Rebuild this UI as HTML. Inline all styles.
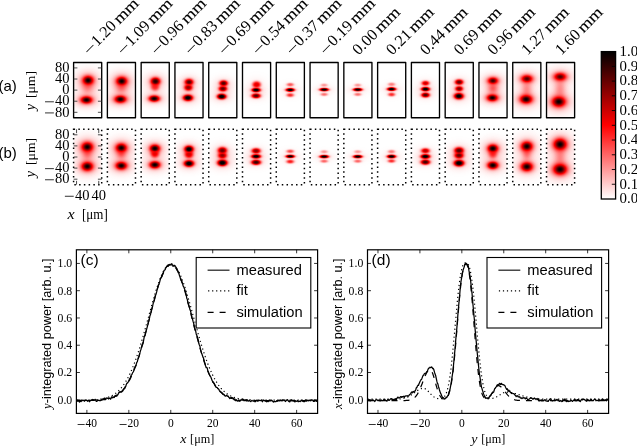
<!DOCTYPE html>
<html><head><meta charset="utf-8"><style>
html,body{margin:0;padding:0;background:#fff;width:637px;height:446px;overflow:hidden}
svg{display:block;will-change:transform;filter:blur(0.35px)}

</style></head><body>
<svg width="637" height="446" viewBox="0 0 637 446">
<rect width="637" height="446" fill="#fff"/>
<defs><filter id="bl" x="-20%" y="-20%" width="140%" height="140%" color-interpolation-filters="sRGB"><feGaussianBlur stdDeviation="0.6"/></filter><clipPath id="ca0"><rect x="73.60" y="62.47" width="28.10" height="55.30"/></clipPath><clipPath id="cb0"><rect x="73.60" y="129.35" width="28.10" height="55.30"/></clipPath><clipPath id="ca1"><rect x="107.38" y="62.47" width="28.10" height="55.30"/></clipPath><clipPath id="cb1"><rect x="107.38" y="129.35" width="28.10" height="55.30"/></clipPath><clipPath id="ca2"><rect x="141.16" y="62.47" width="28.10" height="55.30"/></clipPath><clipPath id="cb2"><rect x="141.16" y="129.35" width="28.10" height="55.30"/></clipPath><clipPath id="ca3"><rect x="174.94" y="62.47" width="28.10" height="55.30"/></clipPath><clipPath id="cb3"><rect x="174.94" y="129.35" width="28.10" height="55.30"/></clipPath><clipPath id="ca4"><rect x="208.72" y="62.47" width="28.10" height="55.30"/></clipPath><clipPath id="cb4"><rect x="208.72" y="129.35" width="28.10" height="55.30"/></clipPath><clipPath id="ca5"><rect x="242.50" y="62.47" width="28.10" height="55.30"/></clipPath><clipPath id="cb5"><rect x="242.50" y="129.35" width="28.10" height="55.30"/></clipPath><clipPath id="ca6"><rect x="276.28" y="62.47" width="28.10" height="55.30"/></clipPath><clipPath id="cb6"><rect x="276.28" y="129.35" width="28.10" height="55.30"/></clipPath><clipPath id="ca7"><rect x="310.06" y="62.47" width="28.10" height="55.30"/></clipPath><clipPath id="cb7"><rect x="310.06" y="129.35" width="28.10" height="55.30"/></clipPath><clipPath id="ca8"><rect x="343.84" y="62.47" width="28.10" height="55.30"/></clipPath><clipPath id="cb8"><rect x="343.84" y="129.35" width="28.10" height="55.30"/></clipPath><clipPath id="ca9"><rect x="377.62" y="62.47" width="28.10" height="55.30"/></clipPath><clipPath id="cb9"><rect x="377.62" y="129.35" width="28.10" height="55.30"/></clipPath><clipPath id="ca10"><rect x="411.40" y="62.47" width="28.10" height="55.30"/></clipPath><clipPath id="cb10"><rect x="411.40" y="129.35" width="28.10" height="55.30"/></clipPath><clipPath id="ca11"><rect x="445.18" y="62.47" width="28.10" height="55.30"/></clipPath><clipPath id="cb11"><rect x="445.18" y="129.35" width="28.10" height="55.30"/></clipPath><clipPath id="ca12"><rect x="478.96" y="62.47" width="28.10" height="55.30"/></clipPath><clipPath id="cb12"><rect x="478.96" y="129.35" width="28.10" height="55.30"/></clipPath><clipPath id="ca13"><rect x="512.74" y="62.47" width="28.10" height="55.30"/></clipPath><clipPath id="cb13"><rect x="512.74" y="129.35" width="28.10" height="55.30"/></clipPath><clipPath id="ca14"><rect x="546.52" y="62.47" width="28.10" height="55.30"/></clipPath><clipPath id="cb14"><rect x="546.52" y="129.35" width="28.10" height="55.30"/></clipPath><radialGradient id="r0"><stop offset="0.000" stop-color="#f00" stop-opacity="1.000"/><stop offset="0.025" stop-color="#f00" stop-opacity="1.000"/><stop offset="0.050" stop-color="#f00" stop-opacity="1.000"/><stop offset="0.075" stop-color="#f00" stop-opacity="1.000"/><stop offset="0.100" stop-color="#f00" stop-opacity="1.000"/><stop offset="0.125" stop-color="#f00" stop-opacity="1.000"/><stop offset="0.150" stop-color="#f00" stop-opacity="1.000"/><stop offset="0.175" stop-color="#f00" stop-opacity="1.000"/><stop offset="0.200" stop-color="#f00" stop-opacity="1.000"/><stop offset="0.225" stop-color="#f00" stop-opacity="0.870"/><stop offset="0.250" stop-color="#f00" stop-opacity="0.728"/><stop offset="0.275" stop-color="#f00" stop-opacity="0.602"/><stop offset="0.300" stop-color="#f00" stop-opacity="0.495"/><stop offset="0.325" stop-color="#f00" stop-opacity="0.405"/><stop offset="0.350" stop-color="#f00" stop-opacity="0.332"/><stop offset="0.375" stop-color="#f00" stop-opacity="0.273"/><stop offset="0.400" stop-color="#f00" stop-opacity="0.226"/><stop offset="0.425" stop-color="#f00" stop-opacity="0.189"/><stop offset="0.450" stop-color="#f00" stop-opacity="0.159"/><stop offset="0.475" stop-color="#f00" stop-opacity="0.135"/><stop offset="0.500" stop-color="#f00" stop-opacity="0.116"/><stop offset="0.525" stop-color="#f00" stop-opacity="0.100"/><stop offset="0.550" stop-color="#f00" stop-opacity="0.086"/><stop offset="0.575" stop-color="#f00" stop-opacity="0.075"/><stop offset="0.600" stop-color="#f00" stop-opacity="0.065"/><stop offset="0.625" stop-color="#f00" stop-opacity="0.056"/><stop offset="0.650" stop-color="#f00" stop-opacity="0.048"/><stop offset="0.675" stop-color="#f00" stop-opacity="0.041"/><stop offset="0.700" stop-color="#f00" stop-opacity="0.035"/><stop offset="0.725" stop-color="#f00" stop-opacity="0.030"/><stop offset="0.750" stop-color="#f00" stop-opacity="0.025"/><stop offset="0.775" stop-color="#f00" stop-opacity="0.021"/><stop offset="0.800" stop-color="#f00" stop-opacity="0.018"/><stop offset="0.825" stop-color="#f00" stop-opacity="0.015"/><stop offset="0.850" stop-color="#f00" stop-opacity="0.012"/><stop offset="0.875" stop-color="#f00" stop-opacity="0.010"/><stop offset="0.900" stop-color="#f00" stop-opacity="0.008"/><stop offset="0.925" stop-color="#f00" stop-opacity="0.007"/><stop offset="0.950" stop-color="#f00" stop-opacity="0.006"/><stop offset="0.975" stop-color="#f00" stop-opacity="0.004"/><stop offset="1.000" stop-color="#f00" stop-opacity="0.000"/></radialGradient><radialGradient id="k0"><stop offset="0.000" stop-color="#000" stop-opacity="1.000"/><stop offset="0.025" stop-color="#000" stop-opacity="0.978"/><stop offset="0.050" stop-color="#000" stop-opacity="0.915"/><stop offset="0.075" stop-color="#000" stop-opacity="0.815"/><stop offset="0.100" stop-color="#000" stop-opacity="0.684"/><stop offset="0.125" stop-color="#000" stop-opacity="0.530"/><stop offset="0.150" stop-color="#000" stop-opacity="0.364"/><stop offset="0.175" stop-color="#000" stop-opacity="0.194"/><stop offset="0.200" stop-color="#000" stop-opacity="0.027"/><stop offset="0.225" stop-color="#000" stop-opacity="0.000"/></radialGradient><radialGradient id="r1"><stop offset="0.000" stop-color="#f00" stop-opacity="0.440"/><stop offset="0.025" stop-color="#f00" stop-opacity="0.435"/><stop offset="0.050" stop-color="#f00" stop-opacity="0.421"/><stop offset="0.075" stop-color="#f00" stop-opacity="0.399"/><stop offset="0.100" stop-color="#f00" stop-opacity="0.370"/><stop offset="0.125" stop-color="#f00" stop-opacity="0.337"/><stop offset="0.150" stop-color="#f00" stop-opacity="0.300"/><stop offset="0.175" stop-color="#f00" stop-opacity="0.263"/><stop offset="0.200" stop-color="#f00" stop-opacity="0.226"/><stop offset="0.225" stop-color="#f00" stop-opacity="0.191"/><stop offset="0.250" stop-color="#f00" stop-opacity="0.160"/><stop offset="0.275" stop-color="#f00" stop-opacity="0.132"/><stop offset="0.300" stop-color="#f00" stop-opacity="0.109"/><stop offset="0.325" stop-color="#f00" stop-opacity="0.089"/><stop offset="0.350" stop-color="#f00" stop-opacity="0.073"/><stop offset="0.375" stop-color="#f00" stop-opacity="0.060"/><stop offset="0.400" stop-color="#f00" stop-opacity="0.050"/><stop offset="0.425" stop-color="#f00" stop-opacity="0.041"/><stop offset="0.450" stop-color="#f00" stop-opacity="0.035"/><stop offset="0.475" stop-color="#f00" stop-opacity="0.030"/><stop offset="0.500" stop-color="#f00" stop-opacity="0.025"/><stop offset="0.525" stop-color="#f00" stop-opacity="0.022"/><stop offset="0.550" stop-color="#f00" stop-opacity="0.019"/><stop offset="0.575" stop-color="#f00" stop-opacity="0.016"/><stop offset="0.600" stop-color="#f00" stop-opacity="0.014"/><stop offset="0.625" stop-color="#f00" stop-opacity="0.012"/><stop offset="0.650" stop-color="#f00" stop-opacity="0.011"/><stop offset="0.675" stop-color="#f00" stop-opacity="0.009"/><stop offset="0.700" stop-color="#f00" stop-opacity="0.008"/><stop offset="0.725" stop-color="#f00" stop-opacity="0.007"/><stop offset="0.750" stop-color="#f00" stop-opacity="0.006"/><stop offset="0.775" stop-color="#f00" stop-opacity="0.005"/><stop offset="0.800" stop-color="#f00" stop-opacity="0.004"/><stop offset="0.825" stop-color="#f00" stop-opacity="0.003"/><stop offset="0.850" stop-color="#f00" stop-opacity="0.003"/><stop offset="0.875" stop-color="#f00" stop-opacity="0.002"/><stop offset="0.900" stop-color="#f00" stop-opacity="0.002"/><stop offset="0.925" stop-color="#f00" stop-opacity="0.001"/><stop offset="0.950" stop-color="#f00" stop-opacity="0.001"/><stop offset="0.975" stop-color="#f00" stop-opacity="0.001"/><stop offset="1.000" stop-color="#f00" stop-opacity="0.000"/></radialGradient><radialGradient id="r2"><stop offset="0.000" stop-color="#f00" stop-opacity="0.500"/><stop offset="0.025" stop-color="#f00" stop-opacity="0.495"/><stop offset="0.050" stop-color="#f00" stop-opacity="0.479"/><stop offset="0.075" stop-color="#f00" stop-opacity="0.454"/><stop offset="0.100" stop-color="#f00" stop-opacity="0.421"/><stop offset="0.125" stop-color="#f00" stop-opacity="0.383"/><stop offset="0.150" stop-color="#f00" stop-opacity="0.341"/><stop offset="0.175" stop-color="#f00" stop-opacity="0.298"/><stop offset="0.200" stop-color="#f00" stop-opacity="0.257"/><stop offset="0.225" stop-color="#f00" stop-opacity="0.217"/><stop offset="0.250" stop-color="#f00" stop-opacity="0.182"/><stop offset="0.275" stop-color="#f00" stop-opacity="0.151"/><stop offset="0.300" stop-color="#f00" stop-opacity="0.124"/><stop offset="0.325" stop-color="#f00" stop-opacity="0.101"/><stop offset="0.350" stop-color="#f00" stop-opacity="0.083"/><stop offset="0.375" stop-color="#f00" stop-opacity="0.068"/><stop offset="0.400" stop-color="#f00" stop-opacity="0.056"/><stop offset="0.425" stop-color="#f00" stop-opacity="0.047"/><stop offset="0.450" stop-color="#f00" stop-opacity="0.040"/><stop offset="0.475" stop-color="#f00" stop-opacity="0.034"/><stop offset="0.500" stop-color="#f00" stop-opacity="0.029"/><stop offset="0.525" stop-color="#f00" stop-opacity="0.025"/><stop offset="0.550" stop-color="#f00" stop-opacity="0.022"/><stop offset="0.575" stop-color="#f00" stop-opacity="0.019"/><stop offset="0.600" stop-color="#f00" stop-opacity="0.016"/><stop offset="0.625" stop-color="#f00" stop-opacity="0.014"/><stop offset="0.650" stop-color="#f00" stop-opacity="0.012"/><stop offset="0.675" stop-color="#f00" stop-opacity="0.010"/><stop offset="0.700" stop-color="#f00" stop-opacity="0.009"/><stop offset="0.725" stop-color="#f00" stop-opacity="0.008"/><stop offset="0.750" stop-color="#f00" stop-opacity="0.006"/><stop offset="0.775" stop-color="#f00" stop-opacity="0.005"/><stop offset="0.800" stop-color="#f00" stop-opacity="0.004"/><stop offset="0.825" stop-color="#f00" stop-opacity="0.004"/><stop offset="0.850" stop-color="#f00" stop-opacity="0.003"/><stop offset="0.875" stop-color="#f00" stop-opacity="0.003"/><stop offset="0.900" stop-color="#f00" stop-opacity="0.002"/><stop offset="0.925" stop-color="#f00" stop-opacity="0.002"/><stop offset="0.950" stop-color="#f00" stop-opacity="0.001"/><stop offset="0.975" stop-color="#f00" stop-opacity="0.001"/><stop offset="1.000" stop-color="#f00" stop-opacity="0.000"/></radialGradient><radialGradient id="r3"><stop offset="0.000" stop-color="#f00" stop-opacity="0.600"/><stop offset="0.025" stop-color="#f00" stop-opacity="0.594"/><stop offset="0.050" stop-color="#f00" stop-opacity="0.575"/><stop offset="0.075" stop-color="#f00" stop-opacity="0.544"/><stop offset="0.100" stop-color="#f00" stop-opacity="0.505"/><stop offset="0.125" stop-color="#f00" stop-opacity="0.459"/><stop offset="0.150" stop-color="#f00" stop-opacity="0.409"/><stop offset="0.175" stop-color="#f00" stop-opacity="0.358"/><stop offset="0.200" stop-color="#f00" stop-opacity="0.308"/><stop offset="0.225" stop-color="#f00" stop-opacity="0.261"/><stop offset="0.250" stop-color="#f00" stop-opacity="0.218"/><stop offset="0.275" stop-color="#f00" stop-opacity="0.181"/><stop offset="0.300" stop-color="#f00" stop-opacity="0.149"/><stop offset="0.325" stop-color="#f00" stop-opacity="0.122"/><stop offset="0.350" stop-color="#f00" stop-opacity="0.100"/><stop offset="0.375" stop-color="#f00" stop-opacity="0.082"/><stop offset="0.400" stop-color="#f00" stop-opacity="0.068"/><stop offset="0.425" stop-color="#f00" stop-opacity="0.057"/><stop offset="0.450" stop-color="#f00" stop-opacity="0.048"/><stop offset="0.475" stop-color="#f00" stop-opacity="0.041"/><stop offset="0.500" stop-color="#f00" stop-opacity="0.035"/><stop offset="0.525" stop-color="#f00" stop-opacity="0.030"/><stop offset="0.550" stop-color="#f00" stop-opacity="0.026"/><stop offset="0.575" stop-color="#f00" stop-opacity="0.022"/><stop offset="0.600" stop-color="#f00" stop-opacity="0.019"/><stop offset="0.625" stop-color="#f00" stop-opacity="0.017"/><stop offset="0.650" stop-color="#f00" stop-opacity="0.014"/><stop offset="0.675" stop-color="#f00" stop-opacity="0.012"/><stop offset="0.700" stop-color="#f00" stop-opacity="0.011"/><stop offset="0.725" stop-color="#f00" stop-opacity="0.009"/><stop offset="0.750" stop-color="#f00" stop-opacity="0.008"/><stop offset="0.775" stop-color="#f00" stop-opacity="0.006"/><stop offset="0.800" stop-color="#f00" stop-opacity="0.005"/><stop offset="0.825" stop-color="#f00" stop-opacity="0.004"/><stop offset="0.850" stop-color="#f00" stop-opacity="0.004"/><stop offset="0.875" stop-color="#f00" stop-opacity="0.003"/><stop offset="0.900" stop-color="#f00" stop-opacity="0.003"/><stop offset="0.925" stop-color="#f00" stop-opacity="0.002"/><stop offset="0.950" stop-color="#f00" stop-opacity="0.002"/><stop offset="0.975" stop-color="#f00" stop-opacity="0.001"/><stop offset="1.000" stop-color="#f00" stop-opacity="0.000"/></radialGradient><radialGradient id="r4"><stop offset="0.000" stop-color="#f00" stop-opacity="1.000"/><stop offset="0.025" stop-color="#f00" stop-opacity="1.000"/><stop offset="0.050" stop-color="#f00" stop-opacity="1.000"/><stop offset="0.075" stop-color="#f00" stop-opacity="1.000"/><stop offset="0.100" stop-color="#f00" stop-opacity="1.000"/><stop offset="0.125" stop-color="#f00" stop-opacity="1.000"/><stop offset="0.150" stop-color="#f00" stop-opacity="1.000"/><stop offset="0.175" stop-color="#f00" stop-opacity="1.000"/><stop offset="0.200" stop-color="#f00" stop-opacity="0.953"/><stop offset="0.225" stop-color="#f00" stop-opacity="0.777"/><stop offset="0.250" stop-color="#f00" stop-opacity="0.617"/><stop offset="0.275" stop-color="#f00" stop-opacity="0.480"/><stop offset="0.300" stop-color="#f00" stop-opacity="0.369"/><stop offset="0.325" stop-color="#f00" stop-opacity="0.283"/><stop offset="0.350" stop-color="#f00" stop-opacity="0.218"/><stop offset="0.375" stop-color="#f00" stop-opacity="0.172"/><stop offset="0.400" stop-color="#f00" stop-opacity="0.139"/><stop offset="0.425" stop-color="#f00" stop-opacity="0.115"/><stop offset="0.450" stop-color="#f00" stop-opacity="0.098"/><stop offset="0.475" stop-color="#f00" stop-opacity="0.085"/><stop offset="0.500" stop-color="#f00" stop-opacity="0.074"/><stop offset="0.525" stop-color="#f00" stop-opacity="0.065"/><stop offset="0.550" stop-color="#f00" stop-opacity="0.058"/><stop offset="0.575" stop-color="#f00" stop-opacity="0.051"/><stop offset="0.600" stop-color="#f00" stop-opacity="0.044"/><stop offset="0.625" stop-color="#f00" stop-opacity="0.038"/><stop offset="0.650" stop-color="#f00" stop-opacity="0.033"/><stop offset="0.675" stop-color="#f00" stop-opacity="0.029"/><stop offset="0.700" stop-color="#f00" stop-opacity="0.025"/><stop offset="0.725" stop-color="#f00" stop-opacity="0.021"/><stop offset="0.750" stop-color="#f00" stop-opacity="0.018"/><stop offset="0.775" stop-color="#f00" stop-opacity="0.015"/><stop offset="0.800" stop-color="#f00" stop-opacity="0.013"/><stop offset="0.825" stop-color="#f00" stop-opacity="0.010"/><stop offset="0.850" stop-color="#f00" stop-opacity="0.009"/><stop offset="0.875" stop-color="#f00" stop-opacity="0.007"/><stop offset="0.900" stop-color="#f00" stop-opacity="0.006"/><stop offset="0.925" stop-color="#f00" stop-opacity="0.005"/><stop offset="0.950" stop-color="#f00" stop-opacity="0.004"/><stop offset="0.975" stop-color="#f00" stop-opacity="0.003"/><stop offset="1.000" stop-color="#f00" stop-opacity="0.000"/></radialGradient><radialGradient id="k4"><stop offset="0.000" stop-color="#000" stop-opacity="0.860"/><stop offset="0.025" stop-color="#000" stop-opacity="0.851"/><stop offset="0.050" stop-color="#000" stop-opacity="0.814"/><stop offset="0.075" stop-color="#000" stop-opacity="0.741"/><stop offset="0.100" stop-color="#000" stop-opacity="0.631"/><stop offset="0.125" stop-color="#000" stop-opacity="0.489"/><stop offset="0.150" stop-color="#000" stop-opacity="0.321"/><stop offset="0.175" stop-color="#000" stop-opacity="0.139"/><stop offset="0.200" stop-color="#000" stop-opacity="0.000"/></radialGradient><radialGradient id="r5"><stop offset="0.000" stop-color="#f00" stop-opacity="1.000"/><stop offset="0.025" stop-color="#f00" stop-opacity="1.000"/><stop offset="0.050" stop-color="#f00" stop-opacity="1.000"/><stop offset="0.075" stop-color="#f00" stop-opacity="1.000"/><stop offset="0.100" stop-color="#f00" stop-opacity="1.000"/><stop offset="0.125" stop-color="#f00" stop-opacity="1.000"/><stop offset="0.150" stop-color="#f00" stop-opacity="1.000"/><stop offset="0.175" stop-color="#f00" stop-opacity="1.000"/><stop offset="0.200" stop-color="#f00" stop-opacity="1.000"/><stop offset="0.225" stop-color="#f00" stop-opacity="0.835"/><stop offset="0.250" stop-color="#f00" stop-opacity="0.677"/><stop offset="0.275" stop-color="#f00" stop-opacity="0.540"/><stop offset="0.300" stop-color="#f00" stop-opacity="0.425"/><stop offset="0.325" stop-color="#f00" stop-opacity="0.333"/><stop offset="0.350" stop-color="#f00" stop-opacity="0.262"/><stop offset="0.375" stop-color="#f00" stop-opacity="0.207"/><stop offset="0.400" stop-color="#f00" stop-opacity="0.167"/><stop offset="0.425" stop-color="#f00" stop-opacity="0.136"/><stop offset="0.450" stop-color="#f00" stop-opacity="0.114"/><stop offset="0.475" stop-color="#f00" stop-opacity="0.097"/><stop offset="0.500" stop-color="#f00" stop-opacity="0.083"/><stop offset="0.525" stop-color="#f00" stop-opacity="0.072"/><stop offset="0.550" stop-color="#f00" stop-opacity="0.063"/><stop offset="0.575" stop-color="#f00" stop-opacity="0.055"/><stop offset="0.600" stop-color="#f00" stop-opacity="0.048"/><stop offset="0.625" stop-color="#f00" stop-opacity="0.042"/><stop offset="0.650" stop-color="#f00" stop-opacity="0.036"/><stop offset="0.675" stop-color="#f00" stop-opacity="0.031"/><stop offset="0.700" stop-color="#f00" stop-opacity="0.026"/><stop offset="0.725" stop-color="#f00" stop-opacity="0.023"/><stop offset="0.750" stop-color="#f00" stop-opacity="0.019"/><stop offset="0.775" stop-color="#f00" stop-opacity="0.016"/><stop offset="0.800" stop-color="#f00" stop-opacity="0.013"/><stop offset="0.825" stop-color="#f00" stop-opacity="0.011"/><stop offset="0.850" stop-color="#f00" stop-opacity="0.009"/><stop offset="0.875" stop-color="#f00" stop-opacity="0.008"/><stop offset="0.900" stop-color="#f00" stop-opacity="0.006"/><stop offset="0.925" stop-color="#f00" stop-opacity="0.005"/><stop offset="0.950" stop-color="#f00" stop-opacity="0.004"/><stop offset="0.975" stop-color="#f00" stop-opacity="0.003"/><stop offset="1.000" stop-color="#f00" stop-opacity="0.000"/></radialGradient><radialGradient id="k5"><stop offset="0.000" stop-color="#000" stop-opacity="1.000"/><stop offset="0.025" stop-color="#000" stop-opacity="0.985"/><stop offset="0.050" stop-color="#000" stop-opacity="0.934"/><stop offset="0.075" stop-color="#000" stop-opacity="0.843"/><stop offset="0.100" stop-color="#000" stop-opacity="0.716"/><stop offset="0.125" stop-color="#000" stop-opacity="0.559"/><stop offset="0.150" stop-color="#000" stop-opacity="0.383"/><stop offset="0.175" stop-color="#000" stop-opacity="0.196"/><stop offset="0.200" stop-color="#000" stop-opacity="0.011"/><stop offset="0.225" stop-color="#000" stop-opacity="0.000"/></radialGradient><radialGradient id="r6"><stop offset="0.000" stop-color="#f00" stop-opacity="0.840"/><stop offset="0.025" stop-color="#f00" stop-opacity="0.838"/><stop offset="0.050" stop-color="#f00" stop-opacity="0.828"/><stop offset="0.075" stop-color="#f00" stop-opacity="0.804"/><stop offset="0.100" stop-color="#f00" stop-opacity="0.762"/><stop offset="0.125" stop-color="#f00" stop-opacity="0.701"/><stop offset="0.150" stop-color="#f00" stop-opacity="0.623"/><stop offset="0.175" stop-color="#f00" stop-opacity="0.533"/><stop offset="0.200" stop-color="#f00" stop-opacity="0.437"/><stop offset="0.225" stop-color="#f00" stop-opacity="0.343"/><stop offset="0.250" stop-color="#f00" stop-opacity="0.259"/><stop offset="0.275" stop-color="#f00" stop-opacity="0.189"/><stop offset="0.300" stop-color="#f00" stop-opacity="0.136"/><stop offset="0.325" stop-color="#f00" stop-opacity="0.097"/><stop offset="0.350" stop-color="#f00" stop-opacity="0.072"/><stop offset="0.375" stop-color="#f00" stop-opacity="0.056"/><stop offset="0.400" stop-color="#f00" stop-opacity="0.046"/><stop offset="0.425" stop-color="#f00" stop-opacity="0.039"/><stop offset="0.450" stop-color="#f00" stop-opacity="0.034"/><stop offset="0.475" stop-color="#f00" stop-opacity="0.031"/><stop offset="0.500" stop-color="#f00" stop-opacity="0.027"/><stop offset="0.525" stop-color="#f00" stop-opacity="0.024"/><stop offset="0.550" stop-color="#f00" stop-opacity="0.022"/><stop offset="0.575" stop-color="#f00" stop-opacity="0.019"/><stop offset="0.600" stop-color="#f00" stop-opacity="0.017"/><stop offset="0.625" stop-color="#f00" stop-opacity="0.014"/><stop offset="0.650" stop-color="#f00" stop-opacity="0.013"/><stop offset="0.675" stop-color="#f00" stop-opacity="0.011"/><stop offset="0.700" stop-color="#f00" stop-opacity="0.009"/><stop offset="0.725" stop-color="#f00" stop-opacity="0.008"/><stop offset="0.750" stop-color="#f00" stop-opacity="0.007"/><stop offset="0.775" stop-color="#f00" stop-opacity="0.006"/><stop offset="0.800" stop-color="#f00" stop-opacity="0.005"/><stop offset="0.825" stop-color="#f00" stop-opacity="0.004"/><stop offset="0.850" stop-color="#f00" stop-opacity="0.003"/><stop offset="0.875" stop-color="#f00" stop-opacity="0.003"/><stop offset="0.900" stop-color="#f00" stop-opacity="0.002"/><stop offset="0.925" stop-color="#f00" stop-opacity="0.002"/><stop offset="0.950" stop-color="#f00" stop-opacity="0.001"/><stop offset="0.975" stop-color="#f00" stop-opacity="0.001"/><stop offset="1.000" stop-color="#f00" stop-opacity="0.000"/></radialGradient><radialGradient id="r7"><stop offset="0.000" stop-color="#f00" stop-opacity="1.000"/><stop offset="0.025" stop-color="#f00" stop-opacity="1.000"/><stop offset="0.050" stop-color="#f00" stop-opacity="1.000"/><stop offset="0.075" stop-color="#f00" stop-opacity="1.000"/><stop offset="0.100" stop-color="#f00" stop-opacity="1.000"/><stop offset="0.125" stop-color="#f00" stop-opacity="1.000"/><stop offset="0.150" stop-color="#f00" stop-opacity="1.000"/><stop offset="0.175" stop-color="#f00" stop-opacity="1.000"/><stop offset="0.200" stop-color="#f00" stop-opacity="1.000"/><stop offset="0.225" stop-color="#f00" stop-opacity="0.852"/><stop offset="0.250" stop-color="#f00" stop-opacity="0.696"/><stop offset="0.275" stop-color="#f00" stop-opacity="0.560"/><stop offset="0.300" stop-color="#f00" stop-opacity="0.446"/><stop offset="0.325" stop-color="#f00" stop-opacity="0.354"/><stop offset="0.350" stop-color="#f00" stop-opacity="0.282"/><stop offset="0.375" stop-color="#f00" stop-opacity="0.227"/><stop offset="0.400" stop-color="#f00" stop-opacity="0.185"/><stop offset="0.425" stop-color="#f00" stop-opacity="0.154"/><stop offset="0.450" stop-color="#f00" stop-opacity="0.130"/><stop offset="0.475" stop-color="#f00" stop-opacity="0.111"/><stop offset="0.500" stop-color="#f00" stop-opacity="0.096"/><stop offset="0.525" stop-color="#f00" stop-opacity="0.084"/><stop offset="0.550" stop-color="#f00" stop-opacity="0.073"/><stop offset="0.575" stop-color="#f00" stop-opacity="0.064"/><stop offset="0.600" stop-color="#f00" stop-opacity="0.056"/><stop offset="0.625" stop-color="#f00" stop-opacity="0.048"/><stop offset="0.650" stop-color="#f00" stop-opacity="0.042"/><stop offset="0.675" stop-color="#f00" stop-opacity="0.036"/><stop offset="0.700" stop-color="#f00" stop-opacity="0.031"/><stop offset="0.725" stop-color="#f00" stop-opacity="0.026"/><stop offset="0.750" stop-color="#f00" stop-opacity="0.022"/><stop offset="0.775" stop-color="#f00" stop-opacity="0.019"/><stop offset="0.800" stop-color="#f00" stop-opacity="0.016"/><stop offset="0.825" stop-color="#f00" stop-opacity="0.013"/><stop offset="0.850" stop-color="#f00" stop-opacity="0.011"/><stop offset="0.875" stop-color="#f00" stop-opacity="0.009"/><stop offset="0.900" stop-color="#f00" stop-opacity="0.007"/><stop offset="0.925" stop-color="#f00" stop-opacity="0.006"/><stop offset="0.950" stop-color="#f00" stop-opacity="0.005"/><stop offset="0.975" stop-color="#f00" stop-opacity="0.004"/><stop offset="1.000" stop-color="#f00" stop-opacity="0.000"/></radialGradient><radialGradient id="k7"><stop offset="0.000" stop-color="#000" stop-opacity="1.000"/><stop offset="0.025" stop-color="#000" stop-opacity="0.986"/><stop offset="0.050" stop-color="#000" stop-opacity="0.935"/><stop offset="0.075" stop-color="#000" stop-opacity="0.846"/><stop offset="0.100" stop-color="#000" stop-opacity="0.721"/><stop offset="0.125" stop-color="#000" stop-opacity="0.566"/><stop offset="0.150" stop-color="#000" stop-opacity="0.392"/><stop offset="0.175" stop-color="#000" stop-opacity="0.209"/><stop offset="0.200" stop-color="#000" stop-opacity="0.026"/><stop offset="0.225" stop-color="#000" stop-opacity="0.000"/></radialGradient><radialGradient id="r8"><stop offset="0.000" stop-color="#f00" stop-opacity="1.000"/><stop offset="0.025" stop-color="#f00" stop-opacity="1.000"/><stop offset="0.050" stop-color="#f00" stop-opacity="1.000"/><stop offset="0.075" stop-color="#f00" stop-opacity="1.000"/><stop offset="0.100" stop-color="#f00" stop-opacity="0.997"/><stop offset="0.125" stop-color="#f00" stop-opacity="0.918"/><stop offset="0.150" stop-color="#f00" stop-opacity="0.816"/><stop offset="0.175" stop-color="#f00" stop-opacity="0.698"/><stop offset="0.200" stop-color="#f00" stop-opacity="0.572"/><stop offset="0.225" stop-color="#f00" stop-opacity="0.449"/><stop offset="0.250" stop-color="#f00" stop-opacity="0.339"/><stop offset="0.275" stop-color="#f00" stop-opacity="0.248"/><stop offset="0.300" stop-color="#f00" stop-opacity="0.177"/><stop offset="0.325" stop-color="#f00" stop-opacity="0.127"/><stop offset="0.350" stop-color="#f00" stop-opacity="0.094"/><stop offset="0.375" stop-color="#f00" stop-opacity="0.073"/><stop offset="0.400" stop-color="#f00" stop-opacity="0.060"/><stop offset="0.425" stop-color="#f00" stop-opacity="0.051"/><stop offset="0.450" stop-color="#f00" stop-opacity="0.045"/><stop offset="0.475" stop-color="#f00" stop-opacity="0.040"/><stop offset="0.500" stop-color="#f00" stop-opacity="0.036"/><stop offset="0.525" stop-color="#f00" stop-opacity="0.032"/><stop offset="0.550" stop-color="#f00" stop-opacity="0.028"/><stop offset="0.575" stop-color="#f00" stop-opacity="0.025"/><stop offset="0.600" stop-color="#f00" stop-opacity="0.022"/><stop offset="0.625" stop-color="#f00" stop-opacity="0.019"/><stop offset="0.650" stop-color="#f00" stop-opacity="0.016"/><stop offset="0.675" stop-color="#f00" stop-opacity="0.014"/><stop offset="0.700" stop-color="#f00" stop-opacity="0.012"/><stop offset="0.725" stop-color="#f00" stop-opacity="0.010"/><stop offset="0.750" stop-color="#f00" stop-opacity="0.009"/><stop offset="0.775" stop-color="#f00" stop-opacity="0.007"/><stop offset="0.800" stop-color="#f00" stop-opacity="0.006"/><stop offset="0.825" stop-color="#f00" stop-opacity="0.005"/><stop offset="0.850" stop-color="#f00" stop-opacity="0.004"/><stop offset="0.875" stop-color="#f00" stop-opacity="0.004"/><stop offset="0.900" stop-color="#f00" stop-opacity="0.003"/><stop offset="0.925" stop-color="#f00" stop-opacity="0.002"/><stop offset="0.950" stop-color="#f00" stop-opacity="0.002"/><stop offset="0.975" stop-color="#f00" stop-opacity="0.002"/><stop offset="1.000" stop-color="#f00" stop-opacity="0.000"/></radialGradient><radialGradient id="k8"><stop offset="0.000" stop-color="#000" stop-opacity="0.100"/><stop offset="0.025" stop-color="#000" stop-opacity="0.098"/><stop offset="0.050" stop-color="#000" stop-opacity="0.084"/><stop offset="0.075" stop-color="#000" stop-opacity="0.052"/><stop offset="0.100" stop-color="#000" stop-opacity="0.000"/></radialGradient><radialGradient id="r9"><stop offset="0.000" stop-color="#f00" stop-opacity="1.000"/><stop offset="0.025" stop-color="#f00" stop-opacity="1.000"/><stop offset="0.050" stop-color="#f00" stop-opacity="1.000"/><stop offset="0.075" stop-color="#f00" stop-opacity="1.000"/><stop offset="0.100" stop-color="#f00" stop-opacity="1.000"/><stop offset="0.125" stop-color="#f00" stop-opacity="1.000"/><stop offset="0.150" stop-color="#f00" stop-opacity="1.000"/><stop offset="0.175" stop-color="#f00" stop-opacity="1.000"/><stop offset="0.200" stop-color="#f00" stop-opacity="0.859"/><stop offset="0.225" stop-color="#f00" stop-opacity="0.695"/><stop offset="0.250" stop-color="#f00" stop-opacity="0.547"/><stop offset="0.275" stop-color="#f00" stop-opacity="0.421"/><stop offset="0.300" stop-color="#f00" stop-opacity="0.319"/><stop offset="0.325" stop-color="#f00" stop-opacity="0.240"/><stop offset="0.350" stop-color="#f00" stop-opacity="0.182"/><stop offset="0.375" stop-color="#f00" stop-opacity="0.140"/><stop offset="0.400" stop-color="#f00" stop-opacity="0.111"/><stop offset="0.425" stop-color="#f00" stop-opacity="0.090"/><stop offset="0.450" stop-color="#f00" stop-opacity="0.076"/><stop offset="0.475" stop-color="#f00" stop-opacity="0.065"/><stop offset="0.500" stop-color="#f00" stop-opacity="0.057"/><stop offset="0.525" stop-color="#f00" stop-opacity="0.050"/><stop offset="0.550" stop-color="#f00" stop-opacity="0.044"/><stop offset="0.575" stop-color="#f00" stop-opacity="0.039"/><stop offset="0.600" stop-color="#f00" stop-opacity="0.034"/><stop offset="0.625" stop-color="#f00" stop-opacity="0.029"/><stop offset="0.650" stop-color="#f00" stop-opacity="0.025"/><stop offset="0.675" stop-color="#f00" stop-opacity="0.022"/><stop offset="0.700" stop-color="#f00" stop-opacity="0.019"/><stop offset="0.725" stop-color="#f00" stop-opacity="0.016"/><stop offset="0.750" stop-color="#f00" stop-opacity="0.014"/><stop offset="0.775" stop-color="#f00" stop-opacity="0.011"/><stop offset="0.800" stop-color="#f00" stop-opacity="0.010"/><stop offset="0.825" stop-color="#f00" stop-opacity="0.008"/><stop offset="0.850" stop-color="#f00" stop-opacity="0.007"/><stop offset="0.875" stop-color="#f00" stop-opacity="0.005"/><stop offset="0.900" stop-color="#f00" stop-opacity="0.004"/><stop offset="0.925" stop-color="#f00" stop-opacity="0.004"/><stop offset="0.950" stop-color="#f00" stop-opacity="0.003"/><stop offset="0.975" stop-color="#f00" stop-opacity="0.002"/><stop offset="1.000" stop-color="#f00" stop-opacity="0.000"/></radialGradient><radialGradient id="k9"><stop offset="0.000" stop-color="#000" stop-opacity="0.700"/><stop offset="0.025" stop-color="#000" stop-opacity="0.692"/><stop offset="0.050" stop-color="#000" stop-opacity="0.657"/><stop offset="0.075" stop-color="#000" stop-opacity="0.589"/><stop offset="0.100" stop-color="#000" stop-opacity="0.488"/><stop offset="0.125" stop-color="#000" stop-opacity="0.356"/><stop offset="0.150" stop-color="#000" stop-opacity="0.200"/><stop offset="0.175" stop-color="#000" stop-opacity="0.031"/><stop offset="0.200" stop-color="#000" stop-opacity="0.000"/></radialGradient><radialGradient id="r10"><stop offset="0.000" stop-color="#f00" stop-opacity="1.000"/><stop offset="0.025" stop-color="#f00" stop-opacity="1.000"/><stop offset="0.050" stop-color="#f00" stop-opacity="1.000"/><stop offset="0.075" stop-color="#f00" stop-opacity="1.000"/><stop offset="0.100" stop-color="#f00" stop-opacity="1.000"/><stop offset="0.125" stop-color="#f00" stop-opacity="1.000"/><stop offset="0.150" stop-color="#f00" stop-opacity="1.000"/><stop offset="0.175" stop-color="#f00" stop-opacity="0.893"/><stop offset="0.200" stop-color="#f00" stop-opacity="0.738"/><stop offset="0.225" stop-color="#f00" stop-opacity="0.589"/><stop offset="0.250" stop-color="#f00" stop-opacity="0.454"/><stop offset="0.275" stop-color="#f00" stop-opacity="0.340"/><stop offset="0.300" stop-color="#f00" stop-opacity="0.251"/><stop offset="0.325" stop-color="#f00" stop-opacity="0.184"/><stop offset="0.350" stop-color="#f00" stop-opacity="0.137"/><stop offset="0.375" stop-color="#f00" stop-opacity="0.106"/><stop offset="0.400" stop-color="#f00" stop-opacity="0.085"/><stop offset="0.425" stop-color="#f00" stop-opacity="0.071"/><stop offset="0.450" stop-color="#f00" stop-opacity="0.061"/><stop offset="0.475" stop-color="#f00" stop-opacity="0.053"/><stop offset="0.500" stop-color="#f00" stop-opacity="0.047"/><stop offset="0.525" stop-color="#f00" stop-opacity="0.042"/><stop offset="0.550" stop-color="#f00" stop-opacity="0.037"/><stop offset="0.575" stop-color="#f00" stop-opacity="0.033"/><stop offset="0.600" stop-color="#f00" stop-opacity="0.029"/><stop offset="0.625" stop-color="#f00" stop-opacity="0.025"/><stop offset="0.650" stop-color="#f00" stop-opacity="0.022"/><stop offset="0.675" stop-color="#f00" stop-opacity="0.019"/><stop offset="0.700" stop-color="#f00" stop-opacity="0.016"/><stop offset="0.725" stop-color="#f00" stop-opacity="0.014"/><stop offset="0.750" stop-color="#f00" stop-opacity="0.011"/><stop offset="0.775" stop-color="#f00" stop-opacity="0.010"/><stop offset="0.800" stop-color="#f00" stop-opacity="0.008"/><stop offset="0.825" stop-color="#f00" stop-opacity="0.007"/><stop offset="0.850" stop-color="#f00" stop-opacity="0.006"/><stop offset="0.875" stop-color="#f00" stop-opacity="0.005"/><stop offset="0.900" stop-color="#f00" stop-opacity="0.004"/><stop offset="0.925" stop-color="#f00" stop-opacity="0.003"/><stop offset="0.950" stop-color="#f00" stop-opacity="0.002"/><stop offset="0.975" stop-color="#f00" stop-opacity="0.002"/><stop offset="1.000" stop-color="#f00" stop-opacity="0.000"/></radialGradient><radialGradient id="k10"><stop offset="0.000" stop-color="#000" stop-opacity="0.440"/><stop offset="0.025" stop-color="#000" stop-opacity="0.435"/><stop offset="0.050" stop-color="#000" stop-opacity="0.413"/><stop offset="0.075" stop-color="#000" stop-opacity="0.364"/><stop offset="0.100" stop-color="#000" stop-opacity="0.285"/><stop offset="0.125" stop-color="#000" stop-opacity="0.176"/><stop offset="0.150" stop-color="#000" stop-opacity="0.043"/><stop offset="0.175" stop-color="#000" stop-opacity="0.000"/></radialGradient><radialGradient id="r11"><stop offset="0.000" stop-color="#f00" stop-opacity="1.000"/><stop offset="0.025" stop-color="#f00" stop-opacity="1.000"/><stop offset="0.050" stop-color="#f00" stop-opacity="1.000"/><stop offset="0.075" stop-color="#f00" stop-opacity="1.000"/><stop offset="0.100" stop-color="#f00" stop-opacity="1.000"/><stop offset="0.125" stop-color="#f00" stop-opacity="1.000"/><stop offset="0.150" stop-color="#f00" stop-opacity="1.000"/><stop offset="0.175" stop-color="#f00" stop-opacity="1.000"/><stop offset="0.200" stop-color="#f00" stop-opacity="1.000"/><stop offset="0.225" stop-color="#f00" stop-opacity="0.867"/><stop offset="0.250" stop-color="#f00" stop-opacity="0.683"/><stop offset="0.275" stop-color="#f00" stop-opacity="0.526"/><stop offset="0.300" stop-color="#f00" stop-opacity="0.398"/><stop offset="0.325" stop-color="#f00" stop-opacity="0.300"/><stop offset="0.350" stop-color="#f00" stop-opacity="0.227"/><stop offset="0.375" stop-color="#f00" stop-opacity="0.175"/><stop offset="0.400" stop-color="#f00" stop-opacity="0.138"/><stop offset="0.425" stop-color="#f00" stop-opacity="0.113"/><stop offset="0.450" stop-color="#f00" stop-opacity="0.095"/><stop offset="0.475" stop-color="#f00" stop-opacity="0.081"/><stop offset="0.500" stop-color="#f00" stop-opacity="0.071"/><stop offset="0.525" stop-color="#f00" stop-opacity="0.062"/><stop offset="0.550" stop-color="#f00" stop-opacity="0.055"/><stop offset="0.575" stop-color="#f00" stop-opacity="0.048"/><stop offset="0.600" stop-color="#f00" stop-opacity="0.042"/><stop offset="0.625" stop-color="#f00" stop-opacity="0.037"/><stop offset="0.650" stop-color="#f00" stop-opacity="0.032"/><stop offset="0.675" stop-color="#f00" stop-opacity="0.027"/><stop offset="0.700" stop-color="#f00" stop-opacity="0.023"/><stop offset="0.725" stop-color="#f00" stop-opacity="0.020"/><stop offset="0.750" stop-color="#f00" stop-opacity="0.017"/><stop offset="0.775" stop-color="#f00" stop-opacity="0.014"/><stop offset="0.800" stop-color="#f00" stop-opacity="0.012"/><stop offset="0.825" stop-color="#f00" stop-opacity="0.010"/><stop offset="0.850" stop-color="#f00" stop-opacity="0.008"/><stop offset="0.875" stop-color="#f00" stop-opacity="0.007"/><stop offset="0.900" stop-color="#f00" stop-opacity="0.006"/><stop offset="0.925" stop-color="#f00" stop-opacity="0.005"/><stop offset="0.950" stop-color="#f00" stop-opacity="0.004"/><stop offset="0.975" stop-color="#f00" stop-opacity="0.003"/><stop offset="1.000" stop-color="#f00" stop-opacity="0.000"/></radialGradient><radialGradient id="k11"><stop offset="0.000" stop-color="#000" stop-opacity="1.120"/><stop offset="0.025" stop-color="#000" stop-opacity="1.110"/><stop offset="0.050" stop-color="#000" stop-opacity="1.066"/><stop offset="0.075" stop-color="#000" stop-opacity="0.982"/><stop offset="0.100" stop-color="#000" stop-opacity="0.855"/><stop offset="0.125" stop-color="#000" stop-opacity="0.691"/><stop offset="0.150" stop-color="#000" stop-opacity="0.496"/><stop offset="0.175" stop-color="#000" stop-opacity="0.285"/><stop offset="0.200" stop-color="#000" stop-opacity="0.071"/><stop offset="0.225" stop-color="#000" stop-opacity="0.000"/></radialGradient><radialGradient id="r12"><stop offset="0.000" stop-color="#f00" stop-opacity="1.000"/><stop offset="0.025" stop-color="#f00" stop-opacity="1.000"/><stop offset="0.050" stop-color="#f00" stop-opacity="1.000"/><stop offset="0.075" stop-color="#f00" stop-opacity="1.000"/><stop offset="0.100" stop-color="#f00" stop-opacity="1.000"/><stop offset="0.125" stop-color="#f00" stop-opacity="1.000"/><stop offset="0.150" stop-color="#f00" stop-opacity="0.890"/><stop offset="0.175" stop-color="#f00" stop-opacity="0.761"/><stop offset="0.200" stop-color="#f00" stop-opacity="0.624"/><stop offset="0.225" stop-color="#f00" stop-opacity="0.490"/><stop offset="0.250" stop-color="#f00" stop-opacity="0.370"/><stop offset="0.275" stop-color="#f00" stop-opacity="0.270"/><stop offset="0.300" stop-color="#f00" stop-opacity="0.194"/><stop offset="0.325" stop-color="#f00" stop-opacity="0.139"/><stop offset="0.350" stop-color="#f00" stop-opacity="0.103"/><stop offset="0.375" stop-color="#f00" stop-opacity="0.080"/><stop offset="0.400" stop-color="#f00" stop-opacity="0.065"/><stop offset="0.425" stop-color="#f00" stop-opacity="0.056"/><stop offset="0.450" stop-color="#f00" stop-opacity="0.049"/><stop offset="0.475" stop-color="#f00" stop-opacity="0.044"/><stop offset="0.500" stop-color="#f00" stop-opacity="0.039"/><stop offset="0.525" stop-color="#f00" stop-opacity="0.035"/><stop offset="0.550" stop-color="#f00" stop-opacity="0.031"/><stop offset="0.575" stop-color="#f00" stop-opacity="0.027"/><stop offset="0.600" stop-color="#f00" stop-opacity="0.024"/><stop offset="0.625" stop-color="#f00" stop-opacity="0.021"/><stop offset="0.650" stop-color="#f00" stop-opacity="0.018"/><stop offset="0.675" stop-color="#f00" stop-opacity="0.015"/><stop offset="0.700" stop-color="#f00" stop-opacity="0.013"/><stop offset="0.725" stop-color="#f00" stop-opacity="0.011"/><stop offset="0.750" stop-color="#f00" stop-opacity="0.010"/><stop offset="0.775" stop-color="#f00" stop-opacity="0.008"/><stop offset="0.800" stop-color="#f00" stop-opacity="0.007"/><stop offset="0.825" stop-color="#f00" stop-opacity="0.006"/><stop offset="0.850" stop-color="#f00" stop-opacity="0.005"/><stop offset="0.875" stop-color="#f00" stop-opacity="0.004"/><stop offset="0.900" stop-color="#f00" stop-opacity="0.003"/><stop offset="0.925" stop-color="#f00" stop-opacity="0.003"/><stop offset="0.950" stop-color="#f00" stop-opacity="0.002"/><stop offset="0.975" stop-color="#f00" stop-opacity="0.002"/><stop offset="1.000" stop-color="#f00" stop-opacity="0.000"/></radialGradient><radialGradient id="k12"><stop offset="0.000" stop-color="#000" stop-opacity="0.200"/><stop offset="0.025" stop-color="#000" stop-opacity="0.197"/><stop offset="0.050" stop-color="#000" stop-opacity="0.183"/><stop offset="0.075" stop-color="#000" stop-opacity="0.148"/><stop offset="0.100" stop-color="#000" stop-opacity="0.088"/><stop offset="0.125" stop-color="#000" stop-opacity="0.001"/><stop offset="0.150" stop-color="#000" stop-opacity="0.000"/></radialGradient><radialGradient id="r13"><stop offset="0.000" stop-color="#f00" stop-opacity="1.000"/><stop offset="0.025" stop-color="#f00" stop-opacity="1.000"/><stop offset="0.050" stop-color="#f00" stop-opacity="1.000"/><stop offset="0.075" stop-color="#f00" stop-opacity="1.000"/><stop offset="0.100" stop-color="#f00" stop-opacity="1.000"/><stop offset="0.125" stop-color="#f00" stop-opacity="1.000"/><stop offset="0.150" stop-color="#f00" stop-opacity="1.000"/><stop offset="0.175" stop-color="#f00" stop-opacity="1.000"/><stop offset="0.200" stop-color="#f00" stop-opacity="0.859"/><stop offset="0.225" stop-color="#f00" stop-opacity="0.680"/><stop offset="0.250" stop-color="#f00" stop-opacity="0.519"/><stop offset="0.275" stop-color="#f00" stop-opacity="0.384"/><stop offset="0.300" stop-color="#f00" stop-opacity="0.277"/><stop offset="0.325" stop-color="#f00" stop-opacity="0.199"/><stop offset="0.350" stop-color="#f00" stop-opacity="0.144"/><stop offset="0.375" stop-color="#f00" stop-opacity="0.107"/><stop offset="0.400" stop-color="#f00" stop-opacity="0.084"/><stop offset="0.425" stop-color="#f00" stop-opacity="0.068"/><stop offset="0.450" stop-color="#f00" stop-opacity="0.058"/><stop offset="0.475" stop-color="#f00" stop-opacity="0.051"/><stop offset="0.500" stop-color="#f00" stop-opacity="0.045"/><stop offset="0.525" stop-color="#f00" stop-opacity="0.040"/><stop offset="0.550" stop-color="#f00" stop-opacity="0.035"/><stop offset="0.575" stop-color="#f00" stop-opacity="0.031"/><stop offset="0.600" stop-color="#f00" stop-opacity="0.027"/><stop offset="0.625" stop-color="#f00" stop-opacity="0.023"/><stop offset="0.650" stop-color="#f00" stop-opacity="0.020"/><stop offset="0.675" stop-color="#f00" stop-opacity="0.018"/><stop offset="0.700" stop-color="#f00" stop-opacity="0.015"/><stop offset="0.725" stop-color="#f00" stop-opacity="0.013"/><stop offset="0.750" stop-color="#f00" stop-opacity="0.011"/><stop offset="0.775" stop-color="#f00" stop-opacity="0.009"/><stop offset="0.800" stop-color="#f00" stop-opacity="0.008"/><stop offset="0.825" stop-color="#f00" stop-opacity="0.006"/><stop offset="0.850" stop-color="#f00" stop-opacity="0.005"/><stop offset="0.875" stop-color="#f00" stop-opacity="0.004"/><stop offset="0.900" stop-color="#f00" stop-opacity="0.004"/><stop offset="0.925" stop-color="#f00" stop-opacity="0.003"/><stop offset="0.950" stop-color="#f00" stop-opacity="0.002"/><stop offset="0.975" stop-color="#f00" stop-opacity="0.002"/><stop offset="1.000" stop-color="#f00" stop-opacity="0.000"/></radialGradient><radialGradient id="k13"><stop offset="0.000" stop-color="#000" stop-opacity="0.700"/><stop offset="0.025" stop-color="#000" stop-opacity="0.694"/><stop offset="0.050" stop-color="#000" stop-opacity="0.667"/><stop offset="0.075" stop-color="#000" stop-opacity="0.609"/><stop offset="0.100" stop-color="#000" stop-opacity="0.514"/><stop offset="0.125" stop-color="#000" stop-opacity="0.384"/><stop offset="0.150" stop-color="#000" stop-opacity="0.224"/><stop offset="0.175" stop-color="#000" stop-opacity="0.045"/><stop offset="0.200" stop-color="#000" stop-opacity="0.000"/></radialGradient><radialGradient id="r14"><stop offset="0.000" stop-color="#f00" stop-opacity="1.000"/><stop offset="0.025" stop-color="#f00" stop-opacity="1.000"/><stop offset="0.050" stop-color="#f00" stop-opacity="1.000"/><stop offset="0.075" stop-color="#f00" stop-opacity="1.000"/><stop offset="0.100" stop-color="#f00" stop-opacity="1.000"/><stop offset="0.125" stop-color="#f00" stop-opacity="1.000"/><stop offset="0.150" stop-color="#f00" stop-opacity="1.000"/><stop offset="0.175" stop-color="#f00" stop-opacity="1.000"/><stop offset="0.200" stop-color="#f00" stop-opacity="0.829"/><stop offset="0.225" stop-color="#f00" stop-opacity="0.656"/><stop offset="0.250" stop-color="#f00" stop-opacity="0.501"/><stop offset="0.275" stop-color="#f00" stop-opacity="0.370"/><stop offset="0.300" stop-color="#f00" stop-opacity="0.268"/><stop offset="0.325" stop-color="#f00" stop-opacity="0.192"/><stop offset="0.350" stop-color="#f00" stop-opacity="0.139"/><stop offset="0.375" stop-color="#f00" stop-opacity="0.104"/><stop offset="0.400" stop-color="#f00" stop-opacity="0.081"/><stop offset="0.425" stop-color="#f00" stop-opacity="0.066"/><stop offset="0.450" stop-color="#f00" stop-opacity="0.056"/><stop offset="0.475" stop-color="#f00" stop-opacity="0.049"/><stop offset="0.500" stop-color="#f00" stop-opacity="0.043"/><stop offset="0.525" stop-color="#f00" stop-opacity="0.038"/><stop offset="0.550" stop-color="#f00" stop-opacity="0.034"/><stop offset="0.575" stop-color="#f00" stop-opacity="0.030"/><stop offset="0.600" stop-color="#f00" stop-opacity="0.026"/><stop offset="0.625" stop-color="#f00" stop-opacity="0.023"/><stop offset="0.650" stop-color="#f00" stop-opacity="0.020"/><stop offset="0.675" stop-color="#f00" stop-opacity="0.017"/><stop offset="0.700" stop-color="#f00" stop-opacity="0.014"/><stop offset="0.725" stop-color="#f00" stop-opacity="0.012"/><stop offset="0.750" stop-color="#f00" stop-opacity="0.010"/><stop offset="0.775" stop-color="#f00" stop-opacity="0.009"/><stop offset="0.800" stop-color="#f00" stop-opacity="0.007"/><stop offset="0.825" stop-color="#f00" stop-opacity="0.006"/><stop offset="0.850" stop-color="#f00" stop-opacity="0.005"/><stop offset="0.875" stop-color="#f00" stop-opacity="0.004"/><stop offset="0.900" stop-color="#f00" stop-opacity="0.003"/><stop offset="0.925" stop-color="#f00" stop-opacity="0.003"/><stop offset="0.950" stop-color="#f00" stop-opacity="0.002"/><stop offset="0.975" stop-color="#f00" stop-opacity="0.002"/><stop offset="1.000" stop-color="#f00" stop-opacity="0.000"/></radialGradient><radialGradient id="k14"><stop offset="0.000" stop-color="#000" stop-opacity="0.640"/><stop offset="0.025" stop-color="#000" stop-opacity="0.635"/><stop offset="0.050" stop-color="#000" stop-opacity="0.608"/><stop offset="0.075" stop-color="#000" stop-opacity="0.552"/><stop offset="0.100" stop-color="#000" stop-opacity="0.461"/><stop offset="0.125" stop-color="#000" stop-opacity="0.335"/><stop offset="0.150" stop-color="#000" stop-opacity="0.181"/><stop offset="0.175" stop-color="#000" stop-opacity="0.008"/><stop offset="0.200" stop-color="#000" stop-opacity="0.000"/></radialGradient><radialGradient id="r15"><stop offset="0.000" stop-color="#f00" stop-opacity="1.000"/><stop offset="0.025" stop-color="#f00" stop-opacity="1.000"/><stop offset="0.050" stop-color="#f00" stop-opacity="1.000"/><stop offset="0.075" stop-color="#f00" stop-opacity="1.000"/><stop offset="0.100" stop-color="#f00" stop-opacity="1.000"/><stop offset="0.125" stop-color="#f00" stop-opacity="1.000"/><stop offset="0.150" stop-color="#f00" stop-opacity="1.000"/><stop offset="0.175" stop-color="#f00" stop-opacity="1.000"/><stop offset="0.200" stop-color="#f00" stop-opacity="1.000"/><stop offset="0.225" stop-color="#f00" stop-opacity="0.848"/><stop offset="0.250" stop-color="#f00" stop-opacity="0.647"/><stop offset="0.275" stop-color="#f00" stop-opacity="0.479"/><stop offset="0.300" stop-color="#f00" stop-opacity="0.346"/><stop offset="0.325" stop-color="#f00" stop-opacity="0.248"/><stop offset="0.350" stop-color="#f00" stop-opacity="0.179"/><stop offset="0.375" stop-color="#f00" stop-opacity="0.134"/><stop offset="0.400" stop-color="#f00" stop-opacity="0.104"/><stop offset="0.425" stop-color="#f00" stop-opacity="0.085"/><stop offset="0.450" stop-color="#f00" stop-opacity="0.073"/><stop offset="0.475" stop-color="#f00" stop-opacity="0.063"/><stop offset="0.500" stop-color="#f00" stop-opacity="0.056"/><stop offset="0.525" stop-color="#f00" stop-opacity="0.049"/><stop offset="0.550" stop-color="#f00" stop-opacity="0.044"/><stop offset="0.575" stop-color="#f00" stop-opacity="0.038"/><stop offset="0.600" stop-color="#f00" stop-opacity="0.034"/><stop offset="0.625" stop-color="#f00" stop-opacity="0.029"/><stop offset="0.650" stop-color="#f00" stop-opacity="0.025"/><stop offset="0.675" stop-color="#f00" stop-opacity="0.022"/><stop offset="0.700" stop-color="#f00" stop-opacity="0.019"/><stop offset="0.725" stop-color="#f00" stop-opacity="0.016"/><stop offset="0.750" stop-color="#f00" stop-opacity="0.013"/><stop offset="0.775" stop-color="#f00" stop-opacity="0.011"/><stop offset="0.800" stop-color="#f00" stop-opacity="0.010"/><stop offset="0.825" stop-color="#f00" stop-opacity="0.008"/><stop offset="0.850" stop-color="#f00" stop-opacity="0.007"/><stop offset="0.875" stop-color="#f00" stop-opacity="0.005"/><stop offset="0.900" stop-color="#f00" stop-opacity="0.004"/><stop offset="0.925" stop-color="#f00" stop-opacity="0.004"/><stop offset="0.950" stop-color="#f00" stop-opacity="0.003"/><stop offset="0.975" stop-color="#f00" stop-opacity="0.002"/><stop offset="1.000" stop-color="#f00" stop-opacity="0.000"/></radialGradient><radialGradient id="k15"><stop offset="0.000" stop-color="#000" stop-opacity="1.120"/><stop offset="0.025" stop-color="#000" stop-opacity="1.113"/><stop offset="0.050" stop-color="#000" stop-opacity="1.079"/><stop offset="0.075" stop-color="#000" stop-opacity="1.006"/><stop offset="0.100" stop-color="#000" stop-opacity="0.888"/><stop offset="0.125" stop-color="#000" stop-opacity="0.726"/><stop offset="0.150" stop-color="#000" stop-opacity="0.527"/><stop offset="0.175" stop-color="#000" stop-opacity="0.303"/><stop offset="0.200" stop-color="#000" stop-opacity="0.072"/><stop offset="0.225" stop-color="#000" stop-opacity="0.000"/></radialGradient><radialGradient id="r16"><stop offset="0.000" stop-color="#f00" stop-opacity="1.000"/><stop offset="0.025" stop-color="#f00" stop-opacity="1.000"/><stop offset="0.050" stop-color="#f00" stop-opacity="1.000"/><stop offset="0.075" stop-color="#f00" stop-opacity="1.000"/><stop offset="0.100" stop-color="#f00" stop-opacity="1.000"/><stop offset="0.125" stop-color="#f00" stop-opacity="1.000"/><stop offset="0.150" stop-color="#f00" stop-opacity="1.000"/><stop offset="0.175" stop-color="#f00" stop-opacity="0.984"/><stop offset="0.200" stop-color="#f00" stop-opacity="0.809"/><stop offset="0.225" stop-color="#f00" stop-opacity="0.640"/><stop offset="0.250" stop-color="#f00" stop-opacity="0.489"/><stop offset="0.275" stop-color="#f00" stop-opacity="0.361"/><stop offset="0.300" stop-color="#f00" stop-opacity="0.261"/><stop offset="0.325" stop-color="#f00" stop-opacity="0.187"/><stop offset="0.350" stop-color="#f00" stop-opacity="0.135"/><stop offset="0.375" stop-color="#f00" stop-opacity="0.101"/><stop offset="0.400" stop-color="#f00" stop-opacity="0.079"/><stop offset="0.425" stop-color="#f00" stop-opacity="0.064"/><stop offset="0.450" stop-color="#f00" stop-opacity="0.055"/><stop offset="0.475" stop-color="#f00" stop-opacity="0.048"/><stop offset="0.500" stop-color="#f00" stop-opacity="0.042"/><stop offset="0.525" stop-color="#f00" stop-opacity="0.037"/><stop offset="0.550" stop-color="#f00" stop-opacity="0.033"/><stop offset="0.575" stop-color="#f00" stop-opacity="0.029"/><stop offset="0.600" stop-color="#f00" stop-opacity="0.025"/><stop offset="0.625" stop-color="#f00" stop-opacity="0.022"/><stop offset="0.650" stop-color="#f00" stop-opacity="0.019"/><stop offset="0.675" stop-color="#f00" stop-opacity="0.016"/><stop offset="0.700" stop-color="#f00" stop-opacity="0.014"/><stop offset="0.725" stop-color="#f00" stop-opacity="0.012"/><stop offset="0.750" stop-color="#f00" stop-opacity="0.010"/><stop offset="0.775" stop-color="#f00" stop-opacity="0.009"/><stop offset="0.800" stop-color="#f00" stop-opacity="0.007"/><stop offset="0.825" stop-color="#f00" stop-opacity="0.006"/><stop offset="0.850" stop-color="#f00" stop-opacity="0.005"/><stop offset="0.875" stop-color="#f00" stop-opacity="0.004"/><stop offset="0.900" stop-color="#f00" stop-opacity="0.003"/><stop offset="0.925" stop-color="#f00" stop-opacity="0.003"/><stop offset="0.950" stop-color="#f00" stop-opacity="0.002"/><stop offset="0.975" stop-color="#f00" stop-opacity="0.002"/><stop offset="1.000" stop-color="#f00" stop-opacity="0.000"/></radialGradient><radialGradient id="k16"><stop offset="0.000" stop-color="#000" stop-opacity="0.600"/><stop offset="0.025" stop-color="#000" stop-opacity="0.595"/><stop offset="0.050" stop-color="#000" stop-opacity="0.569"/><stop offset="0.075" stop-color="#000" stop-opacity="0.514"/><stop offset="0.100" stop-color="#000" stop-opacity="0.425"/><stop offset="0.125" stop-color="#000" stop-opacity="0.303"/><stop offset="0.150" stop-color="#000" stop-opacity="0.152"/><stop offset="0.175" stop-color="#000" stop-opacity="0.000"/></radialGradient><radialGradient id="r17"><stop offset="0.000" stop-color="#f00" stop-opacity="1.000"/><stop offset="0.025" stop-color="#f00" stop-opacity="1.000"/><stop offset="0.050" stop-color="#f00" stop-opacity="1.000"/><stop offset="0.075" stop-color="#f00" stop-opacity="1.000"/><stop offset="0.100" stop-color="#f00" stop-opacity="1.000"/><stop offset="0.125" stop-color="#f00" stop-opacity="1.000"/><stop offset="0.150" stop-color="#f00" stop-opacity="1.000"/><stop offset="0.175" stop-color="#f00" stop-opacity="0.885"/><stop offset="0.200" stop-color="#f00" stop-opacity="0.728"/><stop offset="0.225" stop-color="#f00" stop-opacity="0.576"/><stop offset="0.250" stop-color="#f00" stop-opacity="0.440"/><stop offset="0.275" stop-color="#f00" stop-opacity="0.325"/><stop offset="0.300" stop-color="#f00" stop-opacity="0.235"/><stop offset="0.325" stop-color="#f00" stop-opacity="0.168"/><stop offset="0.350" stop-color="#f00" stop-opacity="0.122"/><stop offset="0.375" stop-color="#f00" stop-opacity="0.091"/><stop offset="0.400" stop-color="#f00" stop-opacity="0.071"/><stop offset="0.425" stop-color="#f00" stop-opacity="0.058"/><stop offset="0.450" stop-color="#f00" stop-opacity="0.049"/><stop offset="0.475" stop-color="#f00" stop-opacity="0.043"/><stop offset="0.500" stop-color="#f00" stop-opacity="0.038"/><stop offset="0.525" stop-color="#f00" stop-opacity="0.033"/><stop offset="0.550" stop-color="#f00" stop-opacity="0.030"/><stop offset="0.575" stop-color="#f00" stop-opacity="0.026"/><stop offset="0.600" stop-color="#f00" stop-opacity="0.023"/><stop offset="0.625" stop-color="#f00" stop-opacity="0.020"/><stop offset="0.650" stop-color="#f00" stop-opacity="0.017"/><stop offset="0.675" stop-color="#f00" stop-opacity="0.015"/><stop offset="0.700" stop-color="#f00" stop-opacity="0.013"/><stop offset="0.725" stop-color="#f00" stop-opacity="0.011"/><stop offset="0.750" stop-color="#f00" stop-opacity="0.009"/><stop offset="0.775" stop-color="#f00" stop-opacity="0.008"/><stop offset="0.800" stop-color="#f00" stop-opacity="0.006"/><stop offset="0.825" stop-color="#f00" stop-opacity="0.005"/><stop offset="0.850" stop-color="#f00" stop-opacity="0.004"/><stop offset="0.875" stop-color="#f00" stop-opacity="0.004"/><stop offset="0.900" stop-color="#f00" stop-opacity="0.003"/><stop offset="0.925" stop-color="#f00" stop-opacity="0.002"/><stop offset="0.950" stop-color="#f00" stop-opacity="0.002"/><stop offset="0.975" stop-color="#f00" stop-opacity="0.002"/><stop offset="1.000" stop-color="#f00" stop-opacity="0.000"/></radialGradient><radialGradient id="k17"><stop offset="0.000" stop-color="#000" stop-opacity="0.440"/><stop offset="0.025" stop-color="#000" stop-opacity="0.435"/><stop offset="0.050" stop-color="#000" stop-opacity="0.412"/><stop offset="0.075" stop-color="#000" stop-opacity="0.363"/><stop offset="0.100" stop-color="#000" stop-opacity="0.283"/><stop offset="0.125" stop-color="#000" stop-opacity="0.172"/><stop offset="0.150" stop-color="#000" stop-opacity="0.037"/><stop offset="0.175" stop-color="#000" stop-opacity="0.000"/></radialGradient><radialGradient id="r18"><stop offset="0.000" stop-color="#f00" stop-opacity="1.000"/><stop offset="0.025" stop-color="#f00" stop-opacity="1.000"/><stop offset="0.050" stop-color="#f00" stop-opacity="1.000"/><stop offset="0.075" stop-color="#f00" stop-opacity="1.000"/><stop offset="0.100" stop-color="#f00" stop-opacity="1.000"/><stop offset="0.125" stop-color="#f00" stop-opacity="0.948"/><stop offset="0.150" stop-color="#f00" stop-opacity="0.842"/><stop offset="0.175" stop-color="#f00" stop-opacity="0.714"/><stop offset="0.200" stop-color="#f00" stop-opacity="0.575"/><stop offset="0.225" stop-color="#f00" stop-opacity="0.438"/><stop offset="0.250" stop-color="#f00" stop-opacity="0.315"/><stop offset="0.275" stop-color="#f00" stop-opacity="0.215"/><stop offset="0.300" stop-color="#f00" stop-opacity="0.142"/><stop offset="0.325" stop-color="#f00" stop-opacity="0.092"/><stop offset="0.350" stop-color="#f00" stop-opacity="0.063"/><stop offset="0.375" stop-color="#f00" stop-opacity="0.046"/><stop offset="0.400" stop-color="#f00" stop-opacity="0.036"/><stop offset="0.425" stop-color="#f00" stop-opacity="0.031"/><stop offset="0.450" stop-color="#f00" stop-opacity="0.027"/><stop offset="0.475" stop-color="#f00" stop-opacity="0.024"/><stop offset="0.500" stop-color="#f00" stop-opacity="0.022"/><stop offset="0.525" stop-color="#f00" stop-opacity="0.019"/><stop offset="0.550" stop-color="#f00" stop-opacity="0.017"/><stop offset="0.575" stop-color="#f00" stop-opacity="0.015"/><stop offset="0.600" stop-color="#f00" stop-opacity="0.013"/><stop offset="0.625" stop-color="#f00" stop-opacity="0.012"/><stop offset="0.650" stop-color="#f00" stop-opacity="0.010"/><stop offset="0.675" stop-color="#f00" stop-opacity="0.009"/><stop offset="0.700" stop-color="#f00" stop-opacity="0.007"/><stop offset="0.725" stop-color="#f00" stop-opacity="0.006"/><stop offset="0.750" stop-color="#f00" stop-opacity="0.005"/><stop offset="0.775" stop-color="#f00" stop-opacity="0.005"/><stop offset="0.800" stop-color="#f00" stop-opacity="0.004"/><stop offset="0.825" stop-color="#f00" stop-opacity="0.003"/><stop offset="0.850" stop-color="#f00" stop-opacity="0.003"/><stop offset="0.875" stop-color="#f00" stop-opacity="0.002"/><stop offset="0.900" stop-color="#f00" stop-opacity="0.002"/><stop offset="0.925" stop-color="#f00" stop-opacity="0.001"/><stop offset="0.950" stop-color="#f00" stop-opacity="0.001"/><stop offset="0.975" stop-color="#f00" stop-opacity="0.001"/><stop offset="1.000" stop-color="#f00" stop-opacity="0.000"/></radialGradient><radialGradient id="k18"><stop offset="0.000" stop-color="#000" stop-opacity="0.120"/><stop offset="0.025" stop-color="#000" stop-opacity="0.118"/><stop offset="0.050" stop-color="#000" stop-opacity="0.108"/><stop offset="0.075" stop-color="#000" stop-opacity="0.080"/><stop offset="0.100" stop-color="#000" stop-opacity="0.028"/><stop offset="0.125" stop-color="#000" stop-opacity="0.000"/></radialGradient><radialGradient id="r19"><stop offset="0.000" stop-color="#f00" stop-opacity="1.000"/><stop offset="0.025" stop-color="#f00" stop-opacity="1.000"/><stop offset="0.050" stop-color="#f00" stop-opacity="1.000"/><stop offset="0.075" stop-color="#f00" stop-opacity="1.000"/><stop offset="0.100" stop-color="#f00" stop-opacity="1.000"/><stop offset="0.125" stop-color="#f00" stop-opacity="1.000"/><stop offset="0.150" stop-color="#f00" stop-opacity="1.000"/><stop offset="0.175" stop-color="#f00" stop-opacity="1.000"/><stop offset="0.200" stop-color="#f00" stop-opacity="1.000"/><stop offset="0.225" stop-color="#f00" stop-opacity="0.830"/><stop offset="0.250" stop-color="#f00" stop-opacity="0.627"/><stop offset="0.275" stop-color="#f00" stop-opacity="0.456"/><stop offset="0.300" stop-color="#f00" stop-opacity="0.323"/><stop offset="0.325" stop-color="#f00" stop-opacity="0.225"/><stop offset="0.350" stop-color="#f00" stop-opacity="0.157"/><stop offset="0.375" stop-color="#f00" stop-opacity="0.112"/><stop offset="0.400" stop-color="#f00" stop-opacity="0.084"/><stop offset="0.425" stop-color="#f00" stop-opacity="0.067"/><stop offset="0.450" stop-color="#f00" stop-opacity="0.056"/><stop offset="0.475" stop-color="#f00" stop-opacity="0.048"/><stop offset="0.500" stop-color="#f00" stop-opacity="0.042"/><stop offset="0.525" stop-color="#f00" stop-opacity="0.037"/><stop offset="0.550" stop-color="#f00" stop-opacity="0.033"/><stop offset="0.575" stop-color="#f00" stop-opacity="0.029"/><stop offset="0.600" stop-color="#f00" stop-opacity="0.025"/><stop offset="0.625" stop-color="#f00" stop-opacity="0.022"/><stop offset="0.650" stop-color="#f00" stop-opacity="0.019"/><stop offset="0.675" stop-color="#f00" stop-opacity="0.016"/><stop offset="0.700" stop-color="#f00" stop-opacity="0.014"/><stop offset="0.725" stop-color="#f00" stop-opacity="0.012"/><stop offset="0.750" stop-color="#f00" stop-opacity="0.010"/><stop offset="0.775" stop-color="#f00" stop-opacity="0.009"/><stop offset="0.800" stop-color="#f00" stop-opacity="0.007"/><stop offset="0.825" stop-color="#f00" stop-opacity="0.006"/><stop offset="0.850" stop-color="#f00" stop-opacity="0.005"/><stop offset="0.875" stop-color="#f00" stop-opacity="0.004"/><stop offset="0.900" stop-color="#f00" stop-opacity="0.003"/><stop offset="0.925" stop-color="#f00" stop-opacity="0.003"/><stop offset="0.950" stop-color="#f00" stop-opacity="0.002"/><stop offset="0.975" stop-color="#f00" stop-opacity="0.002"/><stop offset="1.000" stop-color="#f00" stop-opacity="0.000"/></radialGradient><radialGradient id="k19"><stop offset="0.000" stop-color="#000" stop-opacity="1.120"/><stop offset="0.025" stop-color="#000" stop-opacity="1.113"/><stop offset="0.050" stop-color="#000" stop-opacity="1.079"/><stop offset="0.075" stop-color="#000" stop-opacity="1.005"/><stop offset="0.100" stop-color="#000" stop-opacity="0.885"/><stop offset="0.125" stop-color="#000" stop-opacity="0.721"/><stop offset="0.150" stop-color="#000" stop-opacity="0.518"/><stop offset="0.175" stop-color="#000" stop-opacity="0.292"/><stop offset="0.200" stop-color="#000" stop-opacity="0.056"/><stop offset="0.225" stop-color="#000" stop-opacity="0.000"/></radialGradient><radialGradient id="r20"><stop offset="0.000" stop-color="#f00" stop-opacity="1.000"/><stop offset="0.025" stop-color="#f00" stop-opacity="1.000"/><stop offset="0.050" stop-color="#f00" stop-opacity="1.000"/><stop offset="0.075" stop-color="#f00" stop-opacity="1.000"/><stop offset="0.100" stop-color="#f00" stop-opacity="1.000"/><stop offset="0.125" stop-color="#f00" stop-opacity="1.000"/><stop offset="0.150" stop-color="#f00" stop-opacity="1.000"/><stop offset="0.175" stop-color="#f00" stop-opacity="1.000"/><stop offset="0.200" stop-color="#f00" stop-opacity="0.847"/><stop offset="0.225" stop-color="#f00" stop-opacity="0.666"/><stop offset="0.250" stop-color="#f00" stop-opacity="0.503"/><stop offset="0.275" stop-color="#f00" stop-opacity="0.366"/><stop offset="0.300" stop-color="#f00" stop-opacity="0.259"/><stop offset="0.325" stop-color="#f00" stop-opacity="0.180"/><stop offset="0.350" stop-color="#f00" stop-opacity="0.126"/><stop offset="0.375" stop-color="#f00" stop-opacity="0.090"/><stop offset="0.400" stop-color="#f00" stop-opacity="0.068"/><stop offset="0.425" stop-color="#f00" stop-opacity="0.054"/><stop offset="0.450" stop-color="#f00" stop-opacity="0.045"/><stop offset="0.475" stop-color="#f00" stop-opacity="0.038"/><stop offset="0.500" stop-color="#f00" stop-opacity="0.034"/><stop offset="0.525" stop-color="#f00" stop-opacity="0.030"/><stop offset="0.550" stop-color="#f00" stop-opacity="0.026"/><stop offset="0.575" stop-color="#f00" stop-opacity="0.023"/><stop offset="0.600" stop-color="#f00" stop-opacity="0.020"/><stop offset="0.625" stop-color="#f00" stop-opacity="0.018"/><stop offset="0.650" stop-color="#f00" stop-opacity="0.015"/><stop offset="0.675" stop-color="#f00" stop-opacity="0.013"/><stop offset="0.700" stop-color="#f00" stop-opacity="0.011"/><stop offset="0.725" stop-color="#f00" stop-opacity="0.010"/><stop offset="0.750" stop-color="#f00" stop-opacity="0.008"/><stop offset="0.775" stop-color="#f00" stop-opacity="0.007"/><stop offset="0.800" stop-color="#f00" stop-opacity="0.006"/><stop offset="0.825" stop-color="#f00" stop-opacity="0.005"/><stop offset="0.850" stop-color="#f00" stop-opacity="0.004"/><stop offset="0.875" stop-color="#f00" stop-opacity="0.003"/><stop offset="0.900" stop-color="#f00" stop-opacity="0.003"/><stop offset="0.925" stop-color="#f00" stop-opacity="0.002"/><stop offset="0.950" stop-color="#f00" stop-opacity="0.002"/><stop offset="0.975" stop-color="#f00" stop-opacity="0.001"/><stop offset="1.000" stop-color="#f00" stop-opacity="0.000"/></radialGradient><radialGradient id="k20"><stop offset="0.000" stop-color="#000" stop-opacity="0.700"/><stop offset="0.025" stop-color="#000" stop-opacity="0.694"/><stop offset="0.050" stop-color="#000" stop-opacity="0.667"/><stop offset="0.075" stop-color="#000" stop-opacity="0.608"/><stop offset="0.100" stop-color="#000" stop-opacity="0.512"/><stop offset="0.125" stop-color="#000" stop-opacity="0.380"/><stop offset="0.150" stop-color="#000" stop-opacity="0.218"/><stop offset="0.175" stop-color="#000" stop-opacity="0.036"/><stop offset="0.200" stop-color="#000" stop-opacity="0.000"/></radialGradient><radialGradient id="r21"><stop offset="0.000" stop-color="#f00" stop-opacity="1.000"/><stop offset="0.025" stop-color="#f00" stop-opacity="1.000"/><stop offset="0.050" stop-color="#f00" stop-opacity="1.000"/><stop offset="0.075" stop-color="#f00" stop-opacity="1.000"/><stop offset="0.100" stop-color="#f00" stop-opacity="1.000"/><stop offset="0.125" stop-color="#f00" stop-opacity="1.000"/><stop offset="0.150" stop-color="#f00" stop-opacity="1.000"/><stop offset="0.175" stop-color="#f00" stop-opacity="0.902"/><stop offset="0.200" stop-color="#f00" stop-opacity="0.737"/><stop offset="0.225" stop-color="#f00" stop-opacity="0.579"/><stop offset="0.250" stop-color="#f00" stop-opacity="0.438"/><stop offset="0.275" stop-color="#f00" stop-opacity="0.319"/><stop offset="0.300" stop-color="#f00" stop-opacity="0.225"/><stop offset="0.325" stop-color="#f00" stop-opacity="0.157"/><stop offset="0.350" stop-color="#f00" stop-opacity="0.109"/><stop offset="0.375" stop-color="#f00" stop-opacity="0.078"/><stop offset="0.400" stop-color="#f00" stop-opacity="0.059"/><stop offset="0.425" stop-color="#f00" stop-opacity="0.047"/><stop offset="0.450" stop-color="#f00" stop-opacity="0.039"/><stop offset="0.475" stop-color="#f00" stop-opacity="0.033"/><stop offset="0.500" stop-color="#f00" stop-opacity="0.029"/><stop offset="0.525" stop-color="#f00" stop-opacity="0.026"/><stop offset="0.550" stop-color="#f00" stop-opacity="0.023"/><stop offset="0.575" stop-color="#f00" stop-opacity="0.020"/><stop offset="0.600" stop-color="#f00" stop-opacity="0.018"/><stop offset="0.625" stop-color="#f00" stop-opacity="0.015"/><stop offset="0.650" stop-color="#f00" stop-opacity="0.013"/><stop offset="0.675" stop-color="#f00" stop-opacity="0.011"/><stop offset="0.700" stop-color="#f00" stop-opacity="0.010"/><stop offset="0.725" stop-color="#f00" stop-opacity="0.008"/><stop offset="0.750" stop-color="#f00" stop-opacity="0.007"/><stop offset="0.775" stop-color="#f00" stop-opacity="0.006"/><stop offset="0.800" stop-color="#f00" stop-opacity="0.005"/><stop offset="0.825" stop-color="#f00" stop-opacity="0.004"/><stop offset="0.850" stop-color="#f00" stop-opacity="0.003"/><stop offset="0.875" stop-color="#f00" stop-opacity="0.003"/><stop offset="0.900" stop-color="#f00" stop-opacity="0.002"/><stop offset="0.925" stop-color="#f00" stop-opacity="0.002"/><stop offset="0.950" stop-color="#f00" stop-opacity="0.002"/><stop offset="0.975" stop-color="#f00" stop-opacity="0.001"/><stop offset="1.000" stop-color="#f00" stop-opacity="0.000"/></radialGradient><radialGradient id="k21"><stop offset="0.000" stop-color="#000" stop-opacity="0.480"/><stop offset="0.025" stop-color="#000" stop-opacity="0.475"/><stop offset="0.050" stop-color="#000" stop-opacity="0.451"/><stop offset="0.075" stop-color="#000" stop-opacity="0.400"/><stop offset="0.100" stop-color="#000" stop-opacity="0.316"/><stop offset="0.125" stop-color="#000" stop-opacity="0.201"/><stop offset="0.150" stop-color="#000" stop-opacity="0.060"/><stop offset="0.175" stop-color="#000" stop-opacity="0.000"/></radialGradient><radialGradient id="r22"><stop offset="0.000" stop-color="#f00" stop-opacity="1.000"/><stop offset="0.025" stop-color="#f00" stop-opacity="1.000"/><stop offset="0.050" stop-color="#f00" stop-opacity="1.000"/><stop offset="0.075" stop-color="#f00" stop-opacity="1.000"/><stop offset="0.100" stop-color="#f00" stop-opacity="1.000"/><stop offset="0.125" stop-color="#f00" stop-opacity="1.000"/><stop offset="0.150" stop-color="#f00" stop-opacity="1.000"/><stop offset="0.175" stop-color="#f00" stop-opacity="1.000"/><stop offset="0.200" stop-color="#f00" stop-opacity="0.897"/><stop offset="0.225" stop-color="#f00" stop-opacity="0.705"/><stop offset="0.250" stop-color="#f00" stop-opacity="0.532"/><stop offset="0.275" stop-color="#f00" stop-opacity="0.387"/><stop offset="0.300" stop-color="#f00" stop-opacity="0.274"/><stop offset="0.325" stop-color="#f00" stop-opacity="0.191"/><stop offset="0.350" stop-color="#f00" stop-opacity="0.133"/><stop offset="0.375" stop-color="#f00" stop-opacity="0.095"/><stop offset="0.400" stop-color="#f00" stop-opacity="0.072"/><stop offset="0.425" stop-color="#f00" stop-opacity="0.057"/><stop offset="0.450" stop-color="#f00" stop-opacity="0.047"/><stop offset="0.475" stop-color="#f00" stop-opacity="0.041"/><stop offset="0.500" stop-color="#f00" stop-opacity="0.036"/><stop offset="0.525" stop-color="#f00" stop-opacity="0.031"/><stop offset="0.550" stop-color="#f00" stop-opacity="0.028"/><stop offset="0.575" stop-color="#f00" stop-opacity="0.024"/><stop offset="0.600" stop-color="#f00" stop-opacity="0.021"/><stop offset="0.625" stop-color="#f00" stop-opacity="0.019"/><stop offset="0.650" stop-color="#f00" stop-opacity="0.016"/><stop offset="0.675" stop-color="#f00" stop-opacity="0.014"/><stop offset="0.700" stop-color="#f00" stop-opacity="0.012"/><stop offset="0.725" stop-color="#f00" stop-opacity="0.010"/><stop offset="0.750" stop-color="#f00" stop-opacity="0.009"/><stop offset="0.775" stop-color="#f00" stop-opacity="0.007"/><stop offset="0.800" stop-color="#f00" stop-opacity="0.006"/><stop offset="0.825" stop-color="#f00" stop-opacity="0.005"/><stop offset="0.850" stop-color="#f00" stop-opacity="0.004"/><stop offset="0.875" stop-color="#f00" stop-opacity="0.003"/><stop offset="0.900" stop-color="#f00" stop-opacity="0.003"/><stop offset="0.925" stop-color="#f00" stop-opacity="0.002"/><stop offset="0.950" stop-color="#f00" stop-opacity="0.002"/><stop offset="0.975" stop-color="#f00" stop-opacity="0.001"/><stop offset="1.000" stop-color="#f00" stop-opacity="0.000"/></radialGradient><radialGradient id="k22"><stop offset="0.000" stop-color="#000" stop-opacity="0.800"/><stop offset="0.025" stop-color="#000" stop-opacity="0.794"/><stop offset="0.050" stop-color="#000" stop-opacity="0.765"/><stop offset="0.075" stop-color="#000" stop-opacity="0.702"/><stop offset="0.100" stop-color="#000" stop-opacity="0.601"/><stop offset="0.125" stop-color="#000" stop-opacity="0.461"/><stop offset="0.150" stop-color="#000" stop-opacity="0.289"/><stop offset="0.175" stop-color="#000" stop-opacity="0.097"/><stop offset="0.200" stop-color="#000" stop-opacity="0.000"/></radialGradient><radialGradient id="r23"><stop offset="0.000" stop-color="#f00" stop-opacity="0.660"/><stop offset="0.025" stop-color="#f00" stop-opacity="0.658"/><stop offset="0.050" stop-color="#f00" stop-opacity="0.647"/><stop offset="0.075" stop-color="#f00" stop-opacity="0.624"/><stop offset="0.100" stop-color="#f00" stop-opacity="0.586"/><stop offset="0.125" stop-color="#f00" stop-opacity="0.535"/><stop offset="0.150" stop-color="#f00" stop-opacity="0.471"/><stop offset="0.175" stop-color="#f00" stop-opacity="0.400"/><stop offset="0.200" stop-color="#f00" stop-opacity="0.327"/><stop offset="0.225" stop-color="#f00" stop-opacity="0.256"/><stop offset="0.250" stop-color="#f00" stop-opacity="0.192"/><stop offset="0.275" stop-color="#f00" stop-opacity="0.139"/><stop offset="0.300" stop-color="#f00" stop-opacity="0.097"/><stop offset="0.325" stop-color="#f00" stop-opacity="0.066"/><stop offset="0.350" stop-color="#f00" stop-opacity="0.045"/><stop offset="0.375" stop-color="#f00" stop-opacity="0.032"/><stop offset="0.400" stop-color="#f00" stop-opacity="0.023"/><stop offset="0.425" stop-color="#f00" stop-opacity="0.018"/><stop offset="0.450" stop-color="#f00" stop-opacity="0.015"/><stop offset="0.475" stop-color="#f00" stop-opacity="0.013"/><stop offset="0.500" stop-color="#f00" stop-opacity="0.011"/><stop offset="0.525" stop-color="#f00" stop-opacity="0.010"/><stop offset="0.550" stop-color="#f00" stop-opacity="0.008"/><stop offset="0.575" stop-color="#f00" stop-opacity="0.007"/><stop offset="0.600" stop-color="#f00" stop-opacity="0.007"/><stop offset="0.625" stop-color="#f00" stop-opacity="0.006"/><stop offset="0.650" stop-color="#f00" stop-opacity="0.005"/><stop offset="0.675" stop-color="#f00" stop-opacity="0.004"/><stop offset="0.700" stop-color="#f00" stop-opacity="0.004"/><stop offset="0.725" stop-color="#f00" stop-opacity="0.003"/><stop offset="0.750" stop-color="#f00" stop-opacity="0.003"/><stop offset="0.775" stop-color="#f00" stop-opacity="0.002"/><stop offset="0.800" stop-color="#f00" stop-opacity="0.002"/><stop offset="0.825" stop-color="#f00" stop-opacity="0.002"/><stop offset="0.850" stop-color="#f00" stop-opacity="0.001"/><stop offset="0.875" stop-color="#f00" stop-opacity="0.001"/><stop offset="0.900" stop-color="#f00" stop-opacity="0.001"/><stop offset="0.925" stop-color="#f00" stop-opacity="0.001"/><stop offset="0.950" stop-color="#f00" stop-opacity="0.001"/><stop offset="0.975" stop-color="#f00" stop-opacity="0.000"/><stop offset="1.000" stop-color="#f00" stop-opacity="0.000"/></radialGradient><radialGradient id="r24"><stop offset="0.000" stop-color="#f00" stop-opacity="1.000"/><stop offset="0.025" stop-color="#f00" stop-opacity="1.000"/><stop offset="0.050" stop-color="#f00" stop-opacity="1.000"/><stop offset="0.075" stop-color="#f00" stop-opacity="1.000"/><stop offset="0.100" stop-color="#f00" stop-opacity="1.000"/><stop offset="0.125" stop-color="#f00" stop-opacity="1.000"/><stop offset="0.150" stop-color="#f00" stop-opacity="1.000"/><stop offset="0.175" stop-color="#f00" stop-opacity="1.000"/><stop offset="0.200" stop-color="#f00" stop-opacity="1.000"/><stop offset="0.225" stop-color="#f00" stop-opacity="0.821"/><stop offset="0.250" stop-color="#f00" stop-opacity="0.616"/><stop offset="0.275" stop-color="#f00" stop-opacity="0.445"/><stop offset="0.300" stop-color="#f00" stop-opacity="0.311"/><stop offset="0.325" stop-color="#f00" stop-opacity="0.213"/><stop offset="0.350" stop-color="#f00" stop-opacity="0.145"/><stop offset="0.375" stop-color="#f00" stop-opacity="0.101"/><stop offset="0.400" stop-color="#f00" stop-opacity="0.074"/><stop offset="0.425" stop-color="#f00" stop-opacity="0.058"/><stop offset="0.450" stop-color="#f00" stop-opacity="0.047"/><stop offset="0.475" stop-color="#f00" stop-opacity="0.040"/><stop offset="0.500" stop-color="#f00" stop-opacity="0.035"/><stop offset="0.525" stop-color="#f00" stop-opacity="0.031"/><stop offset="0.550" stop-color="#f00" stop-opacity="0.027"/><stop offset="0.575" stop-color="#f00" stop-opacity="0.024"/><stop offset="0.600" stop-color="#f00" stop-opacity="0.021"/><stop offset="0.625" stop-color="#f00" stop-opacity="0.018"/><stop offset="0.650" stop-color="#f00" stop-opacity="0.016"/><stop offset="0.675" stop-color="#f00" stop-opacity="0.014"/><stop offset="0.700" stop-color="#f00" stop-opacity="0.012"/><stop offset="0.725" stop-color="#f00" stop-opacity="0.010"/><stop offset="0.750" stop-color="#f00" stop-opacity="0.008"/><stop offset="0.775" stop-color="#f00" stop-opacity="0.007"/><stop offset="0.800" stop-color="#f00" stop-opacity="0.006"/><stop offset="0.825" stop-color="#f00" stop-opacity="0.005"/><stop offset="0.850" stop-color="#f00" stop-opacity="0.004"/><stop offset="0.875" stop-color="#f00" stop-opacity="0.003"/><stop offset="0.900" stop-color="#f00" stop-opacity="0.003"/><stop offset="0.925" stop-color="#f00" stop-opacity="0.002"/><stop offset="0.950" stop-color="#f00" stop-opacity="0.002"/><stop offset="0.975" stop-color="#f00" stop-opacity="0.001"/><stop offset="1.000" stop-color="#f00" stop-opacity="0.000"/></radialGradient><radialGradient id="k24"><stop offset="0.000" stop-color="#000" stop-opacity="1.120"/><stop offset="0.025" stop-color="#000" stop-opacity="1.113"/><stop offset="0.050" stop-color="#000" stop-opacity="1.079"/><stop offset="0.075" stop-color="#000" stop-opacity="1.004"/><stop offset="0.100" stop-color="#000" stop-opacity="0.884"/><stop offset="0.125" stop-color="#000" stop-opacity="0.718"/><stop offset="0.150" stop-color="#000" stop-opacity="0.514"/><stop offset="0.175" stop-color="#000" stop-opacity="0.286"/><stop offset="0.200" stop-color="#000" stop-opacity="0.049"/><stop offset="0.225" stop-color="#000" stop-opacity="0.000"/></radialGradient><radialGradient id="r25"><stop offset="0.000" stop-color="#f00" stop-opacity="0.840"/><stop offset="0.025" stop-color="#f00" stop-opacity="0.837"/><stop offset="0.050" stop-color="#f00" stop-opacity="0.824"/><stop offset="0.075" stop-color="#f00" stop-opacity="0.794"/><stop offset="0.100" stop-color="#f00" stop-opacity="0.746"/><stop offset="0.125" stop-color="#f00" stop-opacity="0.681"/><stop offset="0.150" stop-color="#f00" stop-opacity="0.600"/><stop offset="0.175" stop-color="#f00" stop-opacity="0.509"/><stop offset="0.200" stop-color="#f00" stop-opacity="0.416"/><stop offset="0.225" stop-color="#f00" stop-opacity="0.325"/><stop offset="0.250" stop-color="#f00" stop-opacity="0.244"/><stop offset="0.275" stop-color="#f00" stop-opacity="0.176"/><stop offset="0.300" stop-color="#f00" stop-opacity="0.123"/><stop offset="0.325" stop-color="#f00" stop-opacity="0.084"/><stop offset="0.350" stop-color="#f00" stop-opacity="0.058"/><stop offset="0.375" stop-color="#f00" stop-opacity="0.040"/><stop offset="0.400" stop-color="#f00" stop-opacity="0.029"/><stop offset="0.425" stop-color="#f00" stop-opacity="0.023"/><stop offset="0.450" stop-color="#f00" stop-opacity="0.019"/><stop offset="0.475" stop-color="#f00" stop-opacity="0.016"/><stop offset="0.500" stop-color="#f00" stop-opacity="0.014"/><stop offset="0.525" stop-color="#f00" stop-opacity="0.012"/><stop offset="0.550" stop-color="#f00" stop-opacity="0.011"/><stop offset="0.575" stop-color="#f00" stop-opacity="0.009"/><stop offset="0.600" stop-color="#f00" stop-opacity="0.008"/><stop offset="0.625" stop-color="#f00" stop-opacity="0.007"/><stop offset="0.650" stop-color="#f00" stop-opacity="0.006"/><stop offset="0.675" stop-color="#f00" stop-opacity="0.005"/><stop offset="0.700" stop-color="#f00" stop-opacity="0.005"/><stop offset="0.725" stop-color="#f00" stop-opacity="0.004"/><stop offset="0.750" stop-color="#f00" stop-opacity="0.003"/><stop offset="0.775" stop-color="#f00" stop-opacity="0.003"/><stop offset="0.800" stop-color="#f00" stop-opacity="0.002"/><stop offset="0.825" stop-color="#f00" stop-opacity="0.002"/><stop offset="0.850" stop-color="#f00" stop-opacity="0.002"/><stop offset="0.875" stop-color="#f00" stop-opacity="0.001"/><stop offset="0.900" stop-color="#f00" stop-opacity="0.001"/><stop offset="0.925" stop-color="#f00" stop-opacity="0.001"/><stop offset="0.950" stop-color="#f00" stop-opacity="0.001"/><stop offset="0.975" stop-color="#f00" stop-opacity="0.001"/><stop offset="1.000" stop-color="#f00" stop-opacity="0.000"/></radialGradient><radialGradient id="r26"><stop offset="0.000" stop-color="#f00" stop-opacity="0.720"/><stop offset="0.025" stop-color="#f00" stop-opacity="0.718"/><stop offset="0.050" stop-color="#f00" stop-opacity="0.706"/><stop offset="0.075" stop-color="#f00" stop-opacity="0.681"/><stop offset="0.100" stop-color="#f00" stop-opacity="0.640"/><stop offset="0.125" stop-color="#f00" stop-opacity="0.583"/><stop offset="0.150" stop-color="#f00" stop-opacity="0.514"/><stop offset="0.175" stop-color="#f00" stop-opacity="0.437"/><stop offset="0.200" stop-color="#f00" stop-opacity="0.356"/><stop offset="0.225" stop-color="#f00" stop-opacity="0.279"/><stop offset="0.250" stop-color="#f00" stop-opacity="0.209"/><stop offset="0.275" stop-color="#f00" stop-opacity="0.151"/><stop offset="0.300" stop-color="#f00" stop-opacity="0.106"/><stop offset="0.325" stop-color="#f00" stop-opacity="0.072"/><stop offset="0.350" stop-color="#f00" stop-opacity="0.049"/><stop offset="0.375" stop-color="#f00" stop-opacity="0.034"/><stop offset="0.400" stop-color="#f00" stop-opacity="0.025"/><stop offset="0.425" stop-color="#f00" stop-opacity="0.020"/><stop offset="0.450" stop-color="#f00" stop-opacity="0.016"/><stop offset="0.475" stop-color="#f00" stop-opacity="0.014"/><stop offset="0.500" stop-color="#f00" stop-opacity="0.012"/><stop offset="0.525" stop-color="#f00" stop-opacity="0.010"/><stop offset="0.550" stop-color="#f00" stop-opacity="0.009"/><stop offset="0.575" stop-color="#f00" stop-opacity="0.008"/><stop offset="0.600" stop-color="#f00" stop-opacity="0.007"/><stop offset="0.625" stop-color="#f00" stop-opacity="0.006"/><stop offset="0.650" stop-color="#f00" stop-opacity="0.005"/><stop offset="0.675" stop-color="#f00" stop-opacity="0.005"/><stop offset="0.700" stop-color="#f00" stop-opacity="0.004"/><stop offset="0.725" stop-color="#f00" stop-opacity="0.003"/><stop offset="0.750" stop-color="#f00" stop-opacity="0.003"/><stop offset="0.775" stop-color="#f00" stop-opacity="0.002"/><stop offset="0.800" stop-color="#f00" stop-opacity="0.002"/><stop offset="0.825" stop-color="#f00" stop-opacity="0.002"/><stop offset="0.850" stop-color="#f00" stop-opacity="0.001"/><stop offset="0.875" stop-color="#f00" stop-opacity="0.001"/><stop offset="0.900" stop-color="#f00" stop-opacity="0.001"/><stop offset="0.925" stop-color="#f00" stop-opacity="0.001"/><stop offset="0.950" stop-color="#f00" stop-opacity="0.001"/><stop offset="0.975" stop-color="#f00" stop-opacity="0.000"/><stop offset="1.000" stop-color="#f00" stop-opacity="0.000"/></radialGradient><radialGradient id="r27"><stop offset="0.000" stop-color="#f00" stop-opacity="0.920"/><stop offset="0.025" stop-color="#f00" stop-opacity="0.917"/><stop offset="0.050" stop-color="#f00" stop-opacity="0.902"/><stop offset="0.075" stop-color="#f00" stop-opacity="0.870"/><stop offset="0.100" stop-color="#f00" stop-opacity="0.817"/><stop offset="0.125" stop-color="#f00" stop-opacity="0.746"/><stop offset="0.150" stop-color="#f00" stop-opacity="0.657"/><stop offset="0.175" stop-color="#f00" stop-opacity="0.558"/><stop offset="0.200" stop-color="#f00" stop-opacity="0.455"/><stop offset="0.225" stop-color="#f00" stop-opacity="0.356"/><stop offset="0.250" stop-color="#f00" stop-opacity="0.267"/><stop offset="0.275" stop-color="#f00" stop-opacity="0.193"/><stop offset="0.300" stop-color="#f00" stop-opacity="0.135"/><stop offset="0.325" stop-color="#f00" stop-opacity="0.092"/><stop offset="0.350" stop-color="#f00" stop-opacity="0.063"/><stop offset="0.375" stop-color="#f00" stop-opacity="0.044"/><stop offset="0.400" stop-color="#f00" stop-opacity="0.032"/><stop offset="0.425" stop-color="#f00" stop-opacity="0.025"/><stop offset="0.450" stop-color="#f00" stop-opacity="0.020"/><stop offset="0.475" stop-color="#f00" stop-opacity="0.017"/><stop offset="0.500" stop-color="#f00" stop-opacity="0.015"/><stop offset="0.525" stop-color="#f00" stop-opacity="0.013"/><stop offset="0.550" stop-color="#f00" stop-opacity="0.012"/><stop offset="0.575" stop-color="#f00" stop-opacity="0.010"/><stop offset="0.600" stop-color="#f00" stop-opacity="0.009"/><stop offset="0.625" stop-color="#f00" stop-opacity="0.008"/><stop offset="0.650" stop-color="#f00" stop-opacity="0.007"/><stop offset="0.675" stop-color="#f00" stop-opacity="0.006"/><stop offset="0.700" stop-color="#f00" stop-opacity="0.005"/><stop offset="0.725" stop-color="#f00" stop-opacity="0.004"/><stop offset="0.750" stop-color="#f00" stop-opacity="0.004"/><stop offset="0.775" stop-color="#f00" stop-opacity="0.003"/><stop offset="0.800" stop-color="#f00" stop-opacity="0.003"/><stop offset="0.825" stop-color="#f00" stop-opacity="0.002"/><stop offset="0.850" stop-color="#f00" stop-opacity="0.002"/><stop offset="0.875" stop-color="#f00" stop-opacity="0.001"/><stop offset="0.900" stop-color="#f00" stop-opacity="0.001"/><stop offset="0.925" stop-color="#f00" stop-opacity="0.001"/><stop offset="0.950" stop-color="#f00" stop-opacity="0.001"/><stop offset="0.975" stop-color="#f00" stop-opacity="0.001"/><stop offset="1.000" stop-color="#f00" stop-opacity="0.000"/></radialGradient><radialGradient id="r28"><stop offset="0.000" stop-color="#f00" stop-opacity="0.400"/><stop offset="0.025" stop-color="#f00" stop-opacity="0.399"/><stop offset="0.050" stop-color="#f00" stop-opacity="0.392"/><stop offset="0.075" stop-color="#f00" stop-opacity="0.378"/><stop offset="0.100" stop-color="#f00" stop-opacity="0.355"/><stop offset="0.125" stop-color="#f00" stop-opacity="0.324"/><stop offset="0.150" stop-color="#f00" stop-opacity="0.286"/><stop offset="0.175" stop-color="#f00" stop-opacity="0.243"/><stop offset="0.200" stop-color="#f00" stop-opacity="0.198"/><stop offset="0.225" stop-color="#f00" stop-opacity="0.155"/><stop offset="0.250" stop-color="#f00" stop-opacity="0.116"/><stop offset="0.275" stop-color="#f00" stop-opacity="0.084"/><stop offset="0.300" stop-color="#f00" stop-opacity="0.059"/><stop offset="0.325" stop-color="#f00" stop-opacity="0.040"/><stop offset="0.350" stop-color="#f00" stop-opacity="0.027"/><stop offset="0.375" stop-color="#f00" stop-opacity="0.019"/><stop offset="0.400" stop-color="#f00" stop-opacity="0.014"/><stop offset="0.425" stop-color="#f00" stop-opacity="0.011"/><stop offset="0.450" stop-color="#f00" stop-opacity="0.009"/><stop offset="0.475" stop-color="#f00" stop-opacity="0.008"/><stop offset="0.500" stop-color="#f00" stop-opacity="0.007"/><stop offset="0.525" stop-color="#f00" stop-opacity="0.006"/><stop offset="0.550" stop-color="#f00" stop-opacity="0.005"/><stop offset="0.575" stop-color="#f00" stop-opacity="0.005"/><stop offset="0.600" stop-color="#f00" stop-opacity="0.004"/><stop offset="0.625" stop-color="#f00" stop-opacity="0.003"/><stop offset="0.650" stop-color="#f00" stop-opacity="0.003"/><stop offset="0.675" stop-color="#f00" stop-opacity="0.003"/><stop offset="0.700" stop-color="#f00" stop-opacity="0.002"/><stop offset="0.725" stop-color="#f00" stop-opacity="0.002"/><stop offset="0.750" stop-color="#f00" stop-opacity="0.002"/><stop offset="0.775" stop-color="#f00" stop-opacity="0.001"/><stop offset="0.800" stop-color="#f00" stop-opacity="0.001"/><stop offset="0.825" stop-color="#f00" stop-opacity="0.001"/><stop offset="0.850" stop-color="#f00" stop-opacity="0.001"/><stop offset="0.875" stop-color="#f00" stop-opacity="0.001"/><stop offset="0.900" stop-color="#f00" stop-opacity="0.001"/><stop offset="0.925" stop-color="#f00" stop-opacity="0.000"/><stop offset="0.950" stop-color="#f00" stop-opacity="0.000"/><stop offset="0.975" stop-color="#f00" stop-opacity="0.000"/><stop offset="1.000" stop-color="#f00" stop-opacity="0.000"/></radialGradient><radialGradient id="r29"><stop offset="0.000" stop-color="#f00" stop-opacity="0.560"/><stop offset="0.025" stop-color="#f00" stop-opacity="0.558"/><stop offset="0.050" stop-color="#f00" stop-opacity="0.549"/><stop offset="0.075" stop-color="#f00" stop-opacity="0.529"/><stop offset="0.100" stop-color="#f00" stop-opacity="0.498"/><stop offset="0.125" stop-color="#f00" stop-opacity="0.454"/><stop offset="0.150" stop-color="#f00" stop-opacity="0.400"/><stop offset="0.175" stop-color="#f00" stop-opacity="0.340"/><stop offset="0.200" stop-color="#f00" stop-opacity="0.277"/><stop offset="0.225" stop-color="#f00" stop-opacity="0.217"/><stop offset="0.250" stop-color="#f00" stop-opacity="0.163"/><stop offset="0.275" stop-color="#f00" stop-opacity="0.118"/><stop offset="0.300" stop-color="#f00" stop-opacity="0.082"/><stop offset="0.325" stop-color="#f00" stop-opacity="0.056"/><stop offset="0.350" stop-color="#f00" stop-opacity="0.038"/><stop offset="0.375" stop-color="#f00" stop-opacity="0.027"/><stop offset="0.400" stop-color="#f00" stop-opacity="0.020"/><stop offset="0.425" stop-color="#f00" stop-opacity="0.015"/><stop offset="0.450" stop-color="#f00" stop-opacity="0.012"/><stop offset="0.475" stop-color="#f00" stop-opacity="0.011"/><stop offset="0.500" stop-color="#f00" stop-opacity="0.009"/><stop offset="0.525" stop-color="#f00" stop-opacity="0.008"/><stop offset="0.550" stop-color="#f00" stop-opacity="0.007"/><stop offset="0.575" stop-color="#f00" stop-opacity="0.006"/><stop offset="0.600" stop-color="#f00" stop-opacity="0.006"/><stop offset="0.625" stop-color="#f00" stop-opacity="0.005"/><stop offset="0.650" stop-color="#f00" stop-opacity="0.004"/><stop offset="0.675" stop-color="#f00" stop-opacity="0.004"/><stop offset="0.700" stop-color="#f00" stop-opacity="0.003"/><stop offset="0.725" stop-color="#f00" stop-opacity="0.003"/><stop offset="0.750" stop-color="#f00" stop-opacity="0.002"/><stop offset="0.775" stop-color="#f00" stop-opacity="0.002"/><stop offset="0.800" stop-color="#f00" stop-opacity="0.002"/><stop offset="0.825" stop-color="#f00" stop-opacity="0.001"/><stop offset="0.850" stop-color="#f00" stop-opacity="0.001"/><stop offset="0.875" stop-color="#f00" stop-opacity="0.001"/><stop offset="0.900" stop-color="#f00" stop-opacity="0.001"/><stop offset="0.925" stop-color="#f00" stop-opacity="0.001"/><stop offset="0.950" stop-color="#f00" stop-opacity="0.000"/><stop offset="0.975" stop-color="#f00" stop-opacity="0.000"/><stop offset="1.000" stop-color="#f00" stop-opacity="0.000"/></radialGradient><radialGradient id="r30"><stop offset="0.000" stop-color="#f00" stop-opacity="0.600"/><stop offset="0.025" stop-color="#f00" stop-opacity="0.598"/><stop offset="0.050" stop-color="#f00" stop-opacity="0.588"/><stop offset="0.075" stop-color="#f00" stop-opacity="0.567"/><stop offset="0.100" stop-color="#f00" stop-opacity="0.533"/><stop offset="0.125" stop-color="#f00" stop-opacity="0.486"/><stop offset="0.150" stop-color="#f00" stop-opacity="0.429"/><stop offset="0.175" stop-color="#f00" stop-opacity="0.364"/><stop offset="0.200" stop-color="#f00" stop-opacity="0.297"/><stop offset="0.225" stop-color="#f00" stop-opacity="0.232"/><stop offset="0.250" stop-color="#f00" stop-opacity="0.174"/><stop offset="0.275" stop-color="#f00" stop-opacity="0.126"/><stop offset="0.300" stop-color="#f00" stop-opacity="0.088"/><stop offset="0.325" stop-color="#f00" stop-opacity="0.060"/><stop offset="0.350" stop-color="#f00" stop-opacity="0.041"/><stop offset="0.375" stop-color="#f00" stop-opacity="0.029"/><stop offset="0.400" stop-color="#f00" stop-opacity="0.021"/><stop offset="0.425" stop-color="#f00" stop-opacity="0.016"/><stop offset="0.450" stop-color="#f00" stop-opacity="0.013"/><stop offset="0.475" stop-color="#f00" stop-opacity="0.011"/><stop offset="0.500" stop-color="#f00" stop-opacity="0.010"/><stop offset="0.525" stop-color="#f00" stop-opacity="0.009"/><stop offset="0.550" stop-color="#f00" stop-opacity="0.008"/><stop offset="0.575" stop-color="#f00" stop-opacity="0.007"/><stop offset="0.600" stop-color="#f00" stop-opacity="0.006"/><stop offset="0.625" stop-color="#f00" stop-opacity="0.005"/><stop offset="0.650" stop-color="#f00" stop-opacity="0.004"/><stop offset="0.675" stop-color="#f00" stop-opacity="0.004"/><stop offset="0.700" stop-color="#f00" stop-opacity="0.003"/><stop offset="0.725" stop-color="#f00" stop-opacity="0.003"/><stop offset="0.750" stop-color="#f00" stop-opacity="0.002"/><stop offset="0.775" stop-color="#f00" stop-opacity="0.002"/><stop offset="0.800" stop-color="#f00" stop-opacity="0.002"/><stop offset="0.825" stop-color="#f00" stop-opacity="0.001"/><stop offset="0.850" stop-color="#f00" stop-opacity="0.001"/><stop offset="0.875" stop-color="#f00" stop-opacity="0.001"/><stop offset="0.900" stop-color="#f00" stop-opacity="0.001"/><stop offset="0.925" stop-color="#f00" stop-opacity="0.001"/><stop offset="0.950" stop-color="#f00" stop-opacity="0.001"/><stop offset="0.975" stop-color="#f00" stop-opacity="0.000"/><stop offset="1.000" stop-color="#f00" stop-opacity="0.000"/></radialGradient><radialGradient id="r31"><stop offset="0.000" stop-color="#f00" stop-opacity="0.500"/><stop offset="0.025" stop-color="#f00" stop-opacity="0.498"/><stop offset="0.050" stop-color="#f00" stop-opacity="0.490"/><stop offset="0.075" stop-color="#f00" stop-opacity="0.473"/><stop offset="0.100" stop-color="#f00" stop-opacity="0.444"/><stop offset="0.125" stop-color="#f00" stop-opacity="0.405"/><stop offset="0.150" stop-color="#f00" stop-opacity="0.357"/><stop offset="0.175" stop-color="#f00" stop-opacity="0.303"/><stop offset="0.200" stop-color="#f00" stop-opacity="0.247"/><stop offset="0.225" stop-color="#f00" stop-opacity="0.194"/><stop offset="0.250" stop-color="#f00" stop-opacity="0.145"/><stop offset="0.275" stop-color="#f00" stop-opacity="0.105"/><stop offset="0.300" stop-color="#f00" stop-opacity="0.073"/><stop offset="0.325" stop-color="#f00" stop-opacity="0.050"/><stop offset="0.350" stop-color="#f00" stop-opacity="0.034"/><stop offset="0.375" stop-color="#f00" stop-opacity="0.024"/><stop offset="0.400" stop-color="#f00" stop-opacity="0.017"/><stop offset="0.425" stop-color="#f00" stop-opacity="0.014"/><stop offset="0.450" stop-color="#f00" stop-opacity="0.011"/><stop offset="0.475" stop-color="#f00" stop-opacity="0.009"/><stop offset="0.500" stop-color="#f00" stop-opacity="0.008"/><stop offset="0.525" stop-color="#f00" stop-opacity="0.007"/><stop offset="0.550" stop-color="#f00" stop-opacity="0.006"/><stop offset="0.575" stop-color="#f00" stop-opacity="0.006"/><stop offset="0.600" stop-color="#f00" stop-opacity="0.005"/><stop offset="0.625" stop-color="#f00" stop-opacity="0.004"/><stop offset="0.650" stop-color="#f00" stop-opacity="0.004"/><stop offset="0.675" stop-color="#f00" stop-opacity="0.003"/><stop offset="0.700" stop-color="#f00" stop-opacity="0.003"/><stop offset="0.725" stop-color="#f00" stop-opacity="0.002"/><stop offset="0.750" stop-color="#f00" stop-opacity="0.002"/><stop offset="0.775" stop-color="#f00" stop-opacity="0.002"/><stop offset="0.800" stop-color="#f00" stop-opacity="0.001"/><stop offset="0.825" stop-color="#f00" stop-opacity="0.001"/><stop offset="0.850" stop-color="#f00" stop-opacity="0.001"/><stop offset="0.875" stop-color="#f00" stop-opacity="0.001"/><stop offset="0.900" stop-color="#f00" stop-opacity="0.001"/><stop offset="0.925" stop-color="#f00" stop-opacity="0.001"/><stop offset="0.950" stop-color="#f00" stop-opacity="0.000"/><stop offset="0.975" stop-color="#f00" stop-opacity="0.000"/><stop offset="1.000" stop-color="#f00" stop-opacity="0.000"/></radialGradient><radialGradient id="r32"><stop offset="0.000" stop-color="#f00" stop-opacity="0.520"/><stop offset="0.025" stop-color="#f00" stop-opacity="0.518"/><stop offset="0.050" stop-color="#f00" stop-opacity="0.510"/><stop offset="0.075" stop-color="#f00" stop-opacity="0.492"/><stop offset="0.100" stop-color="#f00" stop-opacity="0.462"/><stop offset="0.125" stop-color="#f00" stop-opacity="0.421"/><stop offset="0.150" stop-color="#f00" stop-opacity="0.371"/><stop offset="0.175" stop-color="#f00" stop-opacity="0.315"/><stop offset="0.200" stop-color="#f00" stop-opacity="0.257"/><stop offset="0.225" stop-color="#f00" stop-opacity="0.201"/><stop offset="0.250" stop-color="#f00" stop-opacity="0.151"/><stop offset="0.275" stop-color="#f00" stop-opacity="0.109"/><stop offset="0.300" stop-color="#f00" stop-opacity="0.076"/><stop offset="0.325" stop-color="#f00" stop-opacity="0.052"/><stop offset="0.350" stop-color="#f00" stop-opacity="0.036"/><stop offset="0.375" stop-color="#f00" stop-opacity="0.025"/><stop offset="0.400" stop-color="#f00" stop-opacity="0.018"/><stop offset="0.425" stop-color="#f00" stop-opacity="0.014"/><stop offset="0.450" stop-color="#f00" stop-opacity="0.012"/><stop offset="0.475" stop-color="#f00" stop-opacity="0.010"/><stop offset="0.500" stop-color="#f00" stop-opacity="0.009"/><stop offset="0.525" stop-color="#f00" stop-opacity="0.008"/><stop offset="0.550" stop-color="#f00" stop-opacity="0.007"/><stop offset="0.575" stop-color="#f00" stop-opacity="0.006"/><stop offset="0.600" stop-color="#f00" stop-opacity="0.005"/><stop offset="0.625" stop-color="#f00" stop-opacity="0.004"/><stop offset="0.650" stop-color="#f00" stop-opacity="0.004"/><stop offset="0.675" stop-color="#f00" stop-opacity="0.003"/><stop offset="0.700" stop-color="#f00" stop-opacity="0.003"/><stop offset="0.725" stop-color="#f00" stop-opacity="0.002"/><stop offset="0.750" stop-color="#f00" stop-opacity="0.002"/><stop offset="0.775" stop-color="#f00" stop-opacity="0.002"/><stop offset="0.800" stop-color="#f00" stop-opacity="0.001"/><stop offset="0.825" stop-color="#f00" stop-opacity="0.001"/><stop offset="0.850" stop-color="#f00" stop-opacity="0.001"/><stop offset="0.875" stop-color="#f00" stop-opacity="0.001"/><stop offset="0.900" stop-color="#f00" stop-opacity="0.001"/><stop offset="0.925" stop-color="#f00" stop-opacity="0.001"/><stop offset="0.950" stop-color="#f00" stop-opacity="0.000"/><stop offset="0.975" stop-color="#f00" stop-opacity="0.000"/><stop offset="1.000" stop-color="#f00" stop-opacity="0.000"/></radialGradient><radialGradient id="r33"><stop offset="0.000" stop-color="#f00" stop-opacity="1.000"/><stop offset="0.025" stop-color="#f00" stop-opacity="1.000"/><stop offset="0.050" stop-color="#f00" stop-opacity="1.000"/><stop offset="0.075" stop-color="#f00" stop-opacity="1.000"/><stop offset="0.100" stop-color="#f00" stop-opacity="1.000"/><stop offset="0.125" stop-color="#f00" stop-opacity="1.000"/><stop offset="0.150" stop-color="#f00" stop-opacity="0.888"/><stop offset="0.175" stop-color="#f00" stop-opacity="0.755"/><stop offset="0.200" stop-color="#f00" stop-opacity="0.618"/><stop offset="0.225" stop-color="#f00" stop-opacity="0.485"/><stop offset="0.250" stop-color="#f00" stop-opacity="0.367"/><stop offset="0.275" stop-color="#f00" stop-opacity="0.267"/><stop offset="0.300" stop-color="#f00" stop-opacity="0.189"/><stop offset="0.325" stop-color="#f00" stop-opacity="0.131"/><stop offset="0.350" stop-color="#f00" stop-opacity="0.092"/><stop offset="0.375" stop-color="#f00" stop-opacity="0.066"/><stop offset="0.400" stop-color="#f00" stop-opacity="0.049"/><stop offset="0.425" stop-color="#f00" stop-opacity="0.039"/><stop offset="0.450" stop-color="#f00" stop-opacity="0.033"/><stop offset="0.475" stop-color="#f00" stop-opacity="0.028"/><stop offset="0.500" stop-color="#f00" stop-opacity="0.025"/><stop offset="0.525" stop-color="#f00" stop-opacity="0.022"/><stop offset="0.550" stop-color="#f00" stop-opacity="0.019"/><stop offset="0.575" stop-color="#f00" stop-opacity="0.017"/><stop offset="0.600" stop-color="#f00" stop-opacity="0.015"/><stop offset="0.625" stop-color="#f00" stop-opacity="0.013"/><stop offset="0.650" stop-color="#f00" stop-opacity="0.011"/><stop offset="0.675" stop-color="#f00" stop-opacity="0.010"/><stop offset="0.700" stop-color="#f00" stop-opacity="0.008"/><stop offset="0.725" stop-color="#f00" stop-opacity="0.007"/><stop offset="0.750" stop-color="#f00" stop-opacity="0.006"/><stop offset="0.775" stop-color="#f00" stop-opacity="0.005"/><stop offset="0.800" stop-color="#f00" stop-opacity="0.004"/><stop offset="0.825" stop-color="#f00" stop-opacity="0.003"/><stop offset="0.850" stop-color="#f00" stop-opacity="0.003"/><stop offset="0.875" stop-color="#f00" stop-opacity="0.002"/><stop offset="0.900" stop-color="#f00" stop-opacity="0.002"/><stop offset="0.925" stop-color="#f00" stop-opacity="0.002"/><stop offset="0.950" stop-color="#f00" stop-opacity="0.001"/><stop offset="0.975" stop-color="#f00" stop-opacity="0.001"/><stop offset="1.000" stop-color="#f00" stop-opacity="0.000"/></radialGradient><radialGradient id="k33"><stop offset="0.000" stop-color="#000" stop-opacity="0.240"/><stop offset="0.025" stop-color="#000" stop-opacity="0.236"/><stop offset="0.050" stop-color="#000" stop-opacity="0.216"/><stop offset="0.075" stop-color="#000" stop-opacity="0.173"/><stop offset="0.100" stop-color="#000" stop-opacity="0.103"/><stop offset="0.125" stop-color="#000" stop-opacity="0.006"/><stop offset="0.150" stop-color="#000" stop-opacity="0.000"/></radialGradient><radialGradient id="r34"><stop offset="0.000" stop-color="#f00" stop-opacity="1.000"/><stop offset="0.025" stop-color="#f00" stop-opacity="1.000"/><stop offset="0.050" stop-color="#f00" stop-opacity="1.000"/><stop offset="0.075" stop-color="#f00" stop-opacity="1.000"/><stop offset="0.100" stop-color="#f00" stop-opacity="1.000"/><stop offset="0.125" stop-color="#f00" stop-opacity="1.000"/><stop offset="0.150" stop-color="#f00" stop-opacity="0.931"/><stop offset="0.175" stop-color="#f00" stop-opacity="0.792"/><stop offset="0.200" stop-color="#f00" stop-opacity="0.648"/><stop offset="0.225" stop-color="#f00" stop-opacity="0.509"/><stop offset="0.250" stop-color="#f00" stop-opacity="0.384"/><stop offset="0.275" stop-color="#f00" stop-opacity="0.280"/><stop offset="0.300" stop-color="#f00" stop-opacity="0.198"/><stop offset="0.325" stop-color="#f00" stop-opacity="0.138"/><stop offset="0.350" stop-color="#f00" stop-opacity="0.096"/><stop offset="0.375" stop-color="#f00" stop-opacity="0.069"/><stop offset="0.400" stop-color="#f00" stop-opacity="0.052"/><stop offset="0.425" stop-color="#f00" stop-opacity="0.041"/><stop offset="0.450" stop-color="#f00" stop-opacity="0.034"/><stop offset="0.475" stop-color="#f00" stop-opacity="0.029"/><stop offset="0.500" stop-color="#f00" stop-opacity="0.026"/><stop offset="0.525" stop-color="#f00" stop-opacity="0.023"/><stop offset="0.550" stop-color="#f00" stop-opacity="0.020"/><stop offset="0.575" stop-color="#f00" stop-opacity="0.018"/><stop offset="0.600" stop-color="#f00" stop-opacity="0.015"/><stop offset="0.625" stop-color="#f00" stop-opacity="0.013"/><stop offset="0.650" stop-color="#f00" stop-opacity="0.012"/><stop offset="0.675" stop-color="#f00" stop-opacity="0.010"/><stop offset="0.700" stop-color="#f00" stop-opacity="0.009"/><stop offset="0.725" stop-color="#f00" stop-opacity="0.007"/><stop offset="0.750" stop-color="#f00" stop-opacity="0.006"/><stop offset="0.775" stop-color="#f00" stop-opacity="0.005"/><stop offset="0.800" stop-color="#f00" stop-opacity="0.004"/><stop offset="0.825" stop-color="#f00" stop-opacity="0.004"/><stop offset="0.850" stop-color="#f00" stop-opacity="0.003"/><stop offset="0.875" stop-color="#f00" stop-opacity="0.002"/><stop offset="0.900" stop-color="#f00" stop-opacity="0.002"/><stop offset="0.925" stop-color="#f00" stop-opacity="0.002"/><stop offset="0.950" stop-color="#f00" stop-opacity="0.001"/><stop offset="0.975" stop-color="#f00" stop-opacity="0.001"/><stop offset="1.000" stop-color="#f00" stop-opacity="0.000"/></radialGradient><radialGradient id="k34"><stop offset="0.000" stop-color="#000" stop-opacity="0.300"/><stop offset="0.025" stop-color="#000" stop-opacity="0.296"/><stop offset="0.050" stop-color="#000" stop-opacity="0.275"/><stop offset="0.075" stop-color="#000" stop-opacity="0.229"/><stop offset="0.100" stop-color="#000" stop-opacity="0.156"/><stop offset="0.125" stop-color="#000" stop-opacity="0.055"/><stop offset="0.150" stop-color="#000" stop-opacity="0.000"/></radialGradient><radialGradient id="r35"><stop offset="0.000" stop-color="#f00" stop-opacity="1.000"/><stop offset="0.025" stop-color="#f00" stop-opacity="1.000"/><stop offset="0.050" stop-color="#f00" stop-opacity="1.000"/><stop offset="0.075" stop-color="#f00" stop-opacity="1.000"/><stop offset="0.100" stop-color="#f00" stop-opacity="1.000"/><stop offset="0.125" stop-color="#f00" stop-opacity="1.000"/><stop offset="0.150" stop-color="#f00" stop-opacity="1.000"/><stop offset="0.175" stop-color="#f00" stop-opacity="1.000"/><stop offset="0.200" stop-color="#f00" stop-opacity="0.877"/><stop offset="0.225" stop-color="#f00" stop-opacity="0.689"/><stop offset="0.250" stop-color="#f00" stop-opacity="0.520"/><stop offset="0.275" stop-color="#f00" stop-opacity="0.379"/><stop offset="0.300" stop-color="#f00" stop-opacity="0.268"/><stop offset="0.325" stop-color="#f00" stop-opacity="0.186"/><stop offset="0.350" stop-color="#f00" stop-opacity="0.130"/><stop offset="0.375" stop-color="#f00" stop-opacity="0.093"/><stop offset="0.400" stop-color="#f00" stop-opacity="0.070"/><stop offset="0.425" stop-color="#f00" stop-opacity="0.055"/><stop offset="0.450" stop-color="#f00" stop-opacity="0.046"/><stop offset="0.475" stop-color="#f00" stop-opacity="0.040"/><stop offset="0.500" stop-color="#f00" stop-opacity="0.035"/><stop offset="0.525" stop-color="#f00" stop-opacity="0.031"/><stop offset="0.550" stop-color="#f00" stop-opacity="0.027"/><stop offset="0.575" stop-color="#f00" stop-opacity="0.024"/><stop offset="0.600" stop-color="#f00" stop-opacity="0.021"/><stop offset="0.625" stop-color="#f00" stop-opacity="0.018"/><stop offset="0.650" stop-color="#f00" stop-opacity="0.016"/><stop offset="0.675" stop-color="#f00" stop-opacity="0.014"/><stop offset="0.700" stop-color="#f00" stop-opacity="0.012"/><stop offset="0.725" stop-color="#f00" stop-opacity="0.010"/><stop offset="0.750" stop-color="#f00" stop-opacity="0.008"/><stop offset="0.775" stop-color="#f00" stop-opacity="0.007"/><stop offset="0.800" stop-color="#f00" stop-opacity="0.006"/><stop offset="0.825" stop-color="#f00" stop-opacity="0.005"/><stop offset="0.850" stop-color="#f00" stop-opacity="0.004"/><stop offset="0.875" stop-color="#f00" stop-opacity="0.003"/><stop offset="0.900" stop-color="#f00" stop-opacity="0.003"/><stop offset="0.925" stop-color="#f00" stop-opacity="0.002"/><stop offset="0.950" stop-color="#f00" stop-opacity="0.002"/><stop offset="0.975" stop-color="#f00" stop-opacity="0.001"/><stop offset="1.000" stop-color="#f00" stop-opacity="0.000"/></radialGradient><radialGradient id="k35"><stop offset="0.000" stop-color="#000" stop-opacity="0.760"/><stop offset="0.025" stop-color="#000" stop-opacity="0.754"/><stop offset="0.050" stop-color="#000" stop-opacity="0.726"/><stop offset="0.075" stop-color="#000" stop-opacity="0.664"/><stop offset="0.100" stop-color="#000" stop-opacity="0.565"/><stop offset="0.125" stop-color="#000" stop-opacity="0.428"/><stop offset="0.150" stop-color="#000" stop-opacity="0.261"/><stop offset="0.175" stop-color="#000" stop-opacity="0.072"/><stop offset="0.200" stop-color="#000" stop-opacity="0.000"/></radialGradient><radialGradient id="r36"><stop offset="0.000" stop-color="#f00" stop-opacity="1.000"/><stop offset="0.025" stop-color="#f00" stop-opacity="1.000"/><stop offset="0.050" stop-color="#f00" stop-opacity="1.000"/><stop offset="0.075" stop-color="#f00" stop-opacity="1.000"/><stop offset="0.100" stop-color="#f00" stop-opacity="1.000"/><stop offset="0.125" stop-color="#f00" stop-opacity="1.000"/><stop offset="0.150" stop-color="#f00" stop-opacity="1.000"/><stop offset="0.175" stop-color="#f00" stop-opacity="0.922"/><stop offset="0.200" stop-color="#f00" stop-opacity="0.758"/><stop offset="0.225" stop-color="#f00" stop-opacity="0.600"/><stop offset="0.250" stop-color="#f00" stop-opacity="0.458"/><stop offset="0.275" stop-color="#f00" stop-opacity="0.339"/><stop offset="0.300" stop-color="#f00" stop-opacity="0.245"/><stop offset="0.325" stop-color="#f00" stop-opacity="0.175"/><stop offset="0.350" stop-color="#f00" stop-opacity="0.127"/><stop offset="0.375" stop-color="#f00" stop-opacity="0.095"/><stop offset="0.400" stop-color="#f00" stop-opacity="0.074"/><stop offset="0.425" stop-color="#f00" stop-opacity="0.060"/><stop offset="0.450" stop-color="#f00" stop-opacity="0.051"/><stop offset="0.475" stop-color="#f00" stop-opacity="0.045"/><stop offset="0.500" stop-color="#f00" stop-opacity="0.039"/><stop offset="0.525" stop-color="#f00" stop-opacity="0.035"/><stop offset="0.550" stop-color="#f00" stop-opacity="0.031"/><stop offset="0.575" stop-color="#f00" stop-opacity="0.027"/><stop offset="0.600" stop-color="#f00" stop-opacity="0.024"/><stop offset="0.625" stop-color="#f00" stop-opacity="0.021"/><stop offset="0.650" stop-color="#f00" stop-opacity="0.018"/><stop offset="0.675" stop-color="#f00" stop-opacity="0.015"/><stop offset="0.700" stop-color="#f00" stop-opacity="0.013"/><stop offset="0.725" stop-color="#f00" stop-opacity="0.011"/><stop offset="0.750" stop-color="#f00" stop-opacity="0.010"/><stop offset="0.775" stop-color="#f00" stop-opacity="0.008"/><stop offset="0.800" stop-color="#f00" stop-opacity="0.007"/><stop offset="0.825" stop-color="#f00" stop-opacity="0.006"/><stop offset="0.850" stop-color="#f00" stop-opacity="0.005"/><stop offset="0.875" stop-color="#f00" stop-opacity="0.004"/><stop offset="0.900" stop-color="#f00" stop-opacity="0.003"/><stop offset="0.925" stop-color="#f00" stop-opacity="0.003"/><stop offset="0.950" stop-color="#f00" stop-opacity="0.002"/><stop offset="0.975" stop-color="#f00" stop-opacity="0.002"/><stop offset="1.000" stop-color="#f00" stop-opacity="0.000"/></radialGradient><radialGradient id="k36"><stop offset="0.000" stop-color="#000" stop-opacity="0.500"/><stop offset="0.025" stop-color="#000" stop-opacity="0.495"/><stop offset="0.050" stop-color="#000" stop-opacity="0.471"/><stop offset="0.075" stop-color="#000" stop-opacity="0.419"/><stop offset="0.100" stop-color="#000" stop-opacity="0.336"/><stop offset="0.125" stop-color="#000" stop-opacity="0.221"/><stop offset="0.150" stop-color="#000" stop-opacity="0.080"/><stop offset="0.175" stop-color="#000" stop-opacity="0.000"/></radialGradient><radialGradient id="r37"><stop offset="0.000" stop-color="#f00" stop-opacity="1.000"/><stop offset="0.025" stop-color="#f00" stop-opacity="1.000"/><stop offset="0.050" stop-color="#f00" stop-opacity="1.000"/><stop offset="0.075" stop-color="#f00" stop-opacity="1.000"/><stop offset="0.100" stop-color="#f00" stop-opacity="1.000"/><stop offset="0.125" stop-color="#f00" stop-opacity="1.000"/><stop offset="0.150" stop-color="#f00" stop-opacity="1.000"/><stop offset="0.175" stop-color="#f00" stop-opacity="1.000"/><stop offset="0.200" stop-color="#f00" stop-opacity="1.000"/><stop offset="0.225" stop-color="#f00" stop-opacity="0.849"/><stop offset="0.250" stop-color="#f00" stop-opacity="0.662"/><stop offset="0.275" stop-color="#f00" stop-opacity="0.504"/><stop offset="0.300" stop-color="#f00" stop-opacity="0.376"/><stop offset="0.325" stop-color="#f00" stop-opacity="0.277"/><stop offset="0.350" stop-color="#f00" stop-opacity="0.205"/><stop offset="0.375" stop-color="#f00" stop-opacity="0.153"/><stop offset="0.400" stop-color="#f00" stop-opacity="0.118"/><stop offset="0.425" stop-color="#f00" stop-opacity="0.094"/><stop offset="0.450" stop-color="#f00" stop-opacity="0.078"/><stop offset="0.475" stop-color="#f00" stop-opacity="0.066"/><stop offset="0.500" stop-color="#f00" stop-opacity="0.057"/><stop offset="0.525" stop-color="#f00" stop-opacity="0.050"/><stop offset="0.550" stop-color="#f00" stop-opacity="0.044"/><stop offset="0.575" stop-color="#f00" stop-opacity="0.038"/><stop offset="0.600" stop-color="#f00" stop-opacity="0.034"/><stop offset="0.625" stop-color="#f00" stop-opacity="0.029"/><stop offset="0.650" stop-color="#f00" stop-opacity="0.025"/><stop offset="0.675" stop-color="#f00" stop-opacity="0.022"/><stop offset="0.700" stop-color="#f00" stop-opacity="0.019"/><stop offset="0.725" stop-color="#f00" stop-opacity="0.016"/><stop offset="0.750" stop-color="#f00" stop-opacity="0.013"/><stop offset="0.775" stop-color="#f00" stop-opacity="0.011"/><stop offset="0.800" stop-color="#f00" stop-opacity="0.010"/><stop offset="0.825" stop-color="#f00" stop-opacity="0.008"/><stop offset="0.850" stop-color="#f00" stop-opacity="0.007"/><stop offset="0.875" stop-color="#f00" stop-opacity="0.005"/><stop offset="0.900" stop-color="#f00" stop-opacity="0.004"/><stop offset="0.925" stop-color="#f00" stop-opacity="0.004"/><stop offset="0.950" stop-color="#f00" stop-opacity="0.003"/><stop offset="0.975" stop-color="#f00" stop-opacity="0.002"/><stop offset="1.000" stop-color="#f00" stop-opacity="0.000"/></radialGradient><radialGradient id="k37"><stop offset="0.000" stop-color="#000" stop-opacity="1.120"/><stop offset="0.025" stop-color="#000" stop-opacity="1.109"/><stop offset="0.050" stop-color="#000" stop-opacity="1.066"/><stop offset="0.075" stop-color="#000" stop-opacity="0.980"/><stop offset="0.100" stop-color="#000" stop-opacity="0.852"/><stop offset="0.125" stop-color="#000" stop-opacity="0.684"/><stop offset="0.150" stop-color="#000" stop-opacity="0.487"/><stop offset="0.175" stop-color="#000" stop-opacity="0.273"/><stop offset="0.200" stop-color="#000" stop-opacity="0.056"/><stop offset="0.225" stop-color="#000" stop-opacity="0.000"/></radialGradient><radialGradient id="r38"><stop offset="0.000" stop-color="#f00" stop-opacity="1.000"/><stop offset="0.025" stop-color="#f00" stop-opacity="1.000"/><stop offset="0.050" stop-color="#f00" stop-opacity="1.000"/><stop offset="0.075" stop-color="#f00" stop-opacity="1.000"/><stop offset="0.100" stop-color="#f00" stop-opacity="1.000"/><stop offset="0.125" stop-color="#f00" stop-opacity="1.000"/><stop offset="0.150" stop-color="#f00" stop-opacity="1.000"/><stop offset="0.175" stop-color="#f00" stop-opacity="1.000"/><stop offset="0.200" stop-color="#f00" stop-opacity="0.849"/><stop offset="0.225" stop-color="#f00" stop-opacity="0.672"/><stop offset="0.250" stop-color="#f00" stop-opacity="0.513"/><stop offset="0.275" stop-color="#f00" stop-opacity="0.379"/><stop offset="0.300" stop-color="#f00" stop-opacity="0.274"/><stop offset="0.325" stop-color="#f00" stop-opacity="0.196"/><stop offset="0.350" stop-color="#f00" stop-opacity="0.142"/><stop offset="0.375" stop-color="#f00" stop-opacity="0.106"/><stop offset="0.400" stop-color="#f00" stop-opacity="0.083"/><stop offset="0.425" stop-color="#f00" stop-opacity="0.068"/><stop offset="0.450" stop-color="#f00" stop-opacity="0.057"/><stop offset="0.475" stop-color="#f00" stop-opacity="0.050"/><stop offset="0.500" stop-color="#f00" stop-opacity="0.044"/><stop offset="0.525" stop-color="#f00" stop-opacity="0.039"/><stop offset="0.550" stop-color="#f00" stop-opacity="0.035"/><stop offset="0.575" stop-color="#f00" stop-opacity="0.030"/><stop offset="0.600" stop-color="#f00" stop-opacity="0.027"/><stop offset="0.625" stop-color="#f00" stop-opacity="0.023"/><stop offset="0.650" stop-color="#f00" stop-opacity="0.020"/><stop offset="0.675" stop-color="#f00" stop-opacity="0.017"/><stop offset="0.700" stop-color="#f00" stop-opacity="0.015"/><stop offset="0.725" stop-color="#f00" stop-opacity="0.013"/><stop offset="0.750" stop-color="#f00" stop-opacity="0.011"/><stop offset="0.775" stop-color="#f00" stop-opacity="0.009"/><stop offset="0.800" stop-color="#f00" stop-opacity="0.008"/><stop offset="0.825" stop-color="#f00" stop-opacity="0.006"/><stop offset="0.850" stop-color="#f00" stop-opacity="0.005"/><stop offset="0.875" stop-color="#f00" stop-opacity="0.004"/><stop offset="0.900" stop-color="#f00" stop-opacity="0.004"/><stop offset="0.925" stop-color="#f00" stop-opacity="0.003"/><stop offset="0.950" stop-color="#f00" stop-opacity="0.002"/><stop offset="0.975" stop-color="#f00" stop-opacity="0.002"/><stop offset="1.000" stop-color="#f00" stop-opacity="0.000"/></radialGradient><radialGradient id="k38"><stop offset="0.000" stop-color="#000" stop-opacity="0.680"/><stop offset="0.025" stop-color="#000" stop-opacity="0.674"/><stop offset="0.050" stop-color="#000" stop-opacity="0.648"/><stop offset="0.075" stop-color="#000" stop-opacity="0.590"/><stop offset="0.100" stop-color="#000" stop-opacity="0.496"/><stop offset="0.125" stop-color="#000" stop-opacity="0.368"/><stop offset="0.150" stop-color="#000" stop-opacity="0.210"/><stop offset="0.175" stop-color="#000" stop-opacity="0.033"/><stop offset="0.200" stop-color="#000" stop-opacity="0.000"/></radialGradient><radialGradient id="r39"><stop offset="0.000" stop-color="#f00" stop-opacity="1.000"/><stop offset="0.025" stop-color="#f00" stop-opacity="1.000"/><stop offset="0.050" stop-color="#f00" stop-opacity="1.000"/><stop offset="0.075" stop-color="#f00" stop-opacity="1.000"/><stop offset="0.100" stop-color="#f00" stop-opacity="1.000"/><stop offset="0.125" stop-color="#f00" stop-opacity="1.000"/><stop offset="0.150" stop-color="#f00" stop-opacity="1.000"/><stop offset="0.175" stop-color="#f00" stop-opacity="1.000"/><stop offset="0.200" stop-color="#f00" stop-opacity="0.910"/><stop offset="0.225" stop-color="#f00" stop-opacity="0.767"/><stop offset="0.250" stop-color="#f00" stop-opacity="0.638"/><stop offset="0.275" stop-color="#f00" stop-opacity="0.524"/><stop offset="0.300" stop-color="#f00" stop-opacity="0.428"/><stop offset="0.325" stop-color="#f00" stop-opacity="0.347"/><stop offset="0.350" stop-color="#f00" stop-opacity="0.281"/><stop offset="0.375" stop-color="#f00" stop-opacity="0.229"/><stop offset="0.400" stop-color="#f00" stop-opacity="0.187"/><stop offset="0.425" stop-color="#f00" stop-opacity="0.155"/><stop offset="0.450" stop-color="#f00" stop-opacity="0.129"/><stop offset="0.475" stop-color="#f00" stop-opacity="0.109"/><stop offset="0.500" stop-color="#f00" stop-opacity="0.093"/><stop offset="0.525" stop-color="#f00" stop-opacity="0.079"/><stop offset="0.550" stop-color="#f00" stop-opacity="0.068"/><stop offset="0.575" stop-color="#f00" stop-opacity="0.059"/><stop offset="0.600" stop-color="#f00" stop-opacity="0.051"/><stop offset="0.625" stop-color="#f00" stop-opacity="0.044"/><stop offset="0.650" stop-color="#f00" stop-opacity="0.038"/><stop offset="0.675" stop-color="#f00" stop-opacity="0.033"/><stop offset="0.700" stop-color="#f00" stop-opacity="0.028"/><stop offset="0.725" stop-color="#f00" stop-opacity="0.024"/><stop offset="0.750" stop-color="#f00" stop-opacity="0.020"/><stop offset="0.775" stop-color="#f00" stop-opacity="0.017"/><stop offset="0.800" stop-color="#f00" stop-opacity="0.014"/><stop offset="0.825" stop-color="#f00" stop-opacity="0.012"/><stop offset="0.850" stop-color="#f00" stop-opacity="0.010"/><stop offset="0.875" stop-color="#f00" stop-opacity="0.008"/><stop offset="0.900" stop-color="#f00" stop-opacity="0.007"/><stop offset="0.925" stop-color="#f00" stop-opacity="0.005"/><stop offset="0.950" stop-color="#f00" stop-opacity="0.004"/><stop offset="0.975" stop-color="#f00" stop-opacity="0.003"/><stop offset="1.000" stop-color="#f00" stop-opacity="0.000"/></radialGradient><radialGradient id="k39"><stop offset="0.000" stop-color="#000" stop-opacity="0.800"/><stop offset="0.025" stop-color="#000" stop-opacity="0.780"/><stop offset="0.050" stop-color="#000" stop-opacity="0.722"/><stop offset="0.075" stop-color="#000" stop-opacity="0.630"/><stop offset="0.100" stop-color="#000" stop-opacity="0.510"/><stop offset="0.125" stop-color="#000" stop-opacity="0.370"/><stop offset="0.150" stop-color="#000" stop-opacity="0.218"/><stop offset="0.175" stop-color="#000" stop-opacity="0.063"/><stop offset="0.200" stop-color="#000" stop-opacity="0.000"/></radialGradient><radialGradient id="r40"><stop offset="0.000" stop-color="#f00" stop-opacity="0.600"/><stop offset="0.025" stop-color="#f00" stop-opacity="0.593"/><stop offset="0.050" stop-color="#f00" stop-opacity="0.574"/><stop offset="0.075" stop-color="#f00" stop-opacity="0.543"/><stop offset="0.100" stop-color="#f00" stop-opacity="0.503"/><stop offset="0.125" stop-color="#f00" stop-opacity="0.457"/><stop offset="0.150" stop-color="#f00" stop-opacity="0.406"/><stop offset="0.175" stop-color="#f00" stop-opacity="0.354"/><stop offset="0.200" stop-color="#f00" stop-opacity="0.303"/><stop offset="0.225" stop-color="#f00" stop-opacity="0.256"/><stop offset="0.250" stop-color="#f00" stop-opacity="0.213"/><stop offset="0.275" stop-color="#f00" stop-opacity="0.175"/><stop offset="0.300" stop-color="#f00" stop-opacity="0.143"/><stop offset="0.325" stop-color="#f00" stop-opacity="0.116"/><stop offset="0.350" stop-color="#f00" stop-opacity="0.094"/><stop offset="0.375" stop-color="#f00" stop-opacity="0.076"/><stop offset="0.400" stop-color="#f00" stop-opacity="0.062"/><stop offset="0.425" stop-color="#f00" stop-opacity="0.052"/><stop offset="0.450" stop-color="#f00" stop-opacity="0.043"/><stop offset="0.475" stop-color="#f00" stop-opacity="0.036"/><stop offset="0.500" stop-color="#f00" stop-opacity="0.031"/><stop offset="0.525" stop-color="#f00" stop-opacity="0.026"/><stop offset="0.550" stop-color="#f00" stop-opacity="0.023"/><stop offset="0.575" stop-color="#f00" stop-opacity="0.020"/><stop offset="0.600" stop-color="#f00" stop-opacity="0.017"/><stop offset="0.625" stop-color="#f00" stop-opacity="0.015"/><stop offset="0.650" stop-color="#f00" stop-opacity="0.013"/><stop offset="0.675" stop-color="#f00" stop-opacity="0.011"/><stop offset="0.700" stop-color="#f00" stop-opacity="0.009"/><stop offset="0.725" stop-color="#f00" stop-opacity="0.008"/><stop offset="0.750" stop-color="#f00" stop-opacity="0.007"/><stop offset="0.775" stop-color="#f00" stop-opacity="0.006"/><stop offset="0.800" stop-color="#f00" stop-opacity="0.005"/><stop offset="0.825" stop-color="#f00" stop-opacity="0.004"/><stop offset="0.850" stop-color="#f00" stop-opacity="0.003"/><stop offset="0.875" stop-color="#f00" stop-opacity="0.003"/><stop offset="0.900" stop-color="#f00" stop-opacity="0.002"/><stop offset="0.925" stop-color="#f00" stop-opacity="0.002"/><stop offset="0.950" stop-color="#f00" stop-opacity="0.001"/><stop offset="0.975" stop-color="#f00" stop-opacity="0.001"/><stop offset="1.000" stop-color="#f00" stop-opacity="0.000"/></radialGradient><radialGradient id="r41"><stop offset="0.000" stop-color="#f00" stop-opacity="1.000"/><stop offset="0.025" stop-color="#f00" stop-opacity="1.000"/><stop offset="0.050" stop-color="#f00" stop-opacity="1.000"/><stop offset="0.075" stop-color="#f00" stop-opacity="1.000"/><stop offset="0.100" stop-color="#f00" stop-opacity="1.000"/><stop offset="0.125" stop-color="#f00" stop-opacity="1.000"/><stop offset="0.150" stop-color="#f00" stop-opacity="1.000"/><stop offset="0.175" stop-color="#f00" stop-opacity="1.000"/><stop offset="0.200" stop-color="#f00" stop-opacity="1.000"/><stop offset="0.225" stop-color="#f00" stop-opacity="0.853"/><stop offset="0.250" stop-color="#f00" stop-opacity="0.709"/><stop offset="0.275" stop-color="#f00" stop-opacity="0.583"/><stop offset="0.300" stop-color="#f00" stop-opacity="0.475"/><stop offset="0.325" stop-color="#f00" stop-opacity="0.386"/><stop offset="0.350" stop-color="#f00" stop-opacity="0.313"/><stop offset="0.375" stop-color="#f00" stop-opacity="0.254"/><stop offset="0.400" stop-color="#f00" stop-opacity="0.208"/><stop offset="0.425" stop-color="#f00" stop-opacity="0.172"/><stop offset="0.450" stop-color="#f00" stop-opacity="0.143"/><stop offset="0.475" stop-color="#f00" stop-opacity="0.121"/><stop offset="0.500" stop-color="#f00" stop-opacity="0.103"/><stop offset="0.525" stop-color="#f00" stop-opacity="0.088"/><stop offset="0.550" stop-color="#f00" stop-opacity="0.076"/><stop offset="0.575" stop-color="#f00" stop-opacity="0.066"/><stop offset="0.600" stop-color="#f00" stop-opacity="0.057"/><stop offset="0.625" stop-color="#f00" stop-opacity="0.049"/><stop offset="0.650" stop-color="#f00" stop-opacity="0.042"/><stop offset="0.675" stop-color="#f00" stop-opacity="0.036"/><stop offset="0.700" stop-color="#f00" stop-opacity="0.031"/><stop offset="0.725" stop-color="#f00" stop-opacity="0.026"/><stop offset="0.750" stop-color="#f00" stop-opacity="0.022"/><stop offset="0.775" stop-color="#f00" stop-opacity="0.019"/><stop offset="0.800" stop-color="#f00" stop-opacity="0.016"/><stop offset="0.825" stop-color="#f00" stop-opacity="0.013"/><stop offset="0.850" stop-color="#f00" stop-opacity="0.011"/><stop offset="0.875" stop-color="#f00" stop-opacity="0.009"/><stop offset="0.900" stop-color="#f00" stop-opacity="0.007"/><stop offset="0.925" stop-color="#f00" stop-opacity="0.006"/><stop offset="0.950" stop-color="#f00" stop-opacity="0.005"/><stop offset="0.975" stop-color="#f00" stop-opacity="0.004"/><stop offset="1.000" stop-color="#f00" stop-opacity="0.000"/></radialGradient><radialGradient id="k41"><stop offset="0.000" stop-color="#000" stop-opacity="1.000"/><stop offset="0.025" stop-color="#000" stop-opacity="0.978"/><stop offset="0.050" stop-color="#000" stop-opacity="0.914"/><stop offset="0.075" stop-color="#000" stop-opacity="0.811"/><stop offset="0.100" stop-color="#000" stop-opacity="0.678"/><stop offset="0.125" stop-color="#000" stop-opacity="0.522"/><stop offset="0.150" stop-color="#000" stop-opacity="0.354"/><stop offset="0.175" stop-color="#000" stop-opacity="0.181"/><stop offset="0.200" stop-color="#000" stop-opacity="0.012"/><stop offset="0.225" stop-color="#000" stop-opacity="0.000"/></radialGradient><radialGradient id="r42"><stop offset="0.000" stop-color="#f00" stop-opacity="0.840"/><stop offset="0.025" stop-color="#f00" stop-opacity="0.837"/><stop offset="0.050" stop-color="#f00" stop-opacity="0.824"/><stop offset="0.075" stop-color="#f00" stop-opacity="0.796"/><stop offset="0.100" stop-color="#f00" stop-opacity="0.752"/><stop offset="0.125" stop-color="#f00" stop-opacity="0.690"/><stop offset="0.150" stop-color="#f00" stop-opacity="0.615"/><stop offset="0.175" stop-color="#f00" stop-opacity="0.530"/><stop offset="0.200" stop-color="#f00" stop-opacity="0.443"/><stop offset="0.225" stop-color="#f00" stop-opacity="0.358"/><stop offset="0.250" stop-color="#f00" stop-opacity="0.281"/><stop offset="0.275" stop-color="#f00" stop-opacity="0.216"/><stop offset="0.300" stop-color="#f00" stop-opacity="0.165"/><stop offset="0.325" stop-color="#f00" stop-opacity="0.126"/><stop offset="0.350" stop-color="#f00" stop-opacity="0.098"/><stop offset="0.375" stop-color="#f00" stop-opacity="0.079"/><stop offset="0.400" stop-color="#f00" stop-opacity="0.065"/><stop offset="0.425" stop-color="#f00" stop-opacity="0.056"/><stop offset="0.450" stop-color="#f00" stop-opacity="0.049"/><stop offset="0.475" stop-color="#f00" stop-opacity="0.043"/><stop offset="0.500" stop-color="#f00" stop-opacity="0.038"/><stop offset="0.525" stop-color="#f00" stop-opacity="0.034"/><stop offset="0.550" stop-color="#f00" stop-opacity="0.030"/><stop offset="0.575" stop-color="#f00" stop-opacity="0.027"/><stop offset="0.600" stop-color="#f00" stop-opacity="0.023"/><stop offset="0.625" stop-color="#f00" stop-opacity="0.020"/><stop offset="0.650" stop-color="#f00" stop-opacity="0.018"/><stop offset="0.675" stop-color="#f00" stop-opacity="0.015"/><stop offset="0.700" stop-color="#f00" stop-opacity="0.013"/><stop offset="0.725" stop-color="#f00" stop-opacity="0.011"/><stop offset="0.750" stop-color="#f00" stop-opacity="0.009"/><stop offset="0.775" stop-color="#f00" stop-opacity="0.008"/><stop offset="0.800" stop-color="#f00" stop-opacity="0.007"/><stop offset="0.825" stop-color="#f00" stop-opacity="0.005"/><stop offset="0.850" stop-color="#f00" stop-opacity="0.005"/><stop offset="0.875" stop-color="#f00" stop-opacity="0.004"/><stop offset="0.900" stop-color="#f00" stop-opacity="0.003"/><stop offset="0.925" stop-color="#f00" stop-opacity="0.003"/><stop offset="0.950" stop-color="#f00" stop-opacity="0.002"/><stop offset="0.975" stop-color="#f00" stop-opacity="0.002"/><stop offset="1.000" stop-color="#f00" stop-opacity="0.000"/></radialGradient><radialGradient id="r43"><stop offset="0.000" stop-color="#f00" stop-opacity="1.000"/><stop offset="0.025" stop-color="#f00" stop-opacity="1.000"/><stop offset="0.050" stop-color="#f00" stop-opacity="1.000"/><stop offset="0.075" stop-color="#f00" stop-opacity="1.000"/><stop offset="0.100" stop-color="#f00" stop-opacity="1.000"/><stop offset="0.125" stop-color="#f00" stop-opacity="1.000"/><stop offset="0.150" stop-color="#f00" stop-opacity="1.000"/><stop offset="0.175" stop-color="#f00" stop-opacity="0.998"/><stop offset="0.200" stop-color="#f00" stop-opacity="0.853"/><stop offset="0.225" stop-color="#f00" stop-opacity="0.718"/><stop offset="0.250" stop-color="#f00" stop-opacity="0.595"/><stop offset="0.275" stop-color="#f00" stop-opacity="0.487"/><stop offset="0.300" stop-color="#f00" stop-opacity="0.395"/><stop offset="0.325" stop-color="#f00" stop-opacity="0.319"/><stop offset="0.350" stop-color="#f00" stop-opacity="0.257"/><stop offset="0.375" stop-color="#f00" stop-opacity="0.208"/><stop offset="0.400" stop-color="#f00" stop-opacity="0.169"/><stop offset="0.425" stop-color="#f00" stop-opacity="0.139"/><stop offset="0.450" stop-color="#f00" stop-opacity="0.115"/><stop offset="0.475" stop-color="#f00" stop-opacity="0.097"/><stop offset="0.500" stop-color="#f00" stop-opacity="0.082"/><stop offset="0.525" stop-color="#f00" stop-opacity="0.070"/><stop offset="0.550" stop-color="#f00" stop-opacity="0.060"/><stop offset="0.575" stop-color="#f00" stop-opacity="0.052"/><stop offset="0.600" stop-color="#f00" stop-opacity="0.045"/><stop offset="0.625" stop-color="#f00" stop-opacity="0.039"/><stop offset="0.650" stop-color="#f00" stop-opacity="0.033"/><stop offset="0.675" stop-color="#f00" stop-opacity="0.029"/><stop offset="0.700" stop-color="#f00" stop-opacity="0.024"/><stop offset="0.725" stop-color="#f00" stop-opacity="0.021"/><stop offset="0.750" stop-color="#f00" stop-opacity="0.018"/><stop offset="0.775" stop-color="#f00" stop-opacity="0.015"/><stop offset="0.800" stop-color="#f00" stop-opacity="0.012"/><stop offset="0.825" stop-color="#f00" stop-opacity="0.010"/><stop offset="0.850" stop-color="#f00" stop-opacity="0.009"/><stop offset="0.875" stop-color="#f00" stop-opacity="0.007"/><stop offset="0.900" stop-color="#f00" stop-opacity="0.006"/><stop offset="0.925" stop-color="#f00" stop-opacity="0.005"/><stop offset="0.950" stop-color="#f00" stop-opacity="0.004"/><stop offset="0.975" stop-color="#f00" stop-opacity="0.003"/><stop offset="1.000" stop-color="#f00" stop-opacity="0.000"/></radialGradient><radialGradient id="k43"><stop offset="0.000" stop-color="#000" stop-opacity="0.700"/><stop offset="0.025" stop-color="#000" stop-opacity="0.681"/><stop offset="0.050" stop-color="#000" stop-opacity="0.626"/><stop offset="0.075" stop-color="#000" stop-opacity="0.538"/><stop offset="0.100" stop-color="#000" stop-opacity="0.424"/><stop offset="0.125" stop-color="#000" stop-opacity="0.291"/><stop offset="0.150" stop-color="#000" stop-opacity="0.146"/><stop offset="0.175" stop-color="#000" stop-opacity="0.000"/></radialGradient><radialGradient id="r44"><stop offset="0.000" stop-color="#f00" stop-opacity="0.400"/><stop offset="0.025" stop-color="#f00" stop-opacity="0.395"/><stop offset="0.050" stop-color="#f00" stop-opacity="0.382"/><stop offset="0.075" stop-color="#f00" stop-opacity="0.361"/><stop offset="0.100" stop-color="#f00" stop-opacity="0.333"/><stop offset="0.125" stop-color="#f00" stop-opacity="0.301"/><stop offset="0.150" stop-color="#f00" stop-opacity="0.266"/><stop offset="0.175" stop-color="#f00" stop-opacity="0.231"/><stop offset="0.200" stop-color="#f00" stop-opacity="0.196"/><stop offset="0.225" stop-color="#f00" stop-opacity="0.164"/><stop offset="0.250" stop-color="#f00" stop-opacity="0.134"/><stop offset="0.275" stop-color="#f00" stop-opacity="0.109"/><stop offset="0.300" stop-color="#f00" stop-opacity="0.087"/><stop offset="0.325" stop-color="#f00" stop-opacity="0.069"/><stop offset="0.350" stop-color="#f00" stop-opacity="0.055"/><stop offset="0.375" stop-color="#f00" stop-opacity="0.043"/><stop offset="0.400" stop-color="#f00" stop-opacity="0.035"/><stop offset="0.425" stop-color="#f00" stop-opacity="0.028"/><stop offset="0.450" stop-color="#f00" stop-opacity="0.023"/><stop offset="0.475" stop-color="#f00" stop-opacity="0.019"/><stop offset="0.500" stop-color="#f00" stop-opacity="0.016"/><stop offset="0.525" stop-color="#f00" stop-opacity="0.013"/><stop offset="0.550" stop-color="#f00" stop-opacity="0.011"/><stop offset="0.575" stop-color="#f00" stop-opacity="0.010"/><stop offset="0.600" stop-color="#f00" stop-opacity="0.008"/><stop offset="0.625" stop-color="#f00" stop-opacity="0.007"/><stop offset="0.650" stop-color="#f00" stop-opacity="0.006"/><stop offset="0.675" stop-color="#f00" stop-opacity="0.005"/><stop offset="0.700" stop-color="#f00" stop-opacity="0.004"/><stop offset="0.725" stop-color="#f00" stop-opacity="0.004"/><stop offset="0.750" stop-color="#f00" stop-opacity="0.003"/><stop offset="0.775" stop-color="#f00" stop-opacity="0.003"/><stop offset="0.800" stop-color="#f00" stop-opacity="0.002"/><stop offset="0.825" stop-color="#f00" stop-opacity="0.002"/><stop offset="0.850" stop-color="#f00" stop-opacity="0.002"/><stop offset="0.875" stop-color="#f00" stop-opacity="0.001"/><stop offset="0.900" stop-color="#f00" stop-opacity="0.001"/><stop offset="0.925" stop-color="#f00" stop-opacity="0.001"/><stop offset="0.950" stop-color="#f00" stop-opacity="0.001"/><stop offset="0.975" stop-color="#f00" stop-opacity="0.001"/><stop offset="1.000" stop-color="#f00" stop-opacity="0.000"/></radialGradient><radialGradient id="r45"><stop offset="0.000" stop-color="#f00" stop-opacity="1.000"/><stop offset="0.025" stop-color="#f00" stop-opacity="1.000"/><stop offset="0.050" stop-color="#f00" stop-opacity="1.000"/><stop offset="0.075" stop-color="#f00" stop-opacity="1.000"/><stop offset="0.100" stop-color="#f00" stop-opacity="1.000"/><stop offset="0.125" stop-color="#f00" stop-opacity="1.000"/><stop offset="0.150" stop-color="#f00" stop-opacity="1.000"/><stop offset="0.175" stop-color="#f00" stop-opacity="1.000"/><stop offset="0.200" stop-color="#f00" stop-opacity="1.000"/><stop offset="0.225" stop-color="#f00" stop-opacity="0.844"/><stop offset="0.250" stop-color="#f00" stop-opacity="0.700"/><stop offset="0.275" stop-color="#f00" stop-opacity="0.573"/><stop offset="0.300" stop-color="#f00" stop-opacity="0.465"/><stop offset="0.325" stop-color="#f00" stop-opacity="0.376"/><stop offset="0.350" stop-color="#f00" stop-opacity="0.303"/><stop offset="0.375" stop-color="#f00" stop-opacity="0.245"/><stop offset="0.400" stop-color="#f00" stop-opacity="0.199"/><stop offset="0.425" stop-color="#f00" stop-opacity="0.164"/><stop offset="0.450" stop-color="#f00" stop-opacity="0.136"/><stop offset="0.475" stop-color="#f00" stop-opacity="0.114"/><stop offset="0.500" stop-color="#f00" stop-opacity="0.097"/><stop offset="0.525" stop-color="#f00" stop-opacity="0.083"/><stop offset="0.550" stop-color="#f00" stop-opacity="0.071"/><stop offset="0.575" stop-color="#f00" stop-opacity="0.061"/><stop offset="0.600" stop-color="#f00" stop-opacity="0.053"/><stop offset="0.625" stop-color="#f00" stop-opacity="0.046"/><stop offset="0.650" stop-color="#f00" stop-opacity="0.039"/><stop offset="0.675" stop-color="#f00" stop-opacity="0.034"/><stop offset="0.700" stop-color="#f00" stop-opacity="0.029"/><stop offset="0.725" stop-color="#f00" stop-opacity="0.024"/><stop offset="0.750" stop-color="#f00" stop-opacity="0.021"/><stop offset="0.775" stop-color="#f00" stop-opacity="0.017"/><stop offset="0.800" stop-color="#f00" stop-opacity="0.015"/><stop offset="0.825" stop-color="#f00" stop-opacity="0.012"/><stop offset="0.850" stop-color="#f00" stop-opacity="0.010"/><stop offset="0.875" stop-color="#f00" stop-opacity="0.008"/><stop offset="0.900" stop-color="#f00" stop-opacity="0.007"/><stop offset="0.925" stop-color="#f00" stop-opacity="0.006"/><stop offset="0.950" stop-color="#f00" stop-opacity="0.004"/><stop offset="0.975" stop-color="#f00" stop-opacity="0.004"/><stop offset="1.000" stop-color="#f00" stop-opacity="0.000"/></radialGradient><radialGradient id="k45"><stop offset="0.000" stop-color="#000" stop-opacity="1.000"/><stop offset="0.025" stop-color="#000" stop-opacity="0.978"/><stop offset="0.050" stop-color="#000" stop-opacity="0.913"/><stop offset="0.075" stop-color="#000" stop-opacity="0.810"/><stop offset="0.100" stop-color="#000" stop-opacity="0.675"/><stop offset="0.125" stop-color="#000" stop-opacity="0.518"/><stop offset="0.150" stop-color="#000" stop-opacity="0.348"/><stop offset="0.175" stop-color="#000" stop-opacity="0.174"/><stop offset="0.200" stop-color="#000" stop-opacity="0.004"/><stop offset="0.225" stop-color="#000" stop-opacity="0.000"/></radialGradient><radialGradient id="r46"><stop offset="0.000" stop-color="#f00" stop-opacity="1.000"/><stop offset="0.025" stop-color="#f00" stop-opacity="1.000"/><stop offset="0.050" stop-color="#f00" stop-opacity="1.000"/><stop offset="0.075" stop-color="#f00" stop-opacity="1.000"/><stop offset="0.100" stop-color="#f00" stop-opacity="1.000"/><stop offset="0.125" stop-color="#f00" stop-opacity="1.000"/><stop offset="0.150" stop-color="#f00" stop-opacity="1.000"/><stop offset="0.175" stop-color="#f00" stop-opacity="1.000"/><stop offset="0.200" stop-color="#f00" stop-opacity="0.989"/><stop offset="0.225" stop-color="#f00" stop-opacity="0.827"/><stop offset="0.250" stop-color="#f00" stop-opacity="0.681"/><stop offset="0.275" stop-color="#f00" stop-opacity="0.553"/><stop offset="0.300" stop-color="#f00" stop-opacity="0.445"/><stop offset="0.325" stop-color="#f00" stop-opacity="0.356"/><stop offset="0.350" stop-color="#f00" stop-opacity="0.283"/><stop offset="0.375" stop-color="#f00" stop-opacity="0.226"/><stop offset="0.400" stop-color="#f00" stop-opacity="0.181"/><stop offset="0.425" stop-color="#f00" stop-opacity="0.147"/><stop offset="0.450" stop-color="#f00" stop-opacity="0.120"/><stop offset="0.475" stop-color="#f00" stop-opacity="0.100"/><stop offset="0.500" stop-color="#f00" stop-opacity="0.084"/><stop offset="0.525" stop-color="#f00" stop-opacity="0.071"/><stop offset="0.550" stop-color="#f00" stop-opacity="0.061"/><stop offset="0.575" stop-color="#f00" stop-opacity="0.052"/><stop offset="0.600" stop-color="#f00" stop-opacity="0.045"/><stop offset="0.625" stop-color="#f00" stop-opacity="0.039"/><stop offset="0.650" stop-color="#f00" stop-opacity="0.033"/><stop offset="0.675" stop-color="#f00" stop-opacity="0.029"/><stop offset="0.700" stop-color="#f00" stop-opacity="0.024"/><stop offset="0.725" stop-color="#f00" stop-opacity="0.021"/><stop offset="0.750" stop-color="#f00" stop-opacity="0.018"/><stop offset="0.775" stop-color="#f00" stop-opacity="0.015"/><stop offset="0.800" stop-color="#f00" stop-opacity="0.012"/><stop offset="0.825" stop-color="#f00" stop-opacity="0.010"/><stop offset="0.850" stop-color="#f00" stop-opacity="0.009"/><stop offset="0.875" stop-color="#f00" stop-opacity="0.007"/><stop offset="0.900" stop-color="#f00" stop-opacity="0.006"/><stop offset="0.925" stop-color="#f00" stop-opacity="0.005"/><stop offset="0.950" stop-color="#f00" stop-opacity="0.004"/><stop offset="0.975" stop-color="#f00" stop-opacity="0.003"/><stop offset="1.000" stop-color="#f00" stop-opacity="0.000"/></radialGradient><radialGradient id="k46"><stop offset="0.000" stop-color="#000" stop-opacity="1.000"/><stop offset="0.025" stop-color="#000" stop-opacity="0.977"/><stop offset="0.050" stop-color="#000" stop-opacity="0.911"/><stop offset="0.075" stop-color="#000" stop-opacity="0.806"/><stop offset="0.100" stop-color="#000" stop-opacity="0.670"/><stop offset="0.125" stop-color="#000" stop-opacity="0.510"/><stop offset="0.150" stop-color="#000" stop-opacity="0.338"/><stop offset="0.175" stop-color="#000" stop-opacity="0.161"/><stop offset="0.200" stop-color="#000" stop-opacity="0.000"/></radialGradient><radialGradient id="r47"><stop offset="0.000" stop-color="#f00" stop-opacity="0.500"/><stop offset="0.025" stop-color="#f00" stop-opacity="0.494"/><stop offset="0.050" stop-color="#f00" stop-opacity="0.478"/><stop offset="0.075" stop-color="#f00" stop-opacity="0.451"/><stop offset="0.100" stop-color="#f00" stop-opacity="0.417"/><stop offset="0.125" stop-color="#f00" stop-opacity="0.377"/><stop offset="0.150" stop-color="#f00" stop-opacity="0.333"/><stop offset="0.175" stop-color="#f00" stop-opacity="0.289"/><stop offset="0.200" stop-color="#f00" stop-opacity="0.245"/><stop offset="0.225" stop-color="#f00" stop-opacity="0.205"/><stop offset="0.250" stop-color="#f00" stop-opacity="0.168"/><stop offset="0.275" stop-color="#f00" stop-opacity="0.136"/><stop offset="0.300" stop-color="#f00" stop-opacity="0.109"/><stop offset="0.325" stop-color="#f00" stop-opacity="0.086"/><stop offset="0.350" stop-color="#f00" stop-opacity="0.068"/><stop offset="0.375" stop-color="#f00" stop-opacity="0.054"/><stop offset="0.400" stop-color="#f00" stop-opacity="0.043"/><stop offset="0.425" stop-color="#f00" stop-opacity="0.035"/><stop offset="0.450" stop-color="#f00" stop-opacity="0.028"/><stop offset="0.475" stop-color="#f00" stop-opacity="0.023"/><stop offset="0.500" stop-color="#f00" stop-opacity="0.019"/><stop offset="0.525" stop-color="#f00" stop-opacity="0.016"/><stop offset="0.550" stop-color="#f00" stop-opacity="0.014"/><stop offset="0.575" stop-color="#f00" stop-opacity="0.012"/><stop offset="0.600" stop-color="#f00" stop-opacity="0.010"/><stop offset="0.625" stop-color="#f00" stop-opacity="0.009"/><stop offset="0.650" stop-color="#f00" stop-opacity="0.008"/><stop offset="0.675" stop-color="#f00" stop-opacity="0.006"/><stop offset="0.700" stop-color="#f00" stop-opacity="0.006"/><stop offset="0.725" stop-color="#f00" stop-opacity="0.005"/><stop offset="0.750" stop-color="#f00" stop-opacity="0.004"/><stop offset="0.775" stop-color="#f00" stop-opacity="0.003"/><stop offset="0.800" stop-color="#f00" stop-opacity="0.003"/><stop offset="0.825" stop-color="#f00" stop-opacity="0.002"/><stop offset="0.850" stop-color="#f00" stop-opacity="0.002"/><stop offset="0.875" stop-color="#f00" stop-opacity="0.002"/><stop offset="0.900" stop-color="#f00" stop-opacity="0.001"/><stop offset="0.925" stop-color="#f00" stop-opacity="0.001"/><stop offset="0.950" stop-color="#f00" stop-opacity="0.001"/><stop offset="0.975" stop-color="#f00" stop-opacity="0.001"/><stop offset="1.000" stop-color="#f00" stop-opacity="0.000"/></radialGradient><radialGradient id="r48"><stop offset="0.000" stop-color="#f00" stop-opacity="1.000"/><stop offset="0.025" stop-color="#f00" stop-opacity="1.000"/><stop offset="0.050" stop-color="#f00" stop-opacity="1.000"/><stop offset="0.075" stop-color="#f00" stop-opacity="1.000"/><stop offset="0.100" stop-color="#f00" stop-opacity="1.000"/><stop offset="0.125" stop-color="#f00" stop-opacity="1.000"/><stop offset="0.150" stop-color="#f00" stop-opacity="1.000"/><stop offset="0.175" stop-color="#f00" stop-opacity="1.000"/><stop offset="0.200" stop-color="#f00" stop-opacity="0.860"/><stop offset="0.225" stop-color="#f00" stop-opacity="0.725"/><stop offset="0.250" stop-color="#f00" stop-opacity="0.603"/><stop offset="0.275" stop-color="#f00" stop-opacity="0.495"/><stop offset="0.300" stop-color="#f00" stop-opacity="0.404"/><stop offset="0.325" stop-color="#f00" stop-opacity="0.328"/><stop offset="0.350" stop-color="#f00" stop-opacity="0.266"/><stop offset="0.375" stop-color="#f00" stop-opacity="0.216"/><stop offset="0.400" stop-color="#f00" stop-opacity="0.177"/><stop offset="0.425" stop-color="#f00" stop-opacity="0.146"/><stop offset="0.450" stop-color="#f00" stop-opacity="0.122"/><stop offset="0.475" stop-color="#f00" stop-opacity="0.103"/><stop offset="0.500" stop-color="#f00" stop-opacity="0.088"/><stop offset="0.525" stop-color="#f00" stop-opacity="0.075"/><stop offset="0.550" stop-color="#f00" stop-opacity="0.065"/><stop offset="0.575" stop-color="#f00" stop-opacity="0.056"/><stop offset="0.600" stop-color="#f00" stop-opacity="0.048"/><stop offset="0.625" stop-color="#f00" stop-opacity="0.042"/><stop offset="0.650" stop-color="#f00" stop-opacity="0.036"/><stop offset="0.675" stop-color="#f00" stop-opacity="0.031"/><stop offset="0.700" stop-color="#f00" stop-opacity="0.026"/><stop offset="0.725" stop-color="#f00" stop-opacity="0.022"/><stop offset="0.750" stop-color="#f00" stop-opacity="0.019"/><stop offset="0.775" stop-color="#f00" stop-opacity="0.016"/><stop offset="0.800" stop-color="#f00" stop-opacity="0.013"/><stop offset="0.825" stop-color="#f00" stop-opacity="0.011"/><stop offset="0.850" stop-color="#f00" stop-opacity="0.009"/><stop offset="0.875" stop-color="#f00" stop-opacity="0.008"/><stop offset="0.900" stop-color="#f00" stop-opacity="0.006"/><stop offset="0.925" stop-color="#f00" stop-opacity="0.005"/><stop offset="0.950" stop-color="#f00" stop-opacity="0.004"/><stop offset="0.975" stop-color="#f00" stop-opacity="0.003"/><stop offset="1.000" stop-color="#f00" stop-opacity="0.000"/></radialGradient><radialGradient id="k48"><stop offset="0.000" stop-color="#000" stop-opacity="0.700"/><stop offset="0.025" stop-color="#000" stop-opacity="0.681"/><stop offset="0.050" stop-color="#000" stop-opacity="0.627"/><stop offset="0.075" stop-color="#000" stop-opacity="0.540"/><stop offset="0.100" stop-color="#000" stop-opacity="0.426"/><stop offset="0.125" stop-color="#000" stop-opacity="0.294"/><stop offset="0.150" stop-color="#000" stop-opacity="0.151"/><stop offset="0.175" stop-color="#000" stop-opacity="0.004"/><stop offset="0.200" stop-color="#000" stop-opacity="0.000"/></radialGradient><linearGradient id="cb" x1="0" y1="1" x2="0" y2="0"><stop offset="0" stop-color="#fff"/><stop offset="0.5" stop-color="#f00"/><stop offset="1" stop-color="#000"/></linearGradient><clipPath id="cpc"><rect x="76.40" y="249.80" width="241.20" height="163.60"/></clipPath><clipPath id="cpd"><rect x="367.50" y="249.80" width="241.10" height="163.60"/></clipPath></defs>
<g clip-path="url(#ca0)"><g filter="url(#bl)"><ellipse cx="88.10" cy="80.42" rx="22.68" ry="18.90" fill="url(#r0)"/><ellipse cx="86.50" cy="99.92" rx="23.94" ry="15.12" fill="url(#r0)"/><ellipse cx="87.60" cy="87.12" rx="25.20" ry="26.46" fill="url(#r1)"/><ellipse cx="88.10" cy="80.42" rx="22.68" ry="18.90" fill="url(#k0)"/><ellipse cx="86.50" cy="99.92" rx="23.94" ry="15.12" fill="url(#k0)"/></g></g>
<g clip-path="url(#cb0)"><g filter="url(#bl)"><ellipse cx="87.30" cy="147.00" rx="23.94" ry="20.16" fill="url(#r0)"/><ellipse cx="87.30" cy="166.40" rx="23.94" ry="18.90" fill="url(#r0)"/><ellipse cx="87.30" cy="153.60" rx="21.42" ry="25.20" fill="url(#r2)"/><ellipse cx="87.30" cy="147.00" rx="23.94" ry="20.16" fill="url(#k0)"/><ellipse cx="87.30" cy="166.40" rx="23.94" ry="18.90" fill="url(#k0)"/></g></g>
<g clip-path="url(#ca1)"><g filter="url(#bl)"><ellipse cx="121.72" cy="81.22" rx="22.68" ry="18.27" fill="url(#r0)"/><ellipse cx="120.42" cy="99.22" rx="23.94" ry="15.12" fill="url(#r0)"/><ellipse cx="121.42" cy="87.62" rx="23.94" ry="22.68" fill="url(#r2)"/><ellipse cx="121.72" cy="81.22" rx="22.68" ry="18.27" fill="url(#k0)"/><ellipse cx="120.42" cy="99.22" rx="23.94" ry="15.12" fill="url(#k0)"/></g></g>
<g clip-path="url(#cb1)"><g filter="url(#bl)"><ellipse cx="121.32" cy="147.90" rx="22.68" ry="18.27" fill="url(#r0)"/><ellipse cx="121.32" cy="165.70" rx="23.31" ry="16.38" fill="url(#r0)"/><ellipse cx="121.32" cy="153.60" rx="20.16" ry="22.05" fill="url(#r3)"/><ellipse cx="121.32" cy="147.90" rx="22.68" ry="18.27" fill="url(#k0)"/><ellipse cx="121.32" cy="165.70" rx="23.31" ry="16.38" fill="url(#k0)"/></g></g>
<g clip-path="url(#ca2)"><g filter="url(#bl)"><ellipse cx="155.44" cy="81.42" rx="20.79" ry="16.93" fill="url(#r4)"/><ellipse cx="154.24" cy="98.62" rx="22.68" ry="13.23" fill="url(#r5)"/><ellipse cx="155.04" cy="86.82" rx="18.90" ry="17.64" fill="url(#r6)"/><ellipse cx="155.44" cy="81.42" rx="20.79" ry="16.93" fill="url(#k4)"/><ellipse cx="154.24" cy="98.62" rx="22.68" ry="13.23" fill="url(#k5)"/></g></g>
<g clip-path="url(#cb2)"><g filter="url(#bl)"><ellipse cx="154.84" cy="148.50" rx="21.42" ry="16.38" fill="url(#r7)"/><ellipse cx="154.84" cy="164.80" rx="22.68" ry="15.12" fill="url(#r7)"/><ellipse cx="154.84" cy="153.60" rx="18.90" ry="18.35" fill="url(#r8)"/><ellipse cx="154.84" cy="148.50" rx="21.42" ry="16.38" fill="url(#k7)"/><ellipse cx="154.84" cy="164.80" rx="22.68" ry="15.12" fill="url(#k7)"/><ellipse cx="154.84" cy="153.60" rx="18.90" ry="18.35" fill="url(#k8)"/></g></g>
<g clip-path="url(#ca3)"><g filter="url(#bl)"><ellipse cx="189.06" cy="82.12" rx="18.90" ry="14.11" fill="url(#r9)"/><ellipse cx="188.36" cy="87.52" rx="18.27" ry="14.11" fill="url(#r10)"/><ellipse cx="187.96" cy="97.82" rx="20.79" ry="13.41" fill="url(#r11)"/><ellipse cx="189.06" cy="82.12" rx="18.90" ry="14.11" fill="url(#k9)"/><ellipse cx="188.36" cy="87.52" rx="18.27" ry="14.11" fill="url(#k10)"/><ellipse cx="187.96" cy="97.82" rx="20.79" ry="13.41" fill="url(#k11)"/></g></g>
<g clip-path="url(#cb3)"><g filter="url(#bl)"><ellipse cx="188.96" cy="149.20" rx="19.53" ry="14.82" fill="url(#r11)"/><ellipse cx="188.96" cy="154.40" rx="19.53" ry="16.93" fill="url(#r12)"/><ellipse cx="188.96" cy="163.50" rx="21.42" ry="14.11" fill="url(#r11)"/><ellipse cx="188.96" cy="149.20" rx="19.53" ry="14.82" fill="url(#k11)"/><ellipse cx="188.96" cy="154.40" rx="19.53" ry="16.93" fill="url(#k12)"/><ellipse cx="188.96" cy="163.50" rx="21.42" ry="14.11" fill="url(#k11)"/></g></g>
<g clip-path="url(#ca4)"><g filter="url(#bl)"><ellipse cx="223.58" cy="83.32" rx="18.27" ry="12.70" fill="url(#r13)"/><ellipse cx="222.88" cy="88.72" rx="18.27" ry="12.00" fill="url(#r14)"/><ellipse cx="221.68" cy="96.52" rx="19.53" ry="12.00" fill="url(#r15)"/><ellipse cx="223.58" cy="83.32" rx="18.27" ry="12.70" fill="url(#k13)"/><ellipse cx="222.88" cy="88.72" rx="18.27" ry="12.00" fill="url(#k14)"/><ellipse cx="221.68" cy="96.52" rx="19.53" ry="12.00" fill="url(#k15)"/></g></g>
<g clip-path="url(#cb4)"><g filter="url(#bl)"><ellipse cx="222.38" cy="150.50" rx="20.16" ry="14.82" fill="url(#r16)"/><ellipse cx="222.38" cy="155.50" rx="19.53" ry="14.11" fill="url(#r17)"/><ellipse cx="222.38" cy="162.80" rx="21.42" ry="14.11" fill="url(#r15)"/><ellipse cx="222.38" cy="150.50" rx="20.16" ry="14.82" fill="url(#k16)"/><ellipse cx="222.38" cy="155.50" rx="19.53" ry="14.11" fill="url(#k17)"/><ellipse cx="222.38" cy="162.80" rx="21.42" ry="14.11" fill="url(#k15)"/></g></g>
<g clip-path="url(#ca5)"><g filter="url(#bl)"><ellipse cx="256.60" cy="84.62" rx="18.90" ry="14.82" fill="url(#r18)"/><ellipse cx="256.10" cy="90.02" rx="18.90" ry="9.17" fill="url(#r19)"/><ellipse cx="256.10" cy="95.82" rx="19.53" ry="10.58" fill="url(#r20)"/><ellipse cx="256.60" cy="84.62" rx="18.90" ry="14.82" fill="url(#k18)"/><ellipse cx="256.10" cy="90.02" rx="18.90" ry="9.17" fill="url(#k19)"/><ellipse cx="256.10" cy="95.82" rx="19.53" ry="10.58" fill="url(#k20)"/></g></g>
<g clip-path="url(#cb5)"><g filter="url(#bl)"><ellipse cx="256.10" cy="150.90" rx="19.53" ry="12.00" fill="url(#r21)"/><ellipse cx="256.10" cy="156.40" rx="20.16" ry="9.17" fill="url(#r19)"/><ellipse cx="256.10" cy="162.30" rx="20.79" ry="11.29" fill="url(#r22)"/><ellipse cx="256.10" cy="150.90" rx="19.53" ry="12.00" fill="url(#k21)"/><ellipse cx="256.10" cy="156.40" rx="20.16" ry="9.17" fill="url(#k19)"/><ellipse cx="256.10" cy="162.30" rx="20.79" ry="11.29" fill="url(#k22)"/></g></g>
<g clip-path="url(#ca6)"><g filter="url(#bl)"><ellipse cx="290.22" cy="84.62" rx="15.75" ry="7.76" fill="url(#r23)"/><ellipse cx="290.22" cy="89.92" rx="18.90" ry="7.76" fill="url(#r24)"/><ellipse cx="290.22" cy="95.12" rx="16.38" ry="8.47" fill="url(#r25)"/><ellipse cx="290.22" cy="89.92" rx="18.90" ry="7.76" fill="url(#k24)"/></g></g>
<g clip-path="url(#cb6)"><g filter="url(#bl)"><ellipse cx="290.22" cy="151.30" rx="16.38" ry="7.76" fill="url(#r26)"/><ellipse cx="290.22" cy="156.40" rx="18.90" ry="7.06" fill="url(#r24)"/><ellipse cx="290.22" cy="161.60" rx="17.01" ry="8.47" fill="url(#r27)"/><ellipse cx="290.22" cy="156.40" rx="18.90" ry="7.06" fill="url(#k24)"/></g></g>
<g clip-path="url(#ca7)"><g filter="url(#bl)"><ellipse cx="324.14" cy="85.12" rx="15.12" ry="7.06" fill="url(#r28)"/><ellipse cx="324.14" cy="89.62" rx="19.53" ry="7.06" fill="url(#r24)"/><ellipse cx="324.14" cy="94.42" rx="15.75" ry="7.06" fill="url(#r29)"/><ellipse cx="324.14" cy="89.62" rx="19.53" ry="7.06" fill="url(#k24)"/></g></g>
<g clip-path="url(#cb7)"><g filter="url(#bl)"><ellipse cx="324.14" cy="151.70" rx="15.75" ry="7.06" fill="url(#r28)"/><ellipse cx="324.14" cy="156.60" rx="19.53" ry="7.06" fill="url(#r24)"/><ellipse cx="324.14" cy="161.20" rx="16.38" ry="7.06" fill="url(#r30)"/><ellipse cx="324.14" cy="156.60" rx="19.53" ry="7.06" fill="url(#k24)"/></g></g>
<g clip-path="url(#ca8)"><g filter="url(#bl)"><ellipse cx="357.76" cy="85.12" rx="15.12" ry="7.06" fill="url(#r28)"/><ellipse cx="357.76" cy="89.62" rx="19.53" ry="7.06" fill="url(#r24)"/><ellipse cx="357.76" cy="94.42" rx="15.75" ry="7.06" fill="url(#r29)"/><ellipse cx="357.76" cy="89.62" rx="19.53" ry="7.06" fill="url(#k24)"/></g></g>
<g clip-path="url(#cb8)"><g filter="url(#bl)"><ellipse cx="357.76" cy="151.70" rx="15.75" ry="7.06" fill="url(#r28)"/><ellipse cx="357.76" cy="156.60" rx="19.53" ry="7.06" fill="url(#r24)"/><ellipse cx="357.76" cy="161.20" rx="16.38" ry="7.06" fill="url(#r30)"/><ellipse cx="357.76" cy="156.60" rx="19.53" ry="7.06" fill="url(#k24)"/></g></g>
<g clip-path="url(#ca9)"><g filter="url(#bl)"><ellipse cx="391.58" cy="84.32" rx="15.75" ry="7.76" fill="url(#r31)"/><ellipse cx="391.58" cy="89.12" rx="18.90" ry="7.76" fill="url(#r24)"/><ellipse cx="391.58" cy="94.52" rx="15.75" ry="8.47" fill="url(#r25)"/><ellipse cx="391.58" cy="89.12" rx="18.90" ry="7.76" fill="url(#k24)"/></g></g>
<g clip-path="url(#cb9)"><g filter="url(#bl)"><ellipse cx="391.48" cy="151.60" rx="15.75" ry="7.76" fill="url(#r32)"/><ellipse cx="391.48" cy="156.50" rx="18.90" ry="7.76" fill="url(#r24)"/><ellipse cx="391.48" cy="161.00" rx="16.38" ry="7.76" fill="url(#r25)"/><ellipse cx="391.48" cy="156.50" rx="18.90" ry="7.76" fill="url(#k24)"/></g></g>
<g clip-path="url(#ca10)"><g filter="url(#bl)"><ellipse cx="425.50" cy="83.22" rx="17.01" ry="10.58" fill="url(#r33)"/><ellipse cx="425.50" cy="89.12" rx="18.27" ry="9.17" fill="url(#r19)"/><ellipse cx="425.50" cy="95.02" rx="18.27" ry="10.58" fill="url(#r20)"/><ellipse cx="425.50" cy="83.22" rx="17.01" ry="10.58" fill="url(#k33)"/><ellipse cx="425.50" cy="89.12" rx="18.27" ry="9.17" fill="url(#k19)"/><ellipse cx="425.50" cy="95.02" rx="18.27" ry="10.58" fill="url(#k20)"/></g></g>
<g clip-path="url(#cb10)"><g filter="url(#bl)"><ellipse cx="425.40" cy="150.80" rx="18.90" ry="11.29" fill="url(#r34)"/><ellipse cx="425.40" cy="156.50" rx="20.16" ry="9.88" fill="url(#r19)"/><ellipse cx="425.40" cy="162.10" rx="20.16" ry="11.29" fill="url(#r35)"/><ellipse cx="425.40" cy="150.80" rx="18.90" ry="11.29" fill="url(#k34)"/><ellipse cx="425.40" cy="156.50" rx="20.16" ry="9.88" fill="url(#k19)"/><ellipse cx="425.40" cy="162.10" rx="20.16" ry="11.29" fill="url(#k35)"/></g></g>
<g clip-path="url(#ca11)"><g filter="url(#bl)"><ellipse cx="459.12" cy="82.12" rx="18.27" ry="12.00" fill="url(#r16)"/><ellipse cx="459.12" cy="88.72" rx="17.01" ry="11.29" fill="url(#r36)"/><ellipse cx="458.82" cy="96.12" rx="20.16" ry="13.41" fill="url(#r37)"/><ellipse cx="459.12" cy="82.12" rx="18.27" ry="12.00" fill="url(#k16)"/><ellipse cx="459.12" cy="88.72" rx="17.01" ry="11.29" fill="url(#k36)"/><ellipse cx="458.82" cy="96.12" rx="20.16" ry="13.41" fill="url(#k37)"/></g></g>
<g clip-path="url(#cb11)"><g filter="url(#bl)"><ellipse cx="459.02" cy="150.60" rx="20.79" ry="14.82" fill="url(#r38)"/><ellipse cx="459.02" cy="155.40" rx="20.16" ry="14.11" fill="url(#r16)"/><ellipse cx="459.02" cy="163.10" rx="22.05" ry="14.11" fill="url(#r15)"/><ellipse cx="459.02" cy="150.60" rx="20.79" ry="14.82" fill="url(#k38)"/><ellipse cx="459.02" cy="155.40" rx="20.16" ry="14.11" fill="url(#k16)"/><ellipse cx="459.02" cy="163.10" rx="22.05" ry="14.11" fill="url(#k15)"/></g></g>
<g clip-path="url(#ca12)"><g filter="url(#bl)"><ellipse cx="492.94" cy="80.82" rx="21.42" ry="14.49" fill="url(#r39)"/><ellipse cx="492.94" cy="88.32" rx="22.68" ry="22.05" fill="url(#r40)"/><ellipse cx="492.34" cy="97.82" rx="22.68" ry="14.49" fill="url(#r41)"/><ellipse cx="492.94" cy="80.82" rx="21.42" ry="14.49" fill="url(#k39)"/><ellipse cx="492.34" cy="97.82" rx="22.68" ry="14.49" fill="url(#k41)"/></g></g>
<g clip-path="url(#cb12)"><g filter="url(#bl)"><ellipse cx="492.84" cy="148.50" rx="22.05" ry="17.01" fill="url(#r7)"/><ellipse cx="492.84" cy="165.30" rx="22.68" ry="15.75" fill="url(#r7)"/><ellipse cx="492.84" cy="153.60" rx="18.90" ry="21.17" fill="url(#r42)"/><ellipse cx="492.84" cy="148.50" rx="22.05" ry="17.01" fill="url(#k7)"/><ellipse cx="492.84" cy="165.30" rx="22.68" ry="15.75" fill="url(#k7)"/></g></g>
<g clip-path="url(#ca13)"><g filter="url(#bl)"><ellipse cx="526.96" cy="78.82" rx="24.57" ry="16.38" fill="url(#r43)"/><ellipse cx="526.76" cy="89.12" rx="22.68" ry="37.80" fill="url(#r44)"/><ellipse cx="526.16" cy="99.22" rx="25.83" ry="18.27" fill="url(#r45)"/><ellipse cx="526.96" cy="78.82" rx="24.57" ry="16.38" fill="url(#k43)"/><ellipse cx="526.16" cy="99.22" rx="25.83" ry="18.27" fill="url(#k45)"/></g></g>
<g clip-path="url(#cb13)"><g filter="url(#bl)"><ellipse cx="526.86" cy="146.40" rx="24.57" ry="20.79" fill="url(#r46)"/><ellipse cx="526.86" cy="166.70" rx="25.20" ry="19.53" fill="url(#r46)"/><ellipse cx="526.86" cy="153.60" rx="20.16" ry="28.35" fill="url(#r47)"/><ellipse cx="526.86" cy="146.40" rx="24.57" ry="20.79" fill="url(#k46)"/><ellipse cx="526.86" cy="166.70" rx="25.20" ry="19.53" fill="url(#k46)"/></g></g>
<g clip-path="url(#ca14)"><g filter="url(#bl)"><ellipse cx="560.18" cy="76.82" rx="26.46" ry="17.01" fill="url(#r48)"/><ellipse cx="560.08" cy="89.12" rx="23.94" ry="47.25" fill="url(#r44)"/><ellipse cx="558.78" cy="101.72" rx="28.35" ry="22.05" fill="url(#r41)"/><ellipse cx="560.18" cy="76.82" rx="26.46" ry="17.01" fill="url(#k48)"/><ellipse cx="558.78" cy="101.72" rx="28.35" ry="22.05" fill="url(#k41)"/></g></g>
<g clip-path="url(#cb14)"><g filter="url(#bl)"><ellipse cx="560.08" cy="144.40" rx="28.35" ry="25.20" fill="url(#r46)"/><ellipse cx="560.08" cy="169.30" rx="29.61" ry="23.94" fill="url(#r46)"/><ellipse cx="560.08" cy="156.60" rx="23.94" ry="40.95" fill="url(#r44)"/><ellipse cx="560.08" cy="144.40" rx="28.35" ry="25.20" fill="url(#k46)"/><ellipse cx="560.08" cy="169.30" rx="29.61" ry="23.94" fill="url(#k46)"/></g></g>
<rect x="73.60" y="62.47" width="28.10" height="55.30" fill="none" stroke="#000" stroke-width="1.35" stroke-linejoin="round"/>
<rect x="73.60" y="129.35" width="28.10" height="55.30" fill="none" stroke="#000" stroke-width="1.5" stroke-dasharray="1.5 3.25"/>
<rect x="107.38" y="62.47" width="28.10" height="55.30" fill="none" stroke="#000" stroke-width="1.35" stroke-linejoin="round"/>
<rect x="107.38" y="129.35" width="28.10" height="55.30" fill="none" stroke="#000" stroke-width="1.5" stroke-dasharray="1.5 3.25"/>
<rect x="141.16" y="62.47" width="28.10" height="55.30" fill="none" stroke="#000" stroke-width="1.35" stroke-linejoin="round"/>
<rect x="141.16" y="129.35" width="28.10" height="55.30" fill="none" stroke="#000" stroke-width="1.5" stroke-dasharray="1.5 3.25"/>
<rect x="174.94" y="62.47" width="28.10" height="55.30" fill="none" stroke="#000" stroke-width="1.35" stroke-linejoin="round"/>
<rect x="174.94" y="129.35" width="28.10" height="55.30" fill="none" stroke="#000" stroke-width="1.5" stroke-dasharray="1.5 3.25"/>
<rect x="208.72" y="62.47" width="28.10" height="55.30" fill="none" stroke="#000" stroke-width="1.35" stroke-linejoin="round"/>
<rect x="208.72" y="129.35" width="28.10" height="55.30" fill="none" stroke="#000" stroke-width="1.5" stroke-dasharray="1.5 3.25"/>
<rect x="242.50" y="62.47" width="28.10" height="55.30" fill="none" stroke="#000" stroke-width="1.35" stroke-linejoin="round"/>
<rect x="242.50" y="129.35" width="28.10" height="55.30" fill="none" stroke="#000" stroke-width="1.5" stroke-dasharray="1.5 3.25"/>
<rect x="276.28" y="62.47" width="28.10" height="55.30" fill="none" stroke="#000" stroke-width="1.35" stroke-linejoin="round"/>
<rect x="276.28" y="129.35" width="28.10" height="55.30" fill="none" stroke="#000" stroke-width="1.5" stroke-dasharray="1.5 3.25"/>
<rect x="310.06" y="62.47" width="28.10" height="55.30" fill="none" stroke="#000" stroke-width="1.35" stroke-linejoin="round"/>
<rect x="310.06" y="129.35" width="28.10" height="55.30" fill="none" stroke="#000" stroke-width="1.5" stroke-dasharray="1.5 3.25"/>
<rect x="343.84" y="62.47" width="28.10" height="55.30" fill="none" stroke="#000" stroke-width="1.35" stroke-linejoin="round"/>
<rect x="343.84" y="129.35" width="28.10" height="55.30" fill="none" stroke="#000" stroke-width="1.5" stroke-dasharray="1.5 3.25"/>
<rect x="377.62" y="62.47" width="28.10" height="55.30" fill="none" stroke="#000" stroke-width="1.35" stroke-linejoin="round"/>
<rect x="377.62" y="129.35" width="28.10" height="55.30" fill="none" stroke="#000" stroke-width="1.5" stroke-dasharray="1.5 3.25"/>
<rect x="411.40" y="62.47" width="28.10" height="55.30" fill="none" stroke="#000" stroke-width="1.35" stroke-linejoin="round"/>
<rect x="411.40" y="129.35" width="28.10" height="55.30" fill="none" stroke="#000" stroke-width="1.5" stroke-dasharray="1.5 3.25"/>
<rect x="445.18" y="62.47" width="28.10" height="55.30" fill="none" stroke="#000" stroke-width="1.35" stroke-linejoin="round"/>
<rect x="445.18" y="129.35" width="28.10" height="55.30" fill="none" stroke="#000" stroke-width="1.5" stroke-dasharray="1.5 3.25"/>
<rect x="478.96" y="62.47" width="28.10" height="55.30" fill="none" stroke="#000" stroke-width="1.35" stroke-linejoin="round"/>
<rect x="478.96" y="129.35" width="28.10" height="55.30" fill="none" stroke="#000" stroke-width="1.5" stroke-dasharray="1.5 3.25"/>
<rect x="512.74" y="62.47" width="28.10" height="55.30" fill="none" stroke="#000" stroke-width="1.35" stroke-linejoin="round"/>
<rect x="512.74" y="129.35" width="28.10" height="55.30" fill="none" stroke="#000" stroke-width="1.5" stroke-dasharray="1.5 3.25"/>
<rect x="546.52" y="62.47" width="28.10" height="55.30" fill="none" stroke="#000" stroke-width="1.35" stroke-linejoin="round"/>
<rect x="546.52" y="129.35" width="28.10" height="55.30" fill="none" stroke="#000" stroke-width="1.5" stroke-dasharray="1.5 3.25"/>
<line x1="73.60" y1="67.92" x2="77.40" y2="67.92" stroke="#333" stroke-width="0.85"/>
<line x1="97.90" y1="67.92" x2="101.70" y2="67.92" stroke="#333" stroke-width="0.85"/>
<line x1="73.60" y1="79.02" x2="77.40" y2="79.02" stroke="#333" stroke-width="0.85"/>
<line x1="97.90" y1="79.02" x2="101.70" y2="79.02" stroke="#333" stroke-width="0.85"/>
<line x1="73.60" y1="90.12" x2="77.40" y2="90.12" stroke="#333" stroke-width="0.85"/>
<line x1="97.90" y1="90.12" x2="101.70" y2="90.12" stroke="#333" stroke-width="0.85"/>
<line x1="73.60" y1="101.22" x2="77.40" y2="101.22" stroke="#333" stroke-width="0.85"/>
<line x1="97.90" y1="101.22" x2="101.70" y2="101.22" stroke="#333" stroke-width="0.85"/>
<line x1="73.60" y1="112.32" x2="77.40" y2="112.32" stroke="#333" stroke-width="0.85"/>
<line x1="97.90" y1="112.32" x2="101.70" y2="112.32" stroke="#333" stroke-width="0.85"/>
<line x1="73.60" y1="134.80" x2="77.40" y2="134.80" stroke="#2a2a2a" stroke-width="0.85"/>
<line x1="97.90" y1="134.80" x2="101.70" y2="134.80" stroke="#2a2a2a" stroke-width="0.85"/>
<line x1="73.60" y1="145.90" x2="77.40" y2="145.90" stroke="#2a2a2a" stroke-width="0.85"/>
<line x1="97.90" y1="145.90" x2="101.70" y2="145.90" stroke="#2a2a2a" stroke-width="0.85"/>
<line x1="73.60" y1="157.00" x2="77.40" y2="157.00" stroke="#2a2a2a" stroke-width="0.85"/>
<line x1="97.90" y1="157.00" x2="101.70" y2="157.00" stroke="#2a2a2a" stroke-width="0.85"/>
<line x1="73.60" y1="168.10" x2="77.40" y2="168.10" stroke="#2a2a2a" stroke-width="0.85"/>
<line x1="97.90" y1="168.10" x2="101.70" y2="168.10" stroke="#2a2a2a" stroke-width="0.85"/>
<line x1="73.60" y1="179.20" x2="77.40" y2="179.20" stroke="#2a2a2a" stroke-width="0.85"/>
<line x1="97.90" y1="179.20" x2="101.70" y2="179.20" stroke="#2a2a2a" stroke-width="0.85"/>
<line x1="76.55" y1="129.35" x2="76.55" y2="133.15" stroke="#2a2a2a" stroke-width="0.85"/>
<line x1="76.55" y1="180.85" x2="76.55" y2="184.65" stroke="#2a2a2a" stroke-width="0.85"/>
<line x1="98.75" y1="129.35" x2="98.75" y2="133.15" stroke="#2a2a2a" stroke-width="0.85"/>
<line x1="98.75" y1="180.85" x2="98.75" y2="184.65" stroke="#2a2a2a" stroke-width="0.85"/>
<g font-family='"Liberation Serif", serif' fill="#000">
<text x="55.10" y="72.12" font-size="14.50" textLength="14.50" lengthAdjust="spacingAndGlyphs">80</text>
<text x="55.10" y="83.22" font-size="14.50" textLength="14.50" lengthAdjust="spacingAndGlyphs">40</text>
<text x="62.35" y="94.32" font-size="14.50" textLength="7.25" lengthAdjust="spacingAndGlyphs">0</text>
<rect x="45.02" y="101.43" width="8.86" height="0.80" fill="#000"/><text x="55.10" y="105.42" font-size="14.50" textLength="14.50" lengthAdjust="spacingAndGlyphs">40</text>
<rect x="45.02" y="112.53" width="8.86" height="0.80" fill="#000"/><text x="55.10" y="116.52" font-size="14.50" textLength="14.50" lengthAdjust="spacingAndGlyphs">80</text>
<text x="55.10" y="139.00" font-size="14.50" textLength="14.50" lengthAdjust="spacingAndGlyphs">80</text>
<text x="55.10" y="150.10" font-size="14.50" textLength="14.50" lengthAdjust="spacingAndGlyphs">40</text>
<text x="62.35" y="161.20" font-size="14.50" textLength="7.25" lengthAdjust="spacingAndGlyphs">0</text>
<rect x="45.02" y="168.31" width="8.86" height="0.80" fill="#000"/><text x="55.10" y="172.30" font-size="14.50" textLength="14.50" lengthAdjust="spacingAndGlyphs">40</text>
<rect x="45.02" y="179.41" width="8.86" height="0.80" fill="#000"/><text x="55.10" y="183.40" font-size="14.50" textLength="14.50" lengthAdjust="spacingAndGlyphs">80</text>
<rect x="64.86" y="195.81" width="8.86" height="0.80" fill="#000"/><text x="74.94" y="199.80" font-size="14.50" textLength="14.50" lengthAdjust="spacingAndGlyphs">40</text>
<text x="91.50" y="199.80" font-size="14.50" textLength="14.50" lengthAdjust="spacingAndGlyphs">40</text>
</g>
<text x="67.6" y="218.6" font-family='"Liberation Serif", serif' font-size="14.5" font-style="italic" textLength="7.2" lengthAdjust="spacingAndGlyphs">x</text>
<text x="82.0" y="218.6" font-family='"Liberation Serif", serif' font-size="14" textLength="25.8" lengthAdjust="spacingAndGlyphs">[μm]</text>
<g transform="translate(34.8,90.12) rotate(-90)" font-family='"Liberation Serif", serif'><text x="-20.2" y="0" font-size="14" font-style="italic">y</text><text x="-8.0" y="0" font-size="13" textLength="27.1" lengthAdjust="spacingAndGlyphs">[μm]</text></g>
<g transform="translate(34.8,157.00) rotate(-90)" font-family='"Liberation Serif", serif'><text x="-20.2" y="0" font-size="14" font-style="italic">y</text><text x="-8.0" y="0" font-size="13" textLength="27.1" lengthAdjust="spacingAndGlyphs">[μm]</text></g>
<text x="-1.6" y="91.2" font-family='"Liberation Sans", sans-serif' font-size="15">(a)</text>
<text x="-1.6" y="157.8" font-family='"Liberation Sans", sans-serif' font-size="15">(b)</text>
<g transform="translate(88.35,55.70) rotate(-45)" font-family='"Liberation Serif", serif'><rect x="1.33" y="-4.40" width="9.78" height="0.80" fill="#000"/><text x="12.45" y="0.00" font-size="16.00" textLength="28.45" lengthAdjust="spacingAndGlyphs">1.20</text><text x="43.90" y="0" font-size="16.00" stroke="#000" stroke-width="0.12" textLength="28.6" lengthAdjust="spacingAndGlyphs">mm</text></g>
<g transform="translate(122.13,55.70) rotate(-45)" font-family='"Liberation Serif", serif'><rect x="1.33" y="-4.40" width="9.78" height="0.80" fill="#000"/><text x="12.45" y="0.00" font-size="16.00" textLength="28.45" lengthAdjust="spacingAndGlyphs">1.09</text><text x="43.90" y="0" font-size="16.00" stroke="#000" stroke-width="0.12" textLength="28.6" lengthAdjust="spacingAndGlyphs">mm</text></g>
<g transform="translate(155.91,55.70) rotate(-45)" font-family='"Liberation Serif", serif'><rect x="1.33" y="-4.40" width="9.78" height="0.80" fill="#000"/><text x="12.45" y="0.00" font-size="16.00" textLength="28.45" lengthAdjust="spacingAndGlyphs">0.96</text><text x="43.90" y="0" font-size="16.00" stroke="#000" stroke-width="0.12" textLength="28.6" lengthAdjust="spacingAndGlyphs">mm</text></g>
<g transform="translate(189.69,55.70) rotate(-45)" font-family='"Liberation Serif", serif'><rect x="1.33" y="-4.40" width="9.78" height="0.80" fill="#000"/><text x="12.45" y="0.00" font-size="16.00" textLength="28.45" lengthAdjust="spacingAndGlyphs">0.83</text><text x="43.90" y="0" font-size="16.00" stroke="#000" stroke-width="0.12" textLength="28.6" lengthAdjust="spacingAndGlyphs">mm</text></g>
<g transform="translate(223.47,55.70) rotate(-45)" font-family='"Liberation Serif", serif'><rect x="1.33" y="-4.40" width="9.78" height="0.80" fill="#000"/><text x="12.45" y="0.00" font-size="16.00" textLength="28.45" lengthAdjust="spacingAndGlyphs">0.69</text><text x="43.90" y="0" font-size="16.00" stroke="#000" stroke-width="0.12" textLength="28.6" lengthAdjust="spacingAndGlyphs">mm</text></g>
<g transform="translate(257.25,55.70) rotate(-45)" font-family='"Liberation Serif", serif'><rect x="1.33" y="-4.40" width="9.78" height="0.80" fill="#000"/><text x="12.45" y="0.00" font-size="16.00" textLength="28.45" lengthAdjust="spacingAndGlyphs">0.54</text><text x="43.90" y="0" font-size="16.00" stroke="#000" stroke-width="0.12" textLength="28.6" lengthAdjust="spacingAndGlyphs">mm</text></g>
<g transform="translate(291.03,55.70) rotate(-45)" font-family='"Liberation Serif", serif'><rect x="1.33" y="-4.40" width="9.78" height="0.80" fill="#000"/><text x="12.45" y="0.00" font-size="16.00" textLength="28.45" lengthAdjust="spacingAndGlyphs">0.37</text><text x="43.90" y="0" font-size="16.00" stroke="#000" stroke-width="0.12" textLength="28.6" lengthAdjust="spacingAndGlyphs">mm</text></g>
<g transform="translate(324.81,55.70) rotate(-45)" font-family='"Liberation Serif", serif'><rect x="1.33" y="-4.40" width="9.78" height="0.80" fill="#000"/><text x="12.45" y="0.00" font-size="16.00" textLength="28.45" lengthAdjust="spacingAndGlyphs">0.19</text><text x="43.90" y="0" font-size="16.00" stroke="#000" stroke-width="0.12" textLength="28.6" lengthAdjust="spacingAndGlyphs">mm</text></g>
<g transform="translate(358.59,55.70) rotate(-45)" font-family='"Liberation Serif", serif'><text x="0.00" y="0.00" font-size="16.00" textLength="28.45" lengthAdjust="spacingAndGlyphs">0.00</text><text x="31.45" y="0" font-size="16.00" stroke="#000" stroke-width="0.12" textLength="28.6" lengthAdjust="spacingAndGlyphs">mm</text></g>
<g transform="translate(392.37,55.70) rotate(-45)" font-family='"Liberation Serif", serif'><text x="0.00" y="0.00" font-size="16.00" textLength="28.45" lengthAdjust="spacingAndGlyphs">0.21</text><text x="31.45" y="0" font-size="16.00" stroke="#000" stroke-width="0.12" textLength="28.6" lengthAdjust="spacingAndGlyphs">mm</text></g>
<g transform="translate(426.15,55.70) rotate(-45)" font-family='"Liberation Serif", serif'><text x="0.00" y="0.00" font-size="16.00" textLength="28.45" lengthAdjust="spacingAndGlyphs">0.44</text><text x="31.45" y="0" font-size="16.00" stroke="#000" stroke-width="0.12" textLength="28.6" lengthAdjust="spacingAndGlyphs">mm</text></g>
<g transform="translate(459.93,55.70) rotate(-45)" font-family='"Liberation Serif", serif'><text x="0.00" y="0.00" font-size="16.00" textLength="28.45" lengthAdjust="spacingAndGlyphs">0.69</text><text x="31.45" y="0" font-size="16.00" stroke="#000" stroke-width="0.12" textLength="28.6" lengthAdjust="spacingAndGlyphs">mm</text></g>
<g transform="translate(493.71,55.70) rotate(-45)" font-family='"Liberation Serif", serif'><text x="0.00" y="0.00" font-size="16.00" textLength="28.45" lengthAdjust="spacingAndGlyphs">0.96</text><text x="31.45" y="0" font-size="16.00" stroke="#000" stroke-width="0.12" textLength="28.6" lengthAdjust="spacingAndGlyphs">mm</text></g>
<g transform="translate(527.49,55.70) rotate(-45)" font-family='"Liberation Serif", serif'><text x="0.00" y="0.00" font-size="16.00" textLength="28.45" lengthAdjust="spacingAndGlyphs">1.27</text><text x="31.45" y="0" font-size="16.00" stroke="#000" stroke-width="0.12" textLength="28.6" lengthAdjust="spacingAndGlyphs">mm</text></g>
<g transform="translate(561.27,55.70) rotate(-45)" font-family='"Liberation Serif", serif'><text x="0.00" y="0.00" font-size="16.00" textLength="28.45" lengthAdjust="spacingAndGlyphs">1.60</text><text x="31.45" y="0" font-size="16.00" stroke="#000" stroke-width="0.12" textLength="28.6" lengthAdjust="spacingAndGlyphs">mm</text></g>
<rect x="601.30" y="51.60" width="14.30" height="147.40" fill="url(#cb)" stroke="#000" stroke-width="1.3"/>
<g font-family='"Liberation Serif", serif'>
<text x="619.60" y="203.40" font-size="14.50" textLength="18.53" lengthAdjust="spacingAndGlyphs">0.0</text>
<line x1="611.80" y1="184.26" x2="615.60" y2="184.26" stroke="#000" stroke-width="0.9"/>
<text x="619.60" y="188.66" font-size="14.50" textLength="18.53" lengthAdjust="spacingAndGlyphs">0.1</text>
<line x1="611.80" y1="169.52" x2="615.60" y2="169.52" stroke="#000" stroke-width="0.9"/>
<text x="619.60" y="173.92" font-size="14.50" textLength="18.53" lengthAdjust="spacingAndGlyphs">0.2</text>
<line x1="611.80" y1="154.78" x2="615.60" y2="154.78" stroke="#000" stroke-width="0.9"/>
<text x="619.60" y="159.18" font-size="14.50" textLength="18.53" lengthAdjust="spacingAndGlyphs">0.3</text>
<line x1="611.80" y1="140.04" x2="615.60" y2="140.04" stroke="#000" stroke-width="0.9"/>
<text x="619.60" y="144.44" font-size="14.50" textLength="18.53" lengthAdjust="spacingAndGlyphs">0.4</text>
<line x1="611.80" y1="125.30" x2="615.60" y2="125.30" stroke="#000" stroke-width="0.9"/>
<text x="619.60" y="129.70" font-size="14.50" textLength="18.53" lengthAdjust="spacingAndGlyphs">0.5</text>
<line x1="611.80" y1="110.56" x2="615.60" y2="110.56" stroke="#000" stroke-width="0.9"/>
<text x="619.60" y="114.96" font-size="14.50" textLength="18.53" lengthAdjust="spacingAndGlyphs">0.6</text>
<line x1="611.80" y1="95.82" x2="615.60" y2="95.82" stroke="#000" stroke-width="0.9"/>
<text x="619.60" y="100.22" font-size="14.50" textLength="18.53" lengthAdjust="spacingAndGlyphs">0.7</text>
<line x1="611.80" y1="81.08" x2="615.60" y2="81.08" stroke="#000" stroke-width="0.9"/>
<text x="619.60" y="85.48" font-size="14.50" textLength="18.53" lengthAdjust="spacingAndGlyphs">0.8</text>
<line x1="611.80" y1="66.34" x2="615.60" y2="66.34" stroke="#000" stroke-width="0.9"/>
<text x="619.60" y="70.74" font-size="14.50" textLength="18.53" lengthAdjust="spacingAndGlyphs">0.9</text>
<text x="619.60" y="56.00" font-size="14.50" textLength="18.53" lengthAdjust="spacingAndGlyphs">1.0</text>
</g>
<g clip-path="url(#cpc)" fill="none" stroke="#000">
<path d="M76.40,401.35 L76.93,401.01 L77.45,401.18 L77.98,400.81 L78.50,400.59 L79.03,401.54 L79.55,402.12 L80.08,400.84 L80.60,401.30 L81.13,401.57 L81.65,400.26 L82.18,400.60 L82.71,400.07 L83.23,400.49 L83.76,400.39 L84.28,401.27 L84.81,400.78 L85.33,400.09 L85.86,400.40 L86.38,400.14 L86.91,400.14 L87.44,401.29 L87.96,400.54 L88.49,400.48 L89.01,401.00 L89.54,401.77 L90.06,400.55 L90.59,400.69 L91.11,400.28 L91.64,399.77 L92.16,399.82 L92.69,399.44 L93.22,400.25 L93.74,399.86 L94.27,400.34 L94.79,399.63 L95.32,399.38 L95.84,400.73 L96.37,401.31 L96.89,401.44 L97.42,400.05 L97.95,400.35 L98.47,400.12 L99.00,400.60 L99.52,400.43 L100.05,400.55 L100.57,400.65 L101.10,400.23 L101.62,399.99 L102.15,399.22 L102.67,399.23 L103.20,398.73 L103.73,398.57 L104.25,398.20 L104.78,398.57 L105.30,399.68 L105.83,398.85 L106.35,398.19 L106.88,397.91 L107.40,398.34 L107.93,398.22 L108.45,399.04 L108.98,398.19 L109.51,398.18 L110.03,398.64 L110.56,399.20 L111.08,397.87 L111.61,396.84 L112.13,397.94 L112.66,397.01 L113.18,397.17 L113.71,397.62 L114.24,397.43 L114.76,396.28 L115.29,395.35 L115.81,396.31 L116.34,395.53 L116.86,396.04 L117.39,394.83 L117.91,394.76 L118.44,393.46 L118.96,392.40 L119.49,392.55 L120.02,391.44 L120.54,391.94 L121.07,392.37 L121.59,391.31 L122.12,391.57 L122.64,391.08 L123.17,390.11 L123.69,388.91 L124.22,388.82 L124.75,388.64 L125.27,386.59 L125.80,386.23 L126.32,384.41 L126.85,383.19 L127.37,383.13 L127.90,382.49 L128.42,381.58 L128.95,380.39 L129.47,379.38 L130.00,378.42 L130.53,377.28 L131.05,375.53 L131.58,374.90 L132.10,374.13 L132.63,372.58 L133.15,372.09 L133.68,371.07 L134.20,368.59 L134.73,367.54 L135.25,366.25 L135.78,365.90 L136.31,364.21 L136.83,362.28 L137.36,361.61 L137.88,359.34 L138.41,357.36 L138.93,356.63 L139.46,354.33 L139.98,352.63 L140.51,350.49 L141.04,349.15 L141.56,346.90 L142.09,344.79 L142.61,344.17 L143.14,342.84 L143.66,340.05 L144.19,337.13 L144.71,336.06 L145.24,334.15 L145.76,331.94 L146.29,330.35 L146.82,328.47 L147.34,326.62 L147.87,324.57 L148.39,322.10 L148.92,320.41 L149.44,318.40 L149.97,315.63 L150.49,314.65 L151.02,312.12 L151.55,309.54 L152.07,308.06 L152.60,306.50 L153.12,303.63 L153.65,302.30 L154.17,300.78 L154.70,298.60 L155.22,296.08 L155.75,295.05 L156.27,293.22 L156.80,291.41 L157.33,288.69 L157.85,287.25 L158.38,284.93 L158.90,284.29 L159.43,282.89 L159.95,280.86 L160.48,278.69 L161.00,277.76 L161.53,277.08 L162.05,276.32 L162.58,274.59 L163.11,273.82 L163.63,271.74 L164.16,270.17 L164.68,270.19 L165.21,269.61 L165.73,267.95 L166.26,267.11 L166.78,266.09 L167.31,266.20 L167.84,266.47 L168.36,266.12 L168.89,264.86 L169.41,265.14 L169.94,265.09 L170.46,264.93 L170.99,264.88 L171.51,264.95 L172.04,264.13 L172.56,265.34 L173.09,266.43 L173.62,265.43 L174.14,265.32 L174.67,265.39 L175.19,266.83 L175.72,266.97 L176.24,267.51 L176.77,269.60 L177.29,270.15 L177.82,270.79 L178.35,272.01 L178.87,273.51 L179.40,275.33 L179.92,276.81 L180.45,278.47 L180.97,280.33 L181.50,281.02 L182.02,282.72 L182.55,283.38 L183.07,286.00 L183.60,286.52 L184.13,288.05 L184.65,289.27 L185.18,290.83 L185.70,292.54 L186.23,294.95 L186.75,298.18 L187.28,299.37 L187.80,302.03 L188.33,304.11 L188.85,305.45 L189.38,307.38 L189.91,309.57 L190.43,310.67 L190.96,312.86 L191.48,315.49 L192.01,317.99 L192.53,319.09 L193.06,321.39 L193.58,322.97 L194.11,325.59 L194.64,328.19 L195.16,329.85 L195.69,331.12 L196.21,333.97 L196.74,335.18 L197.26,336.49 L197.79,338.32 L198.31,340.14 L198.84,343.53 L199.36,344.95 L199.89,346.10 L200.42,349.12 L200.94,351.07 L201.47,352.90 L201.99,354.16 L202.52,355.80 L203.04,357.33 L203.57,358.30 L204.09,361.03 L204.62,363.05 L205.15,364.65 L205.67,366.17 L206.20,367.73 L206.72,367.46 L207.25,368.21 L207.77,370.69 L208.30,371.76 L208.82,373.26 L209.35,374.59 L209.87,375.75 L210.40,376.32 L210.93,377.25 L211.45,378.66 L211.98,380.19 L212.50,381.16 L213.03,382.51 L213.55,382.80 L214.08,383.07 L214.60,384.25 L215.13,385.82 L215.65,386.79 L216.18,387.28 L216.71,387.43 L217.23,387.50 L217.76,388.62 L218.28,388.69 L218.81,389.36 L219.33,390.35 L219.86,391.22 L220.38,391.68 L220.91,391.76 L221.44,392.57 L221.96,392.68 L222.49,393.39 L223.01,394.36 L223.54,394.48 L224.06,394.42 L224.59,395.76 L225.11,395.91 L225.64,396.15 L226.16,395.54 L226.69,395.27 L227.22,396.34 L227.74,396.00 L228.27,396.16 L228.79,397.35 L229.32,397.67 L229.84,398.58 L230.37,397.81 L230.89,397.80 L231.42,397.45 L231.95,397.53 L232.47,397.89 L233.00,398.01 L233.52,398.45 L234.05,399.62 L234.57,399.33 L235.10,400.35 L235.62,400.65 L236.15,399.64 L236.67,400.57 L237.20,400.99 L237.73,401.22 L238.25,399.88 L238.78,400.58 L239.30,401.26 L239.83,400.06 L240.35,400.87 L240.88,399.91 L241.40,399.79 L241.93,399.43 L242.45,399.05 L242.98,399.59 L243.51,399.46 L244.03,400.87 L244.56,400.19 L245.08,400.35 L245.61,400.06 L246.13,401.08 L246.66,400.38 L247.18,399.68 L247.71,401.01 L248.24,401.18 L248.76,400.82 L249.29,400.14 L249.81,400.92 L250.34,401.44 L250.86,401.57 L251.39,400.94 L251.91,400.37 L252.44,400.77 L252.96,401.03 L253.49,401.11 L254.02,401.24 L254.54,401.17 L255.07,401.78 L255.59,401.30 L256.12,400.15 L256.64,400.65 L257.17,400.26 L257.69,401.19 L258.22,400.65 L258.75,400.25 L259.27,400.21 L259.80,400.49 L260.32,400.70 L260.85,400.49 L261.37,399.91 L261.90,401.05 L262.42,401.72 L262.95,400.81 L263.47,400.03 L264.00,400.41 L264.53,400.74 L265.05,400.38 L265.58,401.21 L266.10,401.48 L266.63,401.74 L267.15,401.13 L267.68,401.35 L268.20,401.61 L268.73,400.87 L269.25,400.00 L269.78,400.81 L270.31,400.44 L270.83,400.81 L271.36,400.16 L271.88,400.35 L272.41,401.05 L272.93,401.49 L273.46,402.08 L273.98,401.51 L274.51,401.41 L275.04,401.76 L275.56,401.57 L276.09,401.55 L276.61,400.68 L277.14,401.45 L277.66,400.22 L278.19,400.58 L278.71,400.53 L279.24,400.75 L279.76,400.17 L280.29,399.90 L280.82,400.27 L281.34,400.60 L281.87,400.31 L282.39,399.90 L282.92,400.57 L283.44,400.27 L283.97,399.68 L284.49,400.33 L285.02,401.11 L285.55,401.49 L286.07,400.76 L286.60,400.47 L287.12,399.79 L287.65,399.65 L288.17,400.74 L288.70,401.39 L289.22,401.59 L289.75,401.82 L290.27,400.95 L290.80,400.22 L291.33,399.77 L291.85,400.78 L292.38,400.12 L292.90,400.85 L293.43,401.00 L293.95,400.49 L294.48,401.46 L295.00,401.94 L295.53,400.76 L296.05,401.21 L296.58,401.31 L297.11,400.93 L297.63,400.56 L298.16,401.65 L298.68,401.57 L299.21,401.33 L299.73,401.12 L300.26,401.54 L300.78,401.04 L301.31,400.08 L301.84,400.68 L302.36,400.68 L302.89,401.50 L303.41,401.61 L303.94,400.92 L304.46,401.63 L304.99,400.50 L305.51,399.90 L306.04,401.15 L306.56,400.16 L307.09,400.75 L307.62,400.28 L308.14,400.08 L308.67,400.86 L309.19,400.52 L309.72,400.40 L310.24,400.04 L310.77,400.90 L311.29,400.39 L311.82,399.74 L312.35,399.97 L312.87,400.35 L313.40,401.34 L313.92,401.11 L314.45,401.27 L314.97,400.65 L315.50,400.41 L316.02,400.51 L316.55,401.29 L317.07,400.80 L317.60,400.58" stroke-width="1.25" stroke-linejoin="round"/>
<path d="M76.40,400.15 L76.93,400.15 L77.45,400.15 L77.98,400.15 L78.50,400.14 L79.03,400.14 L79.55,400.14 L80.08,400.13 L80.60,400.13 L81.13,400.12 L81.65,400.12 L82.18,400.11 L82.71,400.11 L83.23,400.10 L83.76,400.09 L84.28,400.09 L84.81,400.08 L85.33,400.07 L85.86,400.06 L86.38,400.05 L86.91,400.04 L87.44,400.02 L87.96,400.01 L88.49,400.00 L89.01,399.98 L89.54,399.96 L90.06,399.95 L90.59,399.93 L91.11,399.90 L91.64,399.88 L92.16,399.86 L92.69,399.83 L93.22,399.80 L93.74,399.77 L94.27,399.74 L94.79,399.70 L95.32,399.66 L95.84,399.62 L96.37,399.58 L96.89,399.53 L97.42,399.48 L97.95,399.42 L98.47,399.37 L99.00,399.30 L99.52,399.24 L100.05,399.17 L100.57,399.09 L101.10,399.01 L101.62,398.92 L102.15,398.83 L102.67,398.73 L103.20,398.63 L103.73,398.52 L104.25,398.40 L104.78,398.27 L105.30,398.14 L105.83,398.00 L106.35,397.85 L106.88,397.69 L107.40,397.52 L107.93,397.35 L108.45,397.16 L108.98,396.96 L109.51,396.75 L110.03,396.53 L110.56,396.30 L111.08,396.05 L111.61,395.79 L112.13,395.51 L112.66,395.23 L113.18,394.92 L113.71,394.60 L114.24,394.27 L114.76,393.92 L115.29,393.55 L115.81,393.16 L116.34,392.76 L116.86,392.33 L117.39,391.89 L117.91,391.42 L118.44,390.93 L118.96,390.42 L119.49,389.89 L120.02,389.34 L120.54,388.76 L121.07,388.16 L121.59,387.53 L122.12,386.88 L122.64,386.20 L123.17,385.50 L123.69,384.76 L124.22,384.00 L124.75,383.21 L125.27,382.40 L125.80,381.55 L126.32,380.67 L126.85,379.76 L127.37,378.83 L127.90,377.86 L128.42,376.86 L128.95,375.82 L129.47,374.76 L130.00,373.66 L130.53,372.53 L131.05,371.37 L131.58,370.18 L132.10,368.95 L132.63,367.69 L133.15,366.40 L133.68,365.07 L134.20,363.71 L134.73,362.32 L135.25,360.90 L135.78,359.45 L136.31,357.96 L136.83,356.45 L137.36,354.91 L137.88,353.33 L138.41,351.73 L138.93,350.10 L139.46,348.44 L139.98,346.76 L140.51,345.05 L141.04,343.32 L141.56,341.56 L142.09,339.78 L142.61,337.98 L143.14,336.17 L143.66,334.33 L144.19,332.48 L144.71,330.62 L145.24,328.74 L145.76,326.85 L146.29,324.95 L146.82,323.04 L147.34,321.13 L147.87,319.21 L148.39,317.30 L148.92,315.38 L149.44,313.46 L149.97,311.55 L150.49,309.65 L151.02,307.75 L151.55,305.87 L152.07,304.00 L152.60,302.14 L153.12,300.30 L153.65,298.49 L154.17,296.69 L154.70,294.92 L155.22,293.18 L155.75,291.47 L156.27,289.79 L156.80,288.14 L157.33,286.53 L157.85,284.96 L158.38,283.43 L158.90,281.94 L159.43,280.50 L159.95,279.11 L160.48,277.76 L161.00,276.47 L161.53,275.23 L162.05,274.05 L162.58,272.93 L163.11,271.86 L163.63,270.85 L164.16,269.91 L164.68,269.03 L165.21,268.22 L165.73,267.47 L166.26,266.79 L166.78,266.17 L167.31,265.63 L167.84,265.16 L168.36,264.76 L168.89,264.43 L169.41,264.17 L169.94,263.99 L170.46,263.88 L170.99,263.84 L171.51,263.88 L172.04,263.99 L172.56,264.17 L173.09,264.43 L173.62,264.75 L174.14,265.15 L174.67,265.62 L175.19,266.17 L175.72,266.78 L176.24,267.46 L176.77,268.20 L177.29,269.02 L177.82,269.90 L178.35,270.84 L178.87,271.84 L179.40,272.91 L179.92,274.03 L180.45,275.22 L180.97,276.45 L181.50,277.74 L182.02,279.09 L182.55,280.48 L183.07,281.92 L183.60,283.41 L184.13,284.93 L184.65,286.50 L185.18,288.11 L185.70,289.76 L186.23,291.44 L186.75,293.15 L187.28,294.89 L187.80,296.66 L188.33,298.46 L188.85,300.27 L189.38,302.11 L189.91,303.97 L190.43,305.84 L190.96,307.72 L191.48,309.62 L192.01,311.52 L192.53,313.43 L193.06,315.35 L193.58,317.27 L194.11,319.18 L194.64,321.10 L195.16,323.01 L195.69,324.92 L196.21,326.82 L196.74,328.71 L197.26,330.59 L197.79,332.45 L198.31,334.30 L198.84,336.14 L199.36,337.96 L199.89,339.75 L200.42,341.53 L200.94,343.29 L201.47,345.02 L201.99,346.73 L202.52,348.41 L203.04,350.07 L203.57,351.70 L204.09,353.31 L204.62,354.88 L205.15,356.43 L205.67,357.94 L206.20,359.43 L206.72,360.88 L207.25,362.30 L207.77,363.69 L208.30,365.05 L208.82,366.38 L209.35,367.67 L209.87,368.93 L210.40,370.16 L210.93,371.35 L211.45,372.52 L211.98,373.64 L212.50,374.74 L213.03,375.81 L213.55,376.84 L214.08,377.84 L214.60,378.81 L215.13,379.75 L215.65,380.66 L216.18,381.54 L216.71,382.38 L217.23,383.20 L217.76,383.99 L218.28,384.75 L218.81,385.49 L219.33,386.19 L219.86,386.87 L220.38,387.52 L220.91,388.15 L221.44,388.75 L221.96,389.33 L222.49,389.89 L223.01,390.42 L223.54,390.93 L224.06,391.41 L224.59,391.88 L225.11,392.32 L225.64,392.75 L226.16,393.15 L226.69,393.54 L227.22,393.91 L227.74,394.26 L228.27,394.60 L228.79,394.92 L229.32,395.22 L229.84,395.51 L230.37,395.78 L230.89,396.04 L231.42,396.29 L231.95,396.53 L232.47,396.75 L233.00,396.96 L233.52,397.16 L234.05,397.34 L234.57,397.52 L235.10,397.69 L235.62,397.85 L236.15,398.00 L236.67,398.14 L237.20,398.27 L237.73,398.40 L238.25,398.52 L238.78,398.63 L239.30,398.73 L239.83,398.83 L240.35,398.92 L240.88,399.01 L241.40,399.09 L241.93,399.16 L242.45,399.24 L242.98,399.30 L243.51,399.36 L244.03,399.42 L244.56,399.48 L245.08,399.53 L245.61,399.58 L246.13,399.62 L246.66,399.66 L247.18,399.70 L247.71,399.74 L248.24,399.77 L248.76,399.80 L249.29,399.83 L249.81,399.86 L250.34,399.88 L250.86,399.90 L251.39,399.92 L251.91,399.94 L252.44,399.96 L252.96,399.98 L253.49,400.00 L254.02,400.01 L254.54,400.02 L255.07,400.04 L255.59,400.05 L256.12,400.06 L256.64,400.07 L257.17,400.08 L257.69,400.09 L258.22,400.09 L258.75,400.10 L259.27,400.11 L259.80,400.11 L260.32,400.12 L260.85,400.12 L261.37,400.13 L261.90,400.13 L262.42,400.14 L262.95,400.14 L263.47,400.14 L264.00,400.15 L264.53,400.15 L265.05,400.15 L265.58,400.15 L266.10,400.16 L266.63,400.16 L267.15,400.16 L267.68,400.16 L268.20,400.16 L268.73,400.16 L269.25,400.16 L269.78,400.17 L270.31,400.17 L270.83,400.17 L271.36,400.17 L271.88,400.17 L272.41,400.17 L272.93,400.17 L273.46,400.17 L273.98,400.17 L274.51,400.17 L275.04,400.17 L275.56,400.17 L276.09,400.17 L276.61,400.17 L277.14,400.17 L277.66,400.17 L278.19,400.17 L278.71,400.17 L279.24,400.17 L279.76,400.17 L280.29,400.17 L280.82,400.17 L281.34,400.17 L281.87,400.17 L282.39,400.17 L282.92,400.17 L283.44,400.18 L283.97,400.18 L284.49,400.18 L285.02,400.18 L285.55,400.18 L286.07,400.18 L286.60,400.18 L287.12,400.18 L287.65,400.18 L288.17,400.18 L288.70,400.18 L289.22,400.18 L289.75,400.18 L290.27,400.18 L290.80,400.18 L291.33,400.18 L291.85,400.18 L292.38,400.18 L292.90,400.18 L293.43,400.18 L293.95,400.18 L294.48,400.18 L295.00,400.18 L295.53,400.18 L296.05,400.18 L296.58,400.18 L297.11,400.18 L297.63,400.18 L298.16,400.18 L298.68,400.18 L299.21,400.18 L299.73,400.18 L300.26,400.18 L300.78,400.18 L301.31,400.18 L301.84,400.18 L302.36,400.18 L302.89,400.18 L303.41,400.18 L303.94,400.18 L304.46,400.18 L304.99,400.18 L305.51,400.18 L306.04,400.18 L306.56,400.18 L307.09,400.18 L307.62,400.18 L308.14,400.18 L308.67,400.18 L309.19,400.18 L309.72,400.18 L310.24,400.18 L310.77,400.18 L311.29,400.18 L311.82,400.18 L312.35,400.18 L312.87,400.18 L313.40,400.18 L313.92,400.18 L314.45,400.18 L314.97,400.18 L315.50,400.18 L316.02,400.18 L316.55,400.18 L317.07,400.18 L317.60,400.18" stroke-width="1.2" stroke-dasharray="1.2 2.8"/>
<path d="M76.40,400.58 L76.93,400.58 L77.45,400.58 L77.98,400.58 L78.50,400.57 L79.03,400.57 L79.55,400.57 L80.08,400.57 L80.60,400.57 L81.13,400.57 L81.65,400.57 L82.18,400.56 L82.71,400.56 L83.23,400.56 L83.76,400.56 L84.28,400.55 L84.81,400.55 L85.33,400.54 L85.86,400.54 L86.38,400.54 L86.91,400.53 L87.44,400.53 L87.96,400.52 L88.49,400.51 L89.01,400.51 L89.54,400.50 L90.06,400.49 L90.59,400.48 L91.11,400.47 L91.64,400.46 L92.16,400.45 L92.69,400.43 L93.22,400.42 L93.74,400.40 L94.27,400.38 L94.79,400.37 L95.32,400.35 L95.84,400.32 L96.37,400.30 L96.89,400.27 L97.42,400.25 L97.95,400.22 L98.47,400.18 L99.00,400.15 L99.52,400.11 L100.05,400.07 L100.57,400.02 L101.10,399.98 L101.62,399.92 L102.15,399.87 L102.67,399.81 L103.20,399.74 L103.73,399.68 L104.25,399.60 L104.78,399.52 L105.30,399.44 L105.83,399.35 L106.35,399.25 L106.88,399.14 L107.40,399.03 L107.93,398.91 L108.45,398.79 L108.98,398.65 L109.51,398.51 L110.03,398.35 L110.56,398.19 L111.08,398.01 L111.61,397.83 L112.13,397.63 L112.66,397.42 L113.18,397.20 L113.71,396.97 L114.24,396.72 L114.76,396.45 L115.29,396.18 L115.81,395.88 L116.34,395.57 L116.86,395.24 L117.39,394.90 L117.91,394.53 L118.44,394.15 L118.96,393.74 L119.49,393.32 L120.02,392.87 L120.54,392.40 L121.07,391.90 L121.59,391.39 L122.12,390.84 L122.64,390.28 L123.17,389.68 L123.69,389.06 L124.22,388.41 L124.75,387.73 L125.27,387.02 L125.80,386.29 L126.32,385.52 L126.85,384.72 L127.37,383.88 L127.90,383.02 L128.42,382.12 L128.95,381.19 L129.47,380.22 L130.00,379.22 L130.53,378.18 L131.05,377.10 L131.58,375.99 L132.10,374.85 L132.63,373.66 L133.15,372.44 L133.68,371.18 L134.20,369.88 L134.73,368.55 L135.25,367.18 L135.78,365.77 L136.31,364.33 L136.83,362.84 L137.36,361.32 L137.88,359.77 L138.41,358.18 L138.93,356.55 L139.46,354.90 L139.98,353.20 L140.51,351.48 L141.04,349.72 L141.56,347.94 L142.09,346.12 L142.61,344.27 L143.14,342.40 L143.66,340.51 L144.19,338.59 L144.71,336.65 L145.24,334.69 L145.76,332.71 L146.29,330.71 L146.82,328.70 L147.34,326.68 L147.87,324.64 L148.39,322.60 L148.92,320.55 L149.44,318.50 L149.97,316.45 L150.49,314.40 L151.02,312.36 L151.55,310.32 L152.07,308.29 L152.60,306.28 L153.12,304.28 L153.65,302.29 L154.17,300.33 L154.70,298.39 L155.22,296.48 L155.75,294.60 L156.27,292.75 L156.80,290.94 L157.33,289.16 L157.85,287.43 L158.38,285.74 L158.90,284.09 L159.43,282.50 L159.95,280.95 L160.48,279.46 L161.00,278.03 L161.53,276.66 L162.05,275.34 L162.58,274.10 L163.11,272.92 L163.63,271.80 L164.16,270.76 L164.68,269.79 L165.21,268.89 L165.73,268.07 L166.26,267.32 L166.78,266.66 L167.31,266.07 L167.84,265.56 L168.36,265.14 L168.89,264.80 L169.41,264.54 L169.94,264.36 L170.46,264.27 L170.99,264.26 L171.51,264.33 L172.04,264.49 L172.56,264.73 L173.09,265.06 L173.62,265.47 L174.14,265.95 L174.67,266.52 L175.19,267.17 L175.72,267.90 L176.24,268.71 L176.77,269.59 L177.29,270.54 L177.82,271.57 L178.35,272.67 L178.87,273.83 L179.40,275.07 L179.92,276.37 L180.45,277.73 L180.97,279.15 L181.50,280.62 L182.02,282.16 L182.55,283.74 L183.07,285.37 L183.60,287.06 L184.13,288.78 L184.65,290.55 L185.18,292.35 L185.70,294.20 L186.23,296.07 L186.75,297.98 L187.28,299.91 L187.80,301.86 L188.33,303.84 L188.85,305.84 L189.38,307.85 L189.91,309.88 L190.43,311.91 L190.96,313.96 L191.48,316.01 L192.01,318.06 L192.53,320.11 L193.06,322.16 L193.58,324.20 L194.11,326.23 L194.64,328.26 L195.16,330.27 L195.69,332.27 L196.21,334.26 L196.74,336.22 L197.26,338.17 L197.79,340.09 L198.31,341.99 L198.84,343.87 L199.36,345.72 L199.89,347.54 L200.42,349.34 L200.94,351.10 L201.47,352.83 L201.99,354.53 L202.52,356.20 L203.04,357.83 L203.57,359.43 L204.09,360.99 L204.62,362.52 L205.15,364.01 L205.67,365.46 L206.20,366.88 L206.72,368.26 L207.25,369.60 L207.77,370.90 L208.30,372.17 L208.82,373.40 L209.35,374.59 L209.87,375.75 L210.40,376.87 L210.93,377.95 L211.45,378.99 L211.98,380.00 L212.50,380.98 L213.03,381.92 L213.55,382.83 L214.08,383.70 L214.60,384.54 L215.13,385.35 L215.65,386.12 L216.18,386.87 L216.71,387.58 L217.23,388.26 L217.76,388.92 L218.28,389.55 L218.81,390.15 L219.33,390.72 L219.86,391.27 L220.38,391.79 L220.91,392.29 L221.44,392.77 L221.96,393.22 L222.49,393.65 L223.01,394.06 L223.54,394.45 L224.06,394.82 L224.59,395.17 L225.11,395.50 L225.64,395.82 L226.16,396.11 L226.69,396.40 L227.22,396.66 L227.74,396.91 L228.27,397.15 L228.79,397.38 L229.32,397.59 L229.84,397.79 L230.37,397.98 L230.89,398.15 L231.42,398.32 L231.95,398.47 L232.47,398.62 L233.00,398.76 L233.52,398.89 L234.05,399.01 L234.57,399.12 L235.10,399.23 L235.62,399.33 L236.15,399.42 L236.67,399.50 L237.20,399.58 L237.73,399.66 L238.25,399.73 L238.78,399.79 L239.30,399.86 L239.83,399.91 L240.35,399.96 L240.88,400.01 L241.40,400.06 L241.93,400.10 L242.45,400.14 L242.98,400.18 L243.51,400.21 L244.03,400.24 L244.56,400.27 L245.08,400.29 L245.61,400.32 L246.13,400.34 L246.66,400.36 L247.18,400.38 L247.71,400.40 L248.24,400.41 L248.76,400.43 L249.29,400.44 L249.81,400.46 L250.34,400.47 L250.86,400.48 L251.39,400.49 L251.91,400.50 L252.44,400.50 L252.96,400.51 L253.49,400.52 L254.02,400.52 L254.54,400.53 L255.07,400.53 L255.59,400.54 L256.12,400.54 L256.64,400.55 L257.17,400.55 L257.69,400.55 L258.22,400.56 L258.75,400.56 L259.27,400.56 L259.80,400.56 L260.32,400.57 L260.85,400.57 L261.37,400.57 L261.90,400.57 L262.42,400.57 L262.95,400.57 L263.47,400.58 L264.00,400.58 L264.53,400.58 L265.05,400.58 L265.58,400.58 L266.10,400.58 L266.63,400.58 L267.15,400.58 L267.68,400.58 L268.20,400.58 L268.73,400.58 L269.25,400.58 L269.78,400.58 L270.31,400.58 L270.83,400.58 L271.36,400.58 L271.88,400.58 L272.41,400.58 L272.93,400.58 L273.46,400.58 L273.98,400.58 L274.51,400.58 L275.04,400.58 L275.56,400.58 L276.09,400.58 L276.61,400.58 L277.14,400.58 L277.66,400.58 L278.19,400.58 L278.71,400.58 L279.24,400.58 L279.76,400.58 L280.29,400.58 L280.82,400.58 L281.34,400.58 L281.87,400.58 L282.39,400.58 L282.92,400.58 L283.44,400.58 L283.97,400.58 L284.49,400.58 L285.02,400.58 L285.55,400.58 L286.07,400.58 L286.60,400.58 L287.12,400.58 L287.65,400.58 L288.17,400.58 L288.70,400.58 L289.22,400.58 L289.75,400.58 L290.27,400.58 L290.80,400.58 L291.33,400.58 L291.85,400.58 L292.38,400.58 L292.90,400.58 L293.43,400.58 L293.95,400.58 L294.48,400.58 L295.00,400.58 L295.53,400.58 L296.05,400.58 L296.58,400.58 L297.11,400.58 L297.63,400.58 L298.16,400.58 L298.68,400.58 L299.21,400.58 L299.73,400.58 L300.26,400.58 L300.78,400.58 L301.31,400.58 L301.84,400.58 L302.36,400.58 L302.89,400.58 L303.41,400.58 L303.94,400.58 L304.46,400.58 L304.99,400.58 L305.51,400.58 L306.04,400.58 L306.56,400.58 L307.09,400.58 L307.62,400.58 L308.14,400.58 L308.67,400.58 L309.19,400.58 L309.72,400.58 L310.24,400.58 L310.77,400.58 L311.29,400.58 L311.82,400.58 L312.35,400.58 L312.87,400.58 L313.40,400.58 L313.92,400.58 L314.45,400.58 L314.97,400.58 L315.50,400.58 L316.02,400.58 L316.55,400.58 L317.07,400.58 L317.60,400.58" stroke-width="1.25" stroke-dasharray="6 6"/>
</g>
<rect x="76.40" y="249.80" width="241.20" height="163.60" fill="none" stroke="#000" stroke-width="1.2"/>
<line x1="86.89" y1="413.40" x2="86.89" y2="409.90" stroke="#000" stroke-width="0.8"/>
<line x1="86.89" y1="249.80" x2="86.89" y2="253.30" stroke="#000" stroke-width="0.8"/>
<line x1="128.83" y1="413.40" x2="128.83" y2="409.90" stroke="#000" stroke-width="0.8"/>
<line x1="128.83" y1="249.80" x2="128.83" y2="253.30" stroke="#000" stroke-width="0.8"/>
<line x1="170.78" y1="413.40" x2="170.78" y2="409.90" stroke="#000" stroke-width="0.8"/>
<line x1="170.78" y1="249.80" x2="170.78" y2="253.30" stroke="#000" stroke-width="0.8"/>
<line x1="212.73" y1="413.40" x2="212.73" y2="409.90" stroke="#000" stroke-width="0.8"/>
<line x1="212.73" y1="249.80" x2="212.73" y2="253.30" stroke="#000" stroke-width="0.8"/>
<line x1="254.68" y1="413.40" x2="254.68" y2="409.90" stroke="#000" stroke-width="0.8"/>
<line x1="254.68" y1="249.80" x2="254.68" y2="253.30" stroke="#000" stroke-width="0.8"/>
<line x1="296.63" y1="413.40" x2="296.63" y2="409.90" stroke="#000" stroke-width="0.8"/>
<line x1="296.63" y1="249.80" x2="296.63" y2="253.30" stroke="#000" stroke-width="0.8"/>
<line x1="76.40" y1="399.77" x2="79.90" y2="399.77" stroke="#000" stroke-width="0.8"/>
<line x1="314.10" y1="399.77" x2="317.60" y2="399.77" stroke="#000" stroke-width="0.8"/>
<line x1="76.40" y1="372.50" x2="79.90" y2="372.50" stroke="#000" stroke-width="0.8"/>
<line x1="314.10" y1="372.50" x2="317.60" y2="372.50" stroke="#000" stroke-width="0.8"/>
<line x1="76.40" y1="345.23" x2="79.90" y2="345.23" stroke="#000" stroke-width="0.8"/>
<line x1="314.10" y1="345.23" x2="317.60" y2="345.23" stroke="#000" stroke-width="0.8"/>
<line x1="76.40" y1="317.97" x2="79.90" y2="317.97" stroke="#000" stroke-width="0.8"/>
<line x1="314.10" y1="317.97" x2="317.60" y2="317.97" stroke="#000" stroke-width="0.8"/>
<line x1="76.40" y1="290.70" x2="79.90" y2="290.70" stroke="#000" stroke-width="0.8"/>
<line x1="314.10" y1="290.70" x2="317.60" y2="290.70" stroke="#000" stroke-width="0.8"/>
<line x1="76.40" y1="263.43" x2="79.90" y2="263.43" stroke="#000" stroke-width="0.8"/>
<line x1="314.10" y1="263.43" x2="317.60" y2="263.43" stroke="#000" stroke-width="0.8"/>
<g font-family='"Liberation Serif", serif'>
<rect x="77.62" y="424.04" width="7.03" height="0.80" fill="#000"/><text x="85.61" y="427.20" font-size="11.50" textLength="11.50" lengthAdjust="spacingAndGlyphs">40</text>
<rect x="119.57" y="424.04" width="7.03" height="0.80" fill="#000"/><text x="127.56" y="427.20" font-size="11.50" textLength="11.50" lengthAdjust="spacingAndGlyphs">20</text>
<text x="167.91" y="427.20" font-size="11.50" textLength="5.75" lengthAdjust="spacingAndGlyphs">0</text>
<text x="206.98" y="427.20" font-size="11.50" textLength="11.50" lengthAdjust="spacingAndGlyphs">20</text>
<text x="248.93" y="427.20" font-size="11.50" textLength="11.50" lengthAdjust="spacingAndGlyphs">40</text>
<text x="290.88" y="427.20" font-size="11.50" textLength="11.50" lengthAdjust="spacingAndGlyphs">60</text>
<text x="57.50" y="403.57" font-size="11.50" textLength="14.70" lengthAdjust="spacingAndGlyphs">0.0</text>
<text x="57.50" y="376.30" font-size="11.50" textLength="14.70" lengthAdjust="spacingAndGlyphs">0.2</text>
<text x="57.50" y="349.03" font-size="11.50" textLength="14.70" lengthAdjust="spacingAndGlyphs">0.4</text>
<text x="57.50" y="321.77" font-size="11.50" textLength="14.70" lengthAdjust="spacingAndGlyphs">0.6</text>
<text x="57.50" y="294.50" font-size="11.50" textLength="14.70" lengthAdjust="spacingAndGlyphs">0.8</text>
<text x="57.50" y="267.23" font-size="11.50" textLength="14.70" lengthAdjust="spacingAndGlyphs">1.0</text>
</g>
<text x="180.20" y="443.3" font-family='"Liberation Serif", serif' font-size="12.5" font-style="italic" textLength="6.2" lengthAdjust="spacingAndGlyphs">x</text>
<text x="190.10" y="443.3" font-family='"Liberation Serif", serif' font-size="12.5" textLength="24.2" lengthAdjust="spacingAndGlyphs">[μm]</text>
<g transform="translate(50.50,333.70) rotate(-90)"><text x="0" y="0" font-family='"Liberation Sans", sans-serif' font-size="12.6" text-anchor="middle" textLength="150.5" lengthAdjust="spacingAndGlyphs"><tspan font-family='"Liberation Serif", serif' font-style="italic">y</tspan>-integrated power [arb. u.]</text></g>
<text x="80.50" y="264.6" font-family='"Liberation Sans", sans-serif' font-size="15.5">(c)</text>
<rect x="196.20" y="257.5" width="114.60" height="70.5" fill="#fff" stroke="#000" stroke-width="1.1"/>
<line x1="207.60" y1="270.20" x2="229.50" y2="270.20" stroke="#222" stroke-width="1.25"/>
<text x="236.50" y="274.60" font-family='"Liberation Sans", sans-serif' font-size="14.7">measured</text>
<line x1="208.10" y1="290.80" x2="229.50" y2="290.80" stroke="#000" stroke-width="1.2" stroke-dasharray="1.2 2.8"/>
<text x="236.50" y="295.20" font-family='"Liberation Sans", sans-serif' font-size="14.7">fit</text>
<line x1="207.60" y1="312.30" x2="229.50" y2="312.30" stroke="#000" stroke-width="1.25" stroke-dasharray="6 6"/>
<text x="236.50" y="316.70" font-family='"Liberation Sans", sans-serif' font-size="14.7">simulation</text>
<g clip-path="url(#cpd)" fill="none" stroke="#000">
<path d="M367.50,400.92 L368.03,399.87 L368.55,399.79 L369.08,400.76 L369.60,399.71 L370.13,400.69 L370.65,400.81 L371.18,400.13 L371.70,400.02 L372.23,400.05 L372.75,399.88 L373.28,400.16 L373.80,400.58 L374.33,401.04 L374.85,401.47 L375.38,400.45 L375.90,399.87 L376.43,399.97 L376.95,399.65 L377.48,400.20 L378.01,400.66 L378.53,400.65 L379.06,399.71 L379.58,400.82 L380.11,400.48 L380.63,400.80 L381.16,399.95 L381.68,400.31 L382.21,400.52 L382.73,400.48 L383.26,400.18 L383.78,399.58 L384.31,400.06 L384.83,399.35 L385.36,400.38 L385.88,400.57 L386.41,400.97 L386.94,401.13 L387.46,399.91 L387.99,399.38 L388.51,400.13 L389.04,400.47 L389.56,400.17 L390.09,399.37 L390.61,398.80 L391.14,398.61 L391.66,398.79 L392.19,399.68 L392.71,399.62 L393.24,399.93 L393.76,399.41 L394.29,399.03 L394.81,399.50 L395.34,399.59 L395.86,398.57 L396.39,399.45 L396.92,398.36 L397.44,397.59 L397.97,397.05 L398.49,397.79 L399.02,397.79 L399.54,397.66 L400.07,397.44 L400.59,396.61 L401.12,396.69 L401.64,397.39 L402.17,396.61 L402.69,396.86 L403.22,396.68 L403.74,396.28 L404.27,397.37 L404.79,396.37 L405.32,395.98 L405.84,396.02 L406.37,395.88 L406.90,395.82 L407.42,396.18 L407.95,395.60 L408.47,396.12 L409.00,395.36 L409.52,394.55 L410.05,394.37 L410.57,393.87 L411.10,392.68 L411.62,392.02 L412.15,392.91 L412.67,391.86 L413.20,391.41 L413.72,392.00 L414.25,391.42 L414.77,391.05 L415.30,390.84 L415.83,389.49 L416.35,387.70 L416.88,387.58 L417.40,386.07 L417.93,385.24 L418.45,385.45 L418.98,383.73 L419.50,382.90 L420.03,381.39 L420.55,380.56 L421.08,379.61 L421.60,379.39 L422.13,377.91 L422.65,376.43 L423.18,375.34 L423.70,375.12 L424.23,373.93 L424.75,373.40 L425.28,373.42 L425.81,373.15 L426.33,372.57 L426.86,371.70 L427.38,371.02 L427.91,369.77 L428.43,368.53 L428.96,368.04 L429.48,367.87 L430.01,367.27 L430.53,367.59 L431.06,367.46 L431.58,366.91 L432.11,367.51 L432.63,368.63 L433.16,368.37 L433.68,369.24 L434.21,371.12 L434.73,372.92 L435.26,374.44 L435.79,376.03 L436.31,378.54 L436.84,381.20 L437.36,383.12 L437.89,383.92 L438.41,386.44 L438.94,387.93 L439.46,389.95 L439.99,391.63 L440.51,393.17 L441.04,394.03 L441.56,395.38 L442.09,396.71 L442.61,397.52 L443.14,398.05 L443.66,397.86 L444.19,398.68 L444.72,399.16 L445.24,398.52 L445.77,398.12 L446.29,397.10 L446.82,397.49 L447.34,396.56 L447.87,395.52 L448.39,394.99 L448.92,392.07 L449.44,391.01 L449.97,389.52 L450.49,386.66 L451.02,384.23 L451.54,380.36 L452.07,376.95 L452.59,373.47 L453.12,369.46 L453.64,363.57 L454.17,358.72 L454.70,352.38 L455.22,346.78 L455.75,339.92 L456.27,334.48 L456.80,328.61 L457.32,322.42 L457.85,315.09 L458.37,308.70 L458.90,303.09 L459.42,297.99 L459.95,291.75 L460.47,285.74 L461.00,281.37 L461.52,278.51 L462.05,275.50 L462.57,272.65 L463.10,270.12 L463.62,268.43 L464.15,267.12 L464.68,265.11 L465.20,263.62 L465.73,264.30 L466.25,263.29 L466.78,264.02 L467.30,264.30 L467.83,265.02 L468.35,266.39 L468.88,270.15 L469.40,273.12 L469.93,275.92 L470.45,278.81 L470.98,284.28 L471.50,289.22 L472.03,293.41 L472.55,299.85 L473.08,305.60 L473.61,311.73 L474.13,317.31 L474.66,322.81 L475.18,330.15 L475.71,335.82 L476.23,341.65 L476.76,347.22 L477.28,353.24 L477.81,358.07 L478.33,363.89 L478.86,368.85 L479.38,373.62 L479.91,376.71 L480.43,380.37 L480.96,383.96 L481.48,387.12 L482.01,388.67 L482.53,390.51 L483.06,391.95 L483.59,393.88 L484.11,395.12 L484.64,396.75 L485.16,396.77 L485.69,398.29 L486.21,398.33 L486.74,397.84 L487.26,397.75 L487.79,398.74 L488.31,398.84 L488.84,397.55 L489.36,397.06 L489.89,396.08 L490.41,395.27 L490.94,395.29 L491.46,394.02 L491.99,393.23 L492.51,393.11 L493.04,392.45 L493.57,392.16 L494.09,390.84 L494.62,388.59 L495.14,388.58 L495.67,387.21 L496.19,386.97 L496.72,386.54 L497.24,384.94 L497.77,384.70 L498.29,384.82 L498.82,384.63 L499.34,383.64 L499.87,383.31 L500.39,384.31 L500.92,384.50 L501.44,383.32 L501.97,384.32 L502.49,384.36 L503.02,384.86 L503.55,384.66 L504.07,385.14 L504.60,385.29 L505.12,386.12 L505.65,387.48 L506.17,388.46 L506.70,389.42 L507.22,388.75 L507.75,390.06 L508.27,391.15 L508.80,390.16 L509.32,391.38 L509.85,390.91 L510.37,392.45 L510.90,392.72 L511.42,393.52 L511.95,392.97 L512.48,393.29 L513.00,393.58 L513.53,393.67 L514.05,393.67 L514.58,394.82 L515.10,395.04 L515.63,395.58 L516.15,396.60 L516.68,395.83 L517.20,396.01 L517.73,395.76 L518.25,396.88 L518.78,396.89 L519.30,397.10 L519.83,396.77 L520.35,397.91 L520.88,398.03 L521.40,397.88 L521.93,398.65 L522.46,398.17 L522.98,397.63 L523.51,398.01 L524.03,397.81 L524.56,397.84 L525.08,398.65 L525.61,398.84 L526.13,397.75 L526.66,398.51 L527.18,398.75 L527.71,399.57 L528.23,399.76 L528.76,400.00 L529.28,398.70 L529.81,398.47 L530.33,398.11 L530.86,397.76 L531.38,398.32 L531.91,398.03 L532.44,398.67 L532.96,399.25 L533.49,398.55 L534.01,398.32 L534.54,398.13 L535.06,398.96 L535.59,398.84 L536.11,399.50 L536.64,398.73 L537.16,398.51 L537.69,399.61 L538.21,398.96 L538.74,400.07 L539.26,400.82 L539.79,400.01 L540.31,400.43 L540.84,400.23 L541.37,399.90 L541.89,400.90 L542.42,400.06 L542.94,400.54 L543.47,400.49 L543.99,400.64 L544.52,399.96 L545.04,399.62 L545.57,400.33 L546.09,401.04 L546.62,401.03 L547.14,400.81 L547.67,401.34 L548.19,401.47 L548.72,400.37 L549.24,399.94 L549.77,399.20 L550.29,398.83 L550.82,398.84 L551.35,399.81 L551.87,400.70 L552.40,400.86 L552.92,400.65 L553.45,400.43 L553.97,400.28 L554.50,400.56 L555.02,399.76 L555.55,400.44 L556.07,400.45 L556.60,399.64 L557.12,399.39 L557.65,400.23 L558.17,400.76 L558.70,399.95 L559.22,401.07 L559.75,401.39 L560.27,400.79 L560.80,400.48 L561.33,401.04 L561.85,401.53 L562.38,401.49 L562.90,400.38 L563.43,400.41 L563.95,399.45 L564.48,399.33 L565.00,398.91 L565.53,400.50 L566.05,401.01 L566.58,401.59 L567.10,401.08 L567.63,401.00 L568.15,401.51 L568.68,400.83 L569.20,401.34 L569.73,401.19 L570.26,401.23 L570.78,400.20 L571.31,400.41 L571.83,400.82 L572.36,401.44 L572.88,401.01 L573.41,400.42 L573.93,400.03 L574.46,399.38 L574.98,399.26 L575.51,400.27 L576.03,400.99 L576.56,400.16 L577.08,399.68 L577.61,399.98 L578.13,399.51 L578.66,399.81 L579.18,400.48 L579.71,401.03 L580.24,401.59 L580.76,400.68 L581.29,399.74 L581.81,399.25 L582.34,399.84 L582.86,399.76 L583.39,399.22 L583.91,399.17 L584.44,399.54 L584.96,400.09 L585.49,400.17 L586.01,400.87 L586.54,401.19 L587.06,400.40 L587.59,399.42 L588.11,399.78 L588.64,400.22 L589.16,400.55 L589.69,400.52 L590.22,399.84 L590.74,400.16 L591.27,399.36 L591.79,400.49 L592.32,400.76 L592.84,400.49 L593.37,400.57 L593.89,399.77 L594.42,399.42 L594.94,399.04 L595.47,399.46 L595.99,400.78 L596.52,400.41 L597.04,400.26 L597.57,400.31 L598.09,400.73 L598.62,400.12 L599.15,399.43 L599.67,400.63 L600.20,400.15 L600.72,400.48 L601.25,400.37 L601.77,399.58 L602.30,399.07 L602.82,399.42 L603.35,400.45 L603.87,399.58 L604.40,400.55 L604.92,400.66 L605.45,399.86 L605.97,400.44 L606.50,400.81 L607.02,399.70 L607.55,399.16 L608.07,400.08 L608.60,400.40" stroke-width="1.25" stroke-linejoin="round"/>
<path d="M367.50,399.22 L368.03,399.22 L368.55,399.22 L369.08,399.22 L369.60,399.22 L370.13,399.22 L370.65,399.22 L371.18,399.22 L371.70,399.22 L372.23,399.22 L372.75,399.22 L373.28,399.22 L373.80,399.22 L374.33,399.22 L374.85,399.22 L375.38,399.22 L375.90,399.22 L376.43,399.22 L376.95,399.22 L377.48,399.22 L378.01,399.22 L378.53,399.22 L379.06,399.22 L379.58,399.22 L380.11,399.22 L380.63,399.22 L381.16,399.22 L381.68,399.22 L382.21,399.22 L382.73,399.22 L383.26,399.22 L383.78,399.22 L384.31,399.22 L384.83,399.22 L385.36,399.22 L385.88,399.22 L386.41,399.22 L386.94,399.22 L387.46,399.22 L387.99,399.22 L388.51,399.22 L389.04,399.22 L389.56,399.21 L390.09,399.21 L390.61,399.21 L391.14,399.21 L391.66,399.20 L392.19,399.20 L392.71,399.19 L393.24,399.19 L393.76,399.18 L394.29,399.17 L394.81,399.16 L395.34,399.15 L395.86,399.13 L396.39,399.12 L396.92,399.10 L397.44,399.07 L397.97,399.04 L398.49,399.01 L399.02,398.97 L399.54,398.93 L400.07,398.88 L400.59,398.82 L401.12,398.76 L401.64,398.69 L402.17,398.60 L402.69,398.51 L403.22,398.41 L403.74,398.29 L404.27,398.16 L404.79,398.02 L405.32,397.86 L405.84,397.69 L406.37,397.51 L406.90,397.30 L407.42,397.08 L407.95,396.85 L408.47,396.59 L409.00,396.32 L409.52,396.04 L410.05,395.73 L410.57,395.41 L411.10,395.08 L411.62,394.73 L412.15,394.37 L412.67,394.01 L413.20,393.63 L413.72,393.24 L414.25,392.85 L414.77,392.46 L415.30,392.07 L415.83,391.69 L416.35,391.31 L416.88,390.94 L417.40,390.58 L417.93,390.24 L418.45,389.92 L418.98,389.63 L419.50,389.35 L420.03,389.10 L420.55,388.89 L421.08,388.70 L421.60,388.55 L422.13,388.44 L422.65,388.36 L423.18,388.32 L423.70,388.32 L424.23,388.40 L424.75,388.56 L425.28,388.81 L425.81,389.12 L426.33,389.51 L426.86,389.95 L427.38,390.44 L427.91,390.97 L428.43,391.53 L428.96,392.10 L429.48,392.69 L430.01,393.27 L430.53,393.85 L431.06,394.40 L431.58,394.94 L432.11,395.44 L432.63,395.91 L433.16,396.34 L433.68,396.74 L434.21,397.10 L434.73,397.42 L435.26,397.70 L435.79,397.95 L436.31,398.16 L436.84,398.34 L437.36,398.49 L437.89,398.61 L438.41,398.70 L438.94,398.77 L439.46,398.80 L439.99,398.81 L440.51,398.78 L441.04,398.71 L441.56,398.59 L442.09,398.42 L442.61,398.19 L443.14,397.87 L443.66,397.45 L444.19,396.92 L444.72,396.25 L445.24,395.41 L445.77,394.39 L446.29,393.15 L446.82,391.67 L447.34,389.91 L447.87,387.85 L448.39,385.48 L448.92,382.76 L449.44,379.68 L449.97,376.23 L450.49,372.41 L451.02,368.23 L451.54,363.69 L452.07,358.82 L452.59,353.65 L453.12,348.21 L453.64,342.55 L454.17,336.73 L454.70,330.80 L455.22,324.82 L455.75,318.86 L456.27,312.98 L456.80,307.24 L457.32,301.71 L457.85,296.44 L458.37,291.48 L458.90,286.88 L459.42,282.66 L459.95,278.86 L460.47,275.48 L461.00,272.55 L461.52,270.05 L462.05,267.98 L462.57,266.32 L463.10,265.04 L463.62,264.10 L464.15,263.48 L464.68,263.10 L465.20,262.93 L465.73,262.89 L466.25,262.90 L466.78,263.02 L467.30,263.30 L467.83,263.83 L468.35,264.64 L468.88,265.78 L469.40,267.30 L469.93,269.21 L470.45,271.54 L470.98,274.30 L471.50,277.51 L472.03,281.15 L472.55,285.21 L473.08,289.67 L473.61,294.50 L474.13,299.65 L474.66,305.09 L475.18,310.75 L475.71,316.59 L476.23,322.52 L476.76,328.50 L477.28,334.46 L477.81,340.33 L478.33,346.06 L478.86,351.59 L479.38,356.86 L479.91,361.86 L480.43,366.52 L480.96,370.84 L481.48,374.80 L482.01,378.39 L482.53,381.61 L483.06,384.46 L483.59,386.96 L484.11,389.13 L484.64,391.00 L485.16,392.57 L485.69,393.89 L486.21,394.99 L486.74,395.88 L487.26,396.59 L487.79,397.16 L488.31,397.59 L488.84,397.92 L489.36,398.15 L489.89,398.31 L490.41,398.41 L490.94,398.45 L491.46,398.45 L491.99,398.41 L492.51,398.33 L493.04,398.22 L493.57,398.09 L494.09,397.93 L494.62,397.75 L495.14,397.54 L495.67,397.32 L496.19,397.07 L496.72,396.80 L497.24,396.51 L497.77,396.21 L498.29,395.89 L498.82,395.57 L499.34,395.23 L499.87,394.90 L500.39,394.56 L500.92,394.22 L501.44,393.90 L501.97,393.59 L502.49,393.30 L503.02,393.03 L503.55,392.79 L504.07,392.59 L504.60,392.41 L505.12,392.28 L505.65,392.19 L506.17,392.14 L506.70,392.13 L507.22,392.14 L507.75,392.16 L508.27,392.19 L508.80,392.24 L509.32,392.29 L509.85,392.35 L510.37,392.42 L510.90,392.51 L511.42,392.60 L511.95,392.70 L512.48,392.81 L513.00,392.93 L513.53,393.05 L514.05,393.18 L514.58,393.32 L515.10,393.46 L515.63,393.61 L516.15,393.76 L516.68,393.92 L517.20,394.08 L517.73,394.25 L518.25,394.41 L518.78,394.58 L519.30,394.75 L519.83,394.92 L520.35,395.09 L520.88,395.26 L521.40,395.42 L521.93,395.59 L522.46,395.75 L522.98,395.92 L523.51,396.08 L524.03,396.23 L524.56,396.38 L525.08,396.53 L525.61,396.68 L526.13,396.82 L526.66,396.96 L527.18,397.09 L527.71,397.22 L528.23,397.34 L528.76,397.46 L529.28,397.57 L529.81,397.68 L530.33,397.78 L530.86,397.88 L531.38,397.98 L531.91,398.07 L532.44,398.15 L532.96,398.23 L533.49,398.30 L534.01,398.38 L534.54,398.44 L535.06,398.50 L535.59,398.56 L536.11,398.62 L536.64,398.67 L537.16,398.72 L537.69,398.76 L538.21,398.80 L538.74,398.84 L539.26,398.87 L539.79,398.91 L540.31,398.94 L540.84,398.96 L541.37,398.99 L541.89,399.01 L542.42,399.03 L542.94,399.05 L543.47,399.07 L543.99,399.08 L544.52,399.10 L545.04,399.11 L545.57,399.12 L546.09,399.13 L546.62,399.14 L547.14,399.15 L547.67,399.16 L548.19,399.17 L548.72,399.17 L549.24,399.18 L549.77,399.18 L550.29,399.19 L550.82,399.19 L551.35,399.20 L551.87,399.20 L552.40,399.20 L552.92,399.20 L553.45,399.21 L553.97,399.21 L554.50,399.21 L555.02,399.21 L555.55,399.21 L556.07,399.21 L556.60,399.22 L557.12,399.22 L557.65,399.22 L558.17,399.22 L558.70,399.22 L559.22,399.22 L559.75,399.22 L560.27,399.22 L560.80,399.22 L561.33,399.22 L561.85,399.22 L562.38,399.22 L562.90,399.22 L563.43,399.22 L563.95,399.22 L564.48,399.22 L565.00,399.22 L565.53,399.22 L566.05,399.22 L566.58,399.22 L567.10,399.22 L567.63,399.22 L568.15,399.22 L568.68,399.22 L569.20,399.22 L569.73,399.22 L570.26,399.22 L570.78,399.22 L571.31,399.22 L571.83,399.22 L572.36,399.22 L572.88,399.22 L573.41,399.22 L573.93,399.22 L574.46,399.22 L574.98,399.22 L575.51,399.22 L576.03,399.22 L576.56,399.22 L577.08,399.22 L577.61,399.22 L578.13,399.22 L578.66,399.22 L579.18,399.22 L579.71,399.22 L580.24,399.22 L580.76,399.22 L581.29,399.22 L581.81,399.22 L582.34,399.22 L582.86,399.22 L583.39,399.22 L583.91,399.22 L584.44,399.22 L584.96,399.22 L585.49,399.22 L586.01,399.22 L586.54,399.22 L587.06,399.22 L587.59,399.22 L588.11,399.22 L588.64,399.22 L589.16,399.22 L589.69,399.22 L590.22,399.22 L590.74,399.22 L591.27,399.22 L591.79,399.22 L592.32,399.22 L592.84,399.22 L593.37,399.22 L593.89,399.22 L594.42,399.22 L594.94,399.22 L595.47,399.22 L595.99,399.22 L596.52,399.22 L597.04,399.22 L597.57,399.22 L598.09,399.22 L598.62,399.22 L599.15,399.22 L599.67,399.22 L600.20,399.22 L600.72,399.22 L601.25,399.22 L601.77,399.22 L602.30,399.22 L602.82,399.22 L603.35,399.22 L603.87,399.22 L604.40,399.22 L604.92,399.22 L605.45,399.22 L605.97,399.22 L606.50,399.22 L607.02,399.22 L607.55,399.22 L608.07,399.22 L608.60,399.22" stroke-width="1.2" stroke-dasharray="1.2 2.8"/>
<path d="M367.50,400.58 L368.03,400.58 L368.55,400.58 L369.08,400.58 L369.60,400.58 L370.13,400.58 L370.65,400.58 L371.18,400.58 L371.70,400.58 L372.23,400.58 L372.75,400.58 L373.28,400.58 L373.80,400.58 L374.33,400.58 L374.85,400.58 L375.38,400.58 L375.90,400.58 L376.43,400.58 L376.95,400.58 L377.48,400.58 L378.01,400.58 L378.53,400.58 L379.06,400.58 L379.58,400.58 L380.11,400.58 L380.63,400.58 L381.16,400.58 L381.68,400.58 L382.21,400.58 L382.73,400.58 L383.26,400.58 L383.78,400.58 L384.31,400.58 L384.83,400.58 L385.36,400.58 L385.88,400.58 L386.41,400.58 L386.94,400.58 L387.46,400.58 L387.99,400.58 L388.51,400.58 L389.04,400.58 L389.56,400.58 L390.09,400.58 L390.61,400.58 L391.14,400.58 L391.66,400.58 L392.19,400.58 L392.71,400.58 L393.24,400.58 L393.76,400.58 L394.29,400.58 L394.81,400.58 L395.34,400.58 L395.86,400.58 L396.39,400.58 L396.92,400.58 L397.44,400.58 L397.97,400.58 L398.49,400.58 L399.02,400.58 L399.54,400.58 L400.07,400.58 L400.59,400.58 L401.12,400.58 L401.64,400.57 L402.17,400.57 L402.69,400.56 L403.22,400.56 L403.74,400.55 L404.27,400.54 L404.79,400.53 L405.32,400.51 L405.84,400.49 L406.37,400.46 L406.90,400.42 L407.42,400.38 L407.95,400.33 L408.47,400.26 L409.00,400.18 L409.52,400.09 L410.05,399.97 L410.57,399.83 L411.10,399.66 L411.62,399.47 L412.15,399.24 L412.67,398.97 L413.20,398.66 L413.72,398.29 L414.25,397.88 L414.77,397.41 L415.30,396.88 L415.83,396.28 L416.35,395.62 L416.88,394.88 L417.40,394.06 L417.93,393.17 L418.45,392.21 L418.98,391.17 L419.50,390.06 L420.03,388.89 L420.55,387.65 L421.08,386.36 L421.60,385.03 L422.13,383.66 L422.65,382.28 L423.18,380.89 L423.70,379.51 L424.23,378.15 L424.75,376.84 L425.28,375.58 L425.81,374.41 L426.33,373.32 L426.86,372.35 L427.38,371.50 L427.91,370.79 L428.43,370.22 L428.96,369.82 L429.48,369.58 L430.01,369.50 L430.53,369.68 L431.06,370.17 L431.58,370.96 L432.11,372.02 L432.63,373.32 L433.16,374.83 L433.68,376.51 L434.21,378.30 L434.73,380.17 L435.26,382.08 L435.79,383.97 L436.31,385.83 L436.84,387.61 L437.36,389.29 L437.89,390.85 L438.41,392.28 L438.94,393.57 L439.46,394.72 L439.99,395.72 L440.51,396.58 L441.04,397.31 L441.56,397.91 L442.09,398.39 L442.61,398.76 L443.14,399.03 L443.66,399.19 L444.19,399.26 L444.72,399.22 L445.24,399.07 L445.77,398.81 L446.29,398.42 L446.82,397.88 L447.34,397.17 L447.87,396.27 L448.39,395.15 L448.92,393.79 L449.44,392.14 L449.97,390.19 L450.49,387.90 L451.02,385.24 L451.54,382.20 L452.07,378.74 L452.59,374.87 L453.12,370.57 L453.64,365.86 L454.17,360.75 L454.70,355.27 L455.22,349.46 L455.75,343.37 L456.27,337.06 L456.80,330.59 L457.32,324.05 L457.85,317.52 L458.37,311.08 L458.90,304.81 L459.42,298.80 L459.95,293.12 L460.47,287.85 L461.00,283.05 L461.52,278.76 L462.05,275.03 L462.57,271.87 L463.10,269.29 L463.62,267.29 L464.15,265.84 L464.68,264.90 L465.20,264.40 L465.73,264.25 L466.25,264.32 L466.78,264.70 L467.30,265.54 L467.83,266.91 L468.35,268.87 L468.88,271.45 L469.40,274.66 L469.93,278.50 L470.45,282.94 L470.98,287.94 L471.50,293.44 L472.03,299.37 L472.55,305.66 L473.08,312.22 L473.61,318.95 L474.13,325.76 L474.66,332.55 L475.18,339.24 L475.71,345.73 L476.23,351.96 L476.76,357.86 L477.28,363.38 L477.81,368.48 L478.33,373.14 L478.86,377.34 L479.38,381.08 L479.91,384.38 L480.43,387.24 L480.96,389.70 L481.48,391.78 L482.01,393.51 L482.53,394.93 L483.06,396.08 L483.59,396.98 L484.11,397.67 L484.64,398.16 L485.16,398.50 L485.69,398.68 L486.21,398.74 L486.74,398.67 L487.26,398.51 L487.79,398.24 L488.31,397.87 L488.84,397.42 L489.36,396.88 L489.89,396.25 L490.41,395.56 L490.94,394.79 L491.46,393.97 L491.99,393.10 L492.51,392.20 L493.04,391.28 L493.57,390.37 L494.09,389.48 L494.62,388.63 L495.14,387.86 L495.67,387.17 L496.19,386.58 L496.72,386.12 L497.24,385.80 L497.77,385.62 L498.29,385.59 L498.82,385.67 L499.34,385.83 L499.87,386.08 L500.39,386.40 L500.92,386.81 L501.44,387.27 L501.97,387.80 L502.49,388.39 L503.02,389.01 L503.55,389.67 L504.07,390.35 L504.60,391.04 L505.12,391.74 L505.65,392.44 L506.17,393.12 L506.70,393.79 L507.22,394.44 L507.75,395.06 L508.27,395.64 L508.80,396.19 L509.32,396.70 L509.85,397.17 L510.37,397.61 L510.90,398.00 L511.42,398.35 L511.95,398.67 L512.48,398.95 L513.00,399.20 L513.53,399.42 L514.05,399.61 L514.58,399.77 L515.10,399.91 L515.63,400.03 L516.15,400.13 L516.68,400.22 L517.20,400.29 L517.73,400.35 L518.25,400.39 L518.78,400.43 L519.30,400.46 L519.83,400.49 L520.35,400.51 L520.88,400.53 L521.40,400.54 L521.93,400.55 L522.46,400.56 L522.98,400.57 L523.51,400.57 L524.03,400.57 L524.56,400.58 L525.08,400.58 L525.61,400.58 L526.13,400.58 L526.66,400.58 L527.18,400.58 L527.71,400.58 L528.23,400.58 L528.76,400.58 L529.28,400.58 L529.81,400.58 L530.33,400.58 L530.86,400.58 L531.38,400.58 L531.91,400.58 L532.44,400.58 L532.96,400.58 L533.49,400.58 L534.01,400.58 L534.54,400.58 L535.06,400.58 L535.59,400.58 L536.11,400.58 L536.64,400.58 L537.16,400.58 L537.69,400.58 L538.21,400.58 L538.74,400.58 L539.26,400.58 L539.79,400.58 L540.31,400.58 L540.84,400.58 L541.37,400.58 L541.89,400.58 L542.42,400.58 L542.94,400.58 L543.47,400.58 L543.99,400.58 L544.52,400.58 L545.04,400.58 L545.57,400.58 L546.09,400.58 L546.62,400.58 L547.14,400.58 L547.67,400.58 L548.19,400.58 L548.72,400.58 L549.24,400.58 L549.77,400.58 L550.29,400.58 L550.82,400.58 L551.35,400.58 L551.87,400.58 L552.40,400.58 L552.92,400.58 L553.45,400.58 L553.97,400.58 L554.50,400.58 L555.02,400.58 L555.55,400.58 L556.07,400.58 L556.60,400.58 L557.12,400.58 L557.65,400.58 L558.17,400.58 L558.70,400.58 L559.22,400.58 L559.75,400.58 L560.27,400.58 L560.80,400.58 L561.33,400.58 L561.85,400.58 L562.38,400.58 L562.90,400.58 L563.43,400.58 L563.95,400.58 L564.48,400.58 L565.00,400.58 L565.53,400.58 L566.05,400.58 L566.58,400.58 L567.10,400.58 L567.63,400.58 L568.15,400.58 L568.68,400.58 L569.20,400.58 L569.73,400.58 L570.26,400.58 L570.78,400.58 L571.31,400.58 L571.83,400.58 L572.36,400.58 L572.88,400.58 L573.41,400.58 L573.93,400.58 L574.46,400.58 L574.98,400.58 L575.51,400.58 L576.03,400.58 L576.56,400.58 L577.08,400.58 L577.61,400.58 L578.13,400.58 L578.66,400.58 L579.18,400.58 L579.71,400.58 L580.24,400.58 L580.76,400.58 L581.29,400.58 L581.81,400.58 L582.34,400.58 L582.86,400.58 L583.39,400.58 L583.91,400.58 L584.44,400.58 L584.96,400.58 L585.49,400.58 L586.01,400.58 L586.54,400.58 L587.06,400.58 L587.59,400.58 L588.11,400.58 L588.64,400.58 L589.16,400.58 L589.69,400.58 L590.22,400.58 L590.74,400.58 L591.27,400.58 L591.79,400.58 L592.32,400.58 L592.84,400.58 L593.37,400.58 L593.89,400.58 L594.42,400.58 L594.94,400.58 L595.47,400.58 L595.99,400.58 L596.52,400.58 L597.04,400.58 L597.57,400.58 L598.09,400.58 L598.62,400.58 L599.15,400.58 L599.67,400.58 L600.20,400.58 L600.72,400.58 L601.25,400.58 L601.77,400.58 L602.30,400.58 L602.82,400.58 L603.35,400.58 L603.87,400.58 L604.40,400.58 L604.92,400.58 L605.45,400.58 L605.97,400.58 L606.50,400.58 L607.02,400.58 L607.55,400.58 L608.07,400.58 L608.60,400.58" stroke-width="1.25" stroke-dasharray="6 6"/>
</g>
<rect x="367.50" y="249.80" width="241.10" height="163.60" fill="none" stroke="#000" stroke-width="1.2"/>
<line x1="377.98" y1="413.40" x2="377.98" y2="409.90" stroke="#000" stroke-width="0.8"/>
<line x1="377.98" y1="249.80" x2="377.98" y2="253.30" stroke="#000" stroke-width="0.8"/>
<line x1="419.91" y1="413.40" x2="419.91" y2="409.90" stroke="#000" stroke-width="0.8"/>
<line x1="419.91" y1="249.80" x2="419.91" y2="253.30" stroke="#000" stroke-width="0.8"/>
<line x1="461.84" y1="413.40" x2="461.84" y2="409.90" stroke="#000" stroke-width="0.8"/>
<line x1="461.84" y1="249.80" x2="461.84" y2="253.30" stroke="#000" stroke-width="0.8"/>
<line x1="503.77" y1="413.40" x2="503.77" y2="409.90" stroke="#000" stroke-width="0.8"/>
<line x1="503.77" y1="249.80" x2="503.77" y2="253.30" stroke="#000" stroke-width="0.8"/>
<line x1="545.70" y1="413.40" x2="545.70" y2="409.90" stroke="#000" stroke-width="0.8"/>
<line x1="545.70" y1="249.80" x2="545.70" y2="253.30" stroke="#000" stroke-width="0.8"/>
<line x1="587.63" y1="413.40" x2="587.63" y2="409.90" stroke="#000" stroke-width="0.8"/>
<line x1="587.63" y1="249.80" x2="587.63" y2="253.30" stroke="#000" stroke-width="0.8"/>
<line x1="367.50" y1="399.77" x2="371.00" y2="399.77" stroke="#000" stroke-width="0.8"/>
<line x1="605.10" y1="399.77" x2="608.60" y2="399.77" stroke="#000" stroke-width="0.8"/>
<line x1="367.50" y1="372.50" x2="371.00" y2="372.50" stroke="#000" stroke-width="0.8"/>
<line x1="605.10" y1="372.50" x2="608.60" y2="372.50" stroke="#000" stroke-width="0.8"/>
<line x1="367.50" y1="345.23" x2="371.00" y2="345.23" stroke="#000" stroke-width="0.8"/>
<line x1="605.10" y1="345.23" x2="608.60" y2="345.23" stroke="#000" stroke-width="0.8"/>
<line x1="367.50" y1="317.97" x2="371.00" y2="317.97" stroke="#000" stroke-width="0.8"/>
<line x1="605.10" y1="317.97" x2="608.60" y2="317.97" stroke="#000" stroke-width="0.8"/>
<line x1="367.50" y1="290.70" x2="371.00" y2="290.70" stroke="#000" stroke-width="0.8"/>
<line x1="605.10" y1="290.70" x2="608.60" y2="290.70" stroke="#000" stroke-width="0.8"/>
<line x1="367.50" y1="263.43" x2="371.00" y2="263.43" stroke="#000" stroke-width="0.8"/>
<line x1="605.10" y1="263.43" x2="608.60" y2="263.43" stroke="#000" stroke-width="0.8"/>
<g font-family='"Liberation Serif", serif'>
<rect x="368.71" y="424.04" width="7.03" height="0.80" fill="#000"/><text x="376.71" y="427.20" font-size="11.50" textLength="11.50" lengthAdjust="spacingAndGlyphs">40</text>
<rect x="410.64" y="424.04" width="7.03" height="0.80" fill="#000"/><text x="418.64" y="427.20" font-size="11.50" textLength="11.50" lengthAdjust="spacingAndGlyphs">20</text>
<text x="458.97" y="427.20" font-size="11.50" textLength="5.75" lengthAdjust="spacingAndGlyphs">0</text>
<text x="498.02" y="427.20" font-size="11.50" textLength="11.50" lengthAdjust="spacingAndGlyphs">20</text>
<text x="539.95" y="427.20" font-size="11.50" textLength="11.50" lengthAdjust="spacingAndGlyphs">40</text>
<text x="581.88" y="427.20" font-size="11.50" textLength="11.50" lengthAdjust="spacingAndGlyphs">60</text>
<text x="348.60" y="403.57" font-size="11.50" textLength="14.70" lengthAdjust="spacingAndGlyphs">0.0</text>
<text x="348.60" y="376.30" font-size="11.50" textLength="14.70" lengthAdjust="spacingAndGlyphs">0.2</text>
<text x="348.60" y="349.03" font-size="11.50" textLength="14.70" lengthAdjust="spacingAndGlyphs">0.4</text>
<text x="348.60" y="321.77" font-size="11.50" textLength="14.70" lengthAdjust="spacingAndGlyphs">0.6</text>
<text x="348.60" y="294.50" font-size="11.50" textLength="14.70" lengthAdjust="spacingAndGlyphs">0.8</text>
<text x="348.60" y="267.23" font-size="11.50" textLength="14.70" lengthAdjust="spacingAndGlyphs">1.0</text>
</g>
<text x="471.25" y="443.3" font-family='"Liberation Serif", serif' font-size="12.5" font-style="italic" textLength="6.2" lengthAdjust="spacingAndGlyphs">y</text>
<text x="481.15" y="443.3" font-family='"Liberation Serif", serif' font-size="12.5" textLength="24.2" lengthAdjust="spacingAndGlyphs">[μm]</text>
<g transform="translate(341.60,333.70) rotate(-90)"><text x="0" y="0" font-family='"Liberation Sans", sans-serif' font-size="12.6" text-anchor="middle" textLength="150.5" lengthAdjust="spacingAndGlyphs"><tspan font-family='"Liberation Serif", serif' font-style="italic">x</tspan>-integrated power [arb. u.]</text></g>
<text x="371.60" y="264.6" font-family='"Liberation Sans", sans-serif' font-size="15.5">(d)</text>
<rect x="487.00" y="257.5" width="114.60" height="70.5" fill="#fff" stroke="#000" stroke-width="1.1"/>
<line x1="498.40" y1="270.20" x2="520.30" y2="270.20" stroke="#222" stroke-width="1.25"/>
<text x="527.30" y="274.60" font-family='"Liberation Sans", sans-serif' font-size="14.7">measured</text>
<line x1="498.90" y1="290.80" x2="520.30" y2="290.80" stroke="#000" stroke-width="1.2" stroke-dasharray="1.2 2.8"/>
<text x="527.30" y="295.20" font-family='"Liberation Sans", sans-serif' font-size="14.7">fit</text>
<line x1="498.40" y1="312.30" x2="520.30" y2="312.30" stroke="#000" stroke-width="1.25" stroke-dasharray="6 6"/>
<text x="527.30" y="316.70" font-family='"Liberation Sans", sans-serif' font-size="14.7">simulation</text>
</svg>
</body></html>
